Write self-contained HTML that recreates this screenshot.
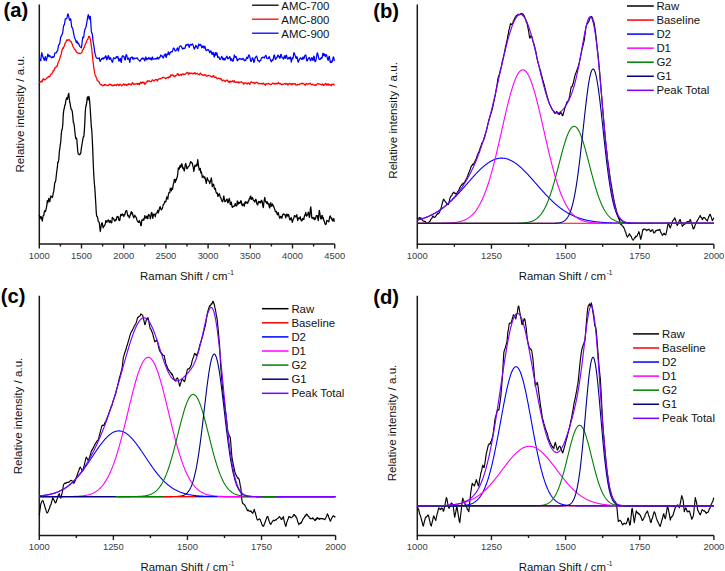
<!DOCTYPE html>
<html><head><meta charset="utf-8"><style>
html,body{margin:0;padding:0;background:#fff;}
svg{display:block;font-family:"Liberation Sans", sans-serif;}
</style></head><body>
<svg width="725" height="571" viewBox="0 0 725 571">
<rect width="725" height="571" fill="#fff"/>
<path d="M39.3 4.4V244H334.7" fill="none" stroke="#1a1a1a" stroke-width="1.5"/>
<text x="39.30" y="258.6" font-size="9.4" text-anchor="middle" fill="#3c3c3c">1000</text>
<text x="81.50" y="258.6" font-size="9.4" text-anchor="middle" fill="#3c3c3c">1500</text>
<text x="123.70" y="258.6" font-size="9.4" text-anchor="middle" fill="#3c3c3c">2000</text>
<text x="165.90" y="258.6" font-size="9.4" text-anchor="middle" fill="#3c3c3c">2500</text>
<text x="208.10" y="258.6" font-size="9.4" text-anchor="middle" fill="#3c3c3c">3000</text>
<text x="250.30" y="258.6" font-size="9.4" text-anchor="middle" fill="#3c3c3c">3500</text>
<text x="292.50" y="258.6" font-size="9.4" text-anchor="middle" fill="#3c3c3c">4000</text>
<text x="334.70" y="258.6" font-size="9.4" text-anchor="middle" fill="#3c3c3c">4500</text>
<path d="M39.30 244v4.6M60.40 244v2.6M81.50 244v4.6M102.60 244v2.6M123.70 244v4.6M144.80 244v2.6M165.90 244v4.6M187.00 244v2.6M208.10 244v4.6M229.20 244v2.6M250.30 244v4.6M271.40 244v2.6M292.50 244v4.6M313.60 244v2.6M334.70 244v4.6" stroke="#1a1a1a" stroke-width="1.4"/>
<text x="187.00" y="280" font-size="11.4" text-anchor="middle" fill="#111">Raman Shift / cm<tspan dx="0.6" dy="-5.2" font-size="6.6">-1</tspan></text>
<text transform="translate(23.5 114.2) rotate(-90)" font-size="11.6" text-anchor="middle" fill="#111">Relative intensity / a.u.</text>
<text x="3.5" y="17.2" font-size="20.2" font-weight="bold" fill="#000">(a)</text>
<path d="M39.30 214.82L39.80 218.55L40.30 218.35L40.80 216.48L41.30 217.02L41.80 219.43L42.30 221.16L42.80 217.45L43.30 215.36L43.80 215.43L44.30 211.84L44.80 210.65L45.30 211.68L45.80 210.41L46.30 208.16L46.80 205.73L47.30 200.53L47.80 202.94L48.30 200.96L48.80 198.32L49.30 200.74L49.80 201.63L50.30 198.58L50.80 195.99L51.30 196.39L51.80 196.71L52.30 197.72L52.80 195.73L53.30 192.75L53.80 191.12L54.30 186.62L54.80 182.48L55.30 182.05L55.80 180.05L56.30 175.36L56.80 171.09L57.30 167.97L57.80 162.10L58.30 162.23L58.80 159.36L59.30 152.02L59.80 148.66L60.30 144.60L60.80 141.23L61.30 133.64L61.80 129.90L62.30 129.03L62.80 124.24L63.30 114.05L63.80 110.07L64.30 108.25L64.80 105.13L65.30 104.97L65.80 100.64L66.30 99.10L66.80 97.60L67.30 99.30L67.80 97.50L68.30 94.51L68.80 93.35L69.30 99.18L69.80 102.24L70.30 104.56L70.80 107.97L71.30 109.47L71.80 109.84L72.30 111.73L72.80 116.10L73.30 122.31L73.80 122.87L74.30 126.05L74.80 130.99L75.30 135.68L75.80 138.57L76.30 137.90L76.80 139.32L77.30 145.69L77.80 151.88L78.30 154.08L78.80 154.17L79.30 154.08L79.80 154.76L80.30 153.97L80.80 152.87L81.30 148.50L81.80 145.58L82.30 142.51L82.80 139.57L83.30 136.88L83.80 136.62L84.30 131.42L84.80 122.87L85.30 111.27L85.80 106.73L86.30 104.78L86.80 102.20L87.30 96.95L87.80 99.26L88.30 99.80L88.80 96.43L89.30 97.81L89.80 102.84L90.30 110.05L90.80 118.39L91.30 126.42L91.80 130.49L92.30 139.58L92.80 151.13L93.30 164.77L93.80 175.15L94.30 183.03L94.80 187.88L95.30 195.60L95.80 203.77L96.30 213.12L96.80 216.50L97.30 216.60L97.80 218.40L98.30 221.53L98.80 221.79L99.30 222.72L99.80 227.38L100.30 231.53L100.80 228.02L101.30 224.77L101.80 222.98L102.30 222.98L102.80 226.32L103.30 227.76L103.80 226.33L104.30 225.75L104.80 225.15L105.30 223.69L105.80 220.69L106.30 221.27L106.80 222.35L107.30 221.00L107.80 220.36L108.30 219.89L108.80 220.87L109.30 222.53L109.80 220.95L110.30 220.62L110.80 222.23L111.30 222.91L111.80 222.41L112.30 217.26L112.80 218.70L113.30 218.47L113.80 218.74L114.30 220.39L114.80 221.15L115.30 220.54L115.80 219.30L116.30 220.02L116.80 217.39L117.30 216.38L117.80 217.31L118.30 216.80L118.80 220.11L119.30 220.54L119.80 220.45L120.30 216.69L120.80 214.28L121.30 215.02L121.80 215.65L122.30 213.95L122.80 214.37L123.30 215.10L123.80 216.60L124.30 214.39L124.80 214.80L125.30 212.66L125.80 210.80L126.30 210.71L126.80 210.79L127.30 213.52L127.80 215.95L128.30 215.45L128.80 216.29L129.30 217.93L129.80 216.25L130.30 214.83L130.80 213.22L131.30 211.69L131.80 213.91L132.30 212.54L132.80 215.02L133.30 216.50L133.80 217.81L134.30 216.40L134.80 215.11L135.30 216.75L135.80 216.81L136.30 217.71L136.80 219.52L137.30 220.79L137.80 221.66L138.30 221.96L138.80 222.44L139.30 220.52L139.80 222.00L140.30 222.52L140.80 225.69L141.30 225.48L141.80 219.96L142.30 220.41L142.80 220.40L143.30 218.86L143.80 220.11L144.30 218.37L144.80 215.53L145.30 216.98L145.80 218.19L146.30 217.79L146.80 216.13L147.30 218.27L147.80 218.64L148.30 215.14L148.80 214.47L149.30 215.37L149.80 215.91L150.30 218.78L150.80 216.73L151.30 212.96L151.80 212.39L152.30 214.90L152.80 218.38L153.30 215.51L153.80 214.01L154.30 214.35L154.80 214.59L155.30 216.77L155.80 213.69L156.30 213.23L156.80 212.95L157.30 212.10L157.80 210.25L158.30 212.98L158.80 211.39L159.30 209.21L159.80 207.01L160.30 206.77L160.80 208.92L161.30 209.88L161.80 209.15L162.30 208.57L162.80 206.63L163.30 204.42L163.80 204.32L164.30 203.22L164.80 201.27L165.30 201.64L165.80 201.86L166.30 199.10L166.80 196.79L167.30 198.02L167.80 199.09L168.30 195.20L168.80 192.78L169.30 192.53L169.80 192.58L170.30 188.21L170.80 189.50L171.30 190.87L171.80 188.18L172.30 189.47L172.80 187.91L173.30 184.45L173.80 182.83L174.30 179.40L174.80 179.82L175.30 182.38L175.80 179.40L176.30 180.18L176.80 178.09L177.30 176.85L177.80 173.28L178.30 167.78L178.80 168.22L179.30 169.18L179.80 166.36L180.30 165.18L180.80 167.35L181.30 166.06L181.80 163.67L182.30 165.38L182.80 168.33L183.30 167.81L183.80 169.68L184.30 171.00L184.80 167.92L185.30 164.25L185.80 163.52L186.30 166.22L186.80 168.64L187.30 168.35L187.80 167.77L188.30 166.36L188.80 166.42L189.30 165.46L189.80 164.44L190.30 162.38L190.80 161.50L191.30 162.85L191.80 162.55L192.30 163.15L192.80 165.92L193.30 167.39L193.80 171.40L194.30 169.15L194.80 165.29L195.30 166.27L195.80 165.99L196.30 164.63L196.80 166.08L197.30 162.94L197.80 159.63L198.30 164.97L198.80 167.41L199.30 170.20L199.80 168.59L200.30 168.43L200.80 172.81L201.30 171.87L201.80 173.94L202.30 177.49L202.80 176.72L203.30 176.00L203.80 177.04L204.30 178.19L204.80 176.88L205.30 178.69L205.80 181.10L206.30 183.39L206.80 179.78L207.30 177.74L207.80 180.08L208.30 180.06L208.80 180.86L209.30 182.12L209.80 183.51L210.30 181.69L210.80 180.56L211.30 177.89L211.80 181.14L212.30 186.69L212.80 185.36L213.30 184.12L213.80 184.86L214.30 188.48L214.80 189.29L215.30 188.21L215.80 191.13L216.30 192.79L216.80 193.36L217.30 192.99L217.80 196.28L218.30 195.97L218.80 194.30L219.30 193.78L219.80 195.12L220.30 197.43L220.80 197.50L221.30 199.45L221.80 200.50L222.30 201.77L222.80 201.26L223.30 198.52L223.80 195.78L224.30 199.02L224.80 201.70L225.30 201.44L225.80 201.31L226.30 199.84L226.80 199.05L227.30 199.43L227.80 202.87L228.30 202.24L228.80 199.75L229.30 198.37L229.80 200.97L230.30 204.65L230.80 203.77L231.30 202.18L231.80 205.54L232.30 207.32L232.80 206.68L233.30 206.32L233.80 206.66L234.30 205.98L234.80 205.12L235.30 203.49L235.80 205.78L236.30 205.93L236.80 205.92L237.30 200.79L237.80 202.56L238.30 204.22L238.80 202.21L239.30 202.57L239.80 203.46L240.30 202.69L240.80 200.65L241.30 201.34L241.80 204.40L242.30 205.78L242.80 204.36L243.30 204.03L243.80 205.19L244.30 206.18L244.80 203.02L245.30 201.61L245.80 203.25L246.30 202.07L246.80 202.01L247.30 203.31L247.80 203.18L248.30 200.87L248.80 201.10L249.30 198.27L249.80 198.91L250.30 196.44L250.80 196.12L251.30 199.33L251.80 198.78L252.30 197.54L252.80 198.49L253.30 200.42L253.80 200.44L254.30 200.88L254.80 202.18L255.30 200.00L255.80 199.19L256.30 200.31L256.80 203.56L257.30 204.84L257.80 204.59L258.30 202.22L258.80 201.41L259.30 202.51L259.80 201.65L260.30 202.92L260.80 202.90L261.30 200.46L261.80 200.44L262.30 201.91L262.80 205.94L263.30 207.65L263.80 203.32L264.30 200.22L264.80 197.47L265.30 200.62L265.80 202.15L266.30 201.56L266.80 203.49L267.30 201.79L267.80 203.17L268.30 204.62L268.80 203.87L269.30 207.10L269.80 207.98L270.30 203.65L270.80 202.74L271.30 206.18L271.80 206.08L272.30 203.92L272.80 204.81L273.30 205.96L273.80 206.71L274.30 208.43L274.80 209.29L275.30 211.54L275.80 211.85L276.30 211.31L276.80 212.87L277.30 214.76L277.80 214.24L278.30 212.48L278.80 215.37L279.30 216.74L279.80 218.30L280.30 216.83L280.80 216.29L281.30 216.87L281.80 218.39L282.30 216.29L282.80 214.41L283.30 214.56L283.80 213.83L284.30 214.21L284.80 214.49L285.30 215.75L285.80 217.84L286.30 215.02L286.80 214.16L287.30 214.99L287.80 216.21L288.30 214.50L288.80 215.16L289.30 217.89L289.80 219.92L290.30 219.46L290.80 218.03L291.30 217.62L291.80 220.29L292.30 222.36L292.80 220.66L293.30 219.24L293.80 218.41L294.30 215.91L294.80 215.64L295.30 216.20L295.80 216.91L296.30 215.97L296.80 214.70L297.30 218.55L297.80 220.64L298.30 218.04L298.80 217.88L299.30 218.64L299.80 218.66L300.30 216.75L300.80 219.99L301.30 219.72L301.80 220.98L302.30 219.94L302.80 218.31L303.30 218.74L303.80 219.54L304.30 216.69L304.80 215.34L305.30 214.00L305.80 212.40L306.30 215.97L306.80 216.08L307.30 214.53L307.80 214.78L308.30 212.16L308.80 213.35L309.30 217.45L309.80 216.33L310.30 209.67L310.80 206.85L311.30 212.11L311.80 217.94L312.30 217.64L312.80 217.80L313.30 218.95L313.80 217.39L314.30 218.35L314.80 219.75L315.30 219.08L315.80 217.57L316.30 215.60L316.80 215.90L317.30 215.61L317.80 218.66L318.30 220.64L318.80 214.67L319.30 210.26L319.80 212.93L320.30 216.54L320.80 218.88L321.30 218.81L321.80 215.64L322.30 215.51L322.80 218.54L323.30 217.72L323.80 220.35L324.30 221.22L324.80 223.05L325.30 224.37L325.80 224.58L326.30 223.55L326.80 220.47L327.30 220.81L327.80 220.94L328.30 221.27L328.80 221.88L329.30 219.00L329.80 216.47L330.30 215.94L330.80 217.15L331.30 218.79L331.80 218.07L332.30 220.58L332.80 220.83L333.30 219.36L333.80 218.54L334.30 221.82" fill="none" stroke="#000" stroke-width="1.25" stroke-linejoin="round" />
<path d="M39.30 82.84L39.80 82.40L40.30 82.18L40.80 81.64L41.30 81.03L41.80 81.90L42.30 81.57L42.80 79.34L43.30 78.77L43.80 79.13L44.30 79.96L44.80 79.66L45.30 79.72L45.80 79.16L46.30 78.55L46.80 78.13L47.30 77.82L47.80 77.57L48.30 76.41L48.80 76.46L49.30 76.87L49.80 76.76L50.30 74.96L50.80 74.23L51.30 74.21L51.80 74.02L52.30 72.96L52.80 72.10L53.30 70.36L53.80 70.89L54.30 69.66L54.80 67.85L55.30 67.91L55.80 67.49L56.30 66.37L56.80 66.28L57.30 65.76L57.80 63.70L58.30 62.15L58.80 61.08L59.30 60.30L59.80 58.44L60.30 56.77L60.80 55.31L61.30 53.69L61.80 51.19L62.30 49.17L62.80 48.02L63.30 48.23L63.80 46.86L64.30 45.95L64.80 44.00L65.30 42.88L65.80 42.47L66.30 41.13L66.80 39.79L67.30 39.90L67.80 40.63L68.30 39.93L68.80 39.82L69.30 39.72L69.80 40.33L70.30 41.51L70.80 41.56L71.30 42.06L71.80 43.16L72.30 44.14L72.80 45.99L73.30 47.16L73.80 47.61L74.30 49.14L74.80 49.29L75.30 50.23L75.80 50.70L76.30 51.69L76.80 52.33L77.30 52.58L77.80 52.92L78.30 53.28L78.80 53.28L79.30 53.19L79.80 53.70L80.30 53.73L80.80 53.30L81.30 52.84L81.80 52.56L82.30 50.66L82.80 49.84L83.30 49.54L83.80 47.72L84.30 47.21L84.80 45.63L85.30 44.57L85.80 42.83L86.30 42.65L86.80 40.84L87.30 39.69L87.80 39.39L88.30 37.64L88.80 36.33L89.30 36.27L89.80 37.59L90.30 39.26L90.80 42.13L91.30 45.87L91.80 49.43L92.30 54.44L92.80 59.63L93.30 63.78L93.80 67.59L94.30 71.00L94.80 73.93L95.30 75.57L95.80 76.20L96.30 77.75L96.80 78.92L97.30 80.64L97.80 80.72L98.30 81.43L98.80 81.60L99.30 82.60L99.80 83.72L100.30 84.22L100.80 84.55L101.30 84.30L101.80 85.05L102.30 85.01L102.80 85.87L103.30 85.31L103.80 85.35L104.30 84.54L104.80 85.04L105.30 84.58L105.80 84.82L106.30 85.07L106.80 85.07L107.30 85.48L107.80 85.77L108.30 85.58L108.80 84.87L109.30 84.26L109.80 84.59L110.30 84.53L110.80 84.20L111.30 85.38L111.80 85.06L112.30 85.26L112.80 85.83L113.30 85.65L113.80 85.09L114.30 84.69L114.80 85.30L115.30 85.12L115.80 84.89L116.30 85.69L116.80 84.95L117.30 84.03L117.80 84.64L118.30 84.59L118.80 85.68L119.30 85.22L119.80 84.18L120.30 84.36L120.80 84.82L121.30 85.10L121.80 85.81L122.30 85.26L122.80 84.80L123.30 84.55L123.80 83.72L124.30 84.89L124.80 85.09L125.30 84.42L125.80 84.33L126.30 85.27L126.80 85.67L127.30 84.49L127.80 84.19L128.30 84.67L128.80 83.58L129.30 84.34L129.80 84.25L130.30 84.55L130.80 84.17L131.30 84.92L131.80 84.01L132.30 82.73L132.80 82.79L133.30 84.00L133.80 84.68L134.30 84.10L134.80 83.86L135.30 83.86L135.80 84.22L136.30 84.00L136.80 83.57L137.30 83.33L137.80 84.37L138.30 83.96L138.80 83.29L139.30 84.60L139.80 83.65L140.30 82.47L140.80 82.13L141.30 83.31L141.80 83.10L142.30 82.12L142.80 81.98L143.30 82.99L143.80 82.24L144.30 82.88L144.80 84.43L145.30 83.93L145.80 82.82L146.30 82.12L146.80 81.84L147.30 80.80L147.80 81.58L148.30 81.08L148.80 80.58L149.30 80.78L149.80 81.72L150.30 81.58L150.80 81.64L151.30 81.52L151.80 80.46L152.30 79.89L152.80 79.81L153.30 80.70L153.80 81.09L154.30 80.74L154.80 80.56L155.30 79.68L155.80 79.73L156.30 79.41L156.80 79.73L157.30 81.02L157.80 80.20L158.30 79.13L158.80 79.03L159.30 78.97L159.80 78.58L160.30 78.97L160.80 78.26L161.30 78.35L161.80 78.07L162.30 77.98L162.80 77.39L163.30 77.21L163.80 77.47L164.30 77.65L164.80 77.86L165.30 78.31L165.80 78.84L166.30 78.19L166.80 77.66L167.30 77.66L167.80 77.33L168.30 78.03L168.80 77.14L169.30 76.40L169.80 77.26L170.30 76.51L170.80 74.93L171.30 75.64L171.80 75.47L172.30 74.77L172.80 75.04L173.30 75.38L173.80 76.03L174.30 76.44L174.80 76.87L175.30 75.65L175.80 75.89L176.30 75.35L176.80 74.92L177.30 73.88L177.80 73.55L178.30 74.39L178.80 75.42L179.30 75.67L179.80 75.09L180.30 74.59L180.80 74.34L181.30 75.41L181.80 74.98L182.30 73.98L182.80 73.82L183.30 73.85L183.80 74.80L184.30 74.23L184.80 73.93L185.30 74.11L185.80 73.91L186.30 73.20L186.80 72.62L187.30 72.40L187.80 72.65L188.30 74.17L188.80 74.37L189.30 72.79L189.80 73.54L190.30 73.50L190.80 73.04L191.30 73.29L191.80 73.22L192.30 73.96L192.80 73.35L193.30 73.74L193.80 73.86L194.30 73.01L194.80 72.51L195.30 73.42L195.80 74.05L196.30 73.79L196.80 73.63L197.30 73.26L197.80 74.00L198.30 74.30L198.80 74.43L199.30 74.93L199.80 73.76L200.30 73.07L200.80 73.38L201.30 74.63L201.80 74.50L202.30 74.94L202.80 75.08L203.30 75.67L203.80 75.28L204.30 74.62L204.80 75.13L205.30 75.21L205.80 74.76L206.30 76.11L206.80 76.25L207.30 75.96L207.80 75.54L208.30 75.53L208.80 75.21L209.30 75.73L209.80 75.77L210.30 76.10L210.80 76.17L211.30 76.89L211.80 77.00L212.30 76.36L212.80 76.84L213.30 75.53L213.80 75.83L214.30 77.09L214.80 77.54L215.30 77.43L215.80 76.83L216.30 77.72L216.80 78.34L217.30 78.80L217.80 78.43L218.30 78.47L218.80 78.03L219.30 78.45L219.80 78.78L220.30 79.15L220.80 78.51L221.30 78.96L221.80 80.18L222.30 80.77L222.80 80.23L223.30 80.08L223.80 80.20L224.30 80.96L224.80 81.18L225.30 81.59L225.80 80.75L226.30 80.15L226.80 80.28L227.30 80.14L227.80 80.67L228.30 82.00L228.80 81.57L229.30 81.21L229.80 82.40L230.30 81.59L230.80 81.19L231.30 81.78L231.80 81.53L232.30 80.90L232.80 80.74L233.30 81.83L233.80 81.52L234.30 80.77L234.80 82.32L235.30 82.40L235.80 82.00L236.30 82.19L236.80 81.94L237.30 81.78L237.80 82.43L238.30 82.79L238.80 81.84L239.30 82.57L239.80 82.51L240.30 82.12L240.80 82.01L241.30 81.68L241.80 82.15L242.30 82.77L242.80 82.78L243.30 83.08L243.80 84.33L244.30 82.85L244.80 82.90L245.30 82.76L245.80 83.06L246.30 83.59L246.80 83.21L247.30 84.03L247.80 83.58L248.30 82.88L248.80 83.49L249.30 83.54L249.80 84.54L250.30 82.98L250.80 82.23L251.30 81.83L251.80 82.27L252.30 82.63L252.80 82.43L253.30 82.42L253.80 82.84L254.30 83.53L254.80 83.75L255.30 82.45L255.80 82.75L256.30 82.51L256.80 82.25L257.30 82.46L257.80 83.07L258.30 83.78L258.80 83.35L259.30 83.38L259.80 83.91L260.30 83.72L260.80 83.57L261.30 83.60L261.80 83.35L262.30 84.02L262.80 83.84L263.30 83.19L263.80 83.34L264.30 84.46L264.80 84.59L265.30 85.23L265.80 83.80L266.30 84.05L266.80 83.64L267.30 84.06L267.80 84.06L268.30 83.39L268.80 83.72L269.30 83.92L269.80 84.04L270.30 84.41L270.80 84.64L271.30 84.44L271.80 83.98L272.30 83.43L272.80 83.06L273.30 83.28L273.80 83.71L274.30 84.14L274.80 83.48L275.30 83.36L275.80 83.98L276.30 83.37L276.80 83.42L277.30 83.87L277.80 83.63L278.30 82.43L278.80 83.22L279.30 83.90L279.80 83.60L280.30 83.38L280.80 83.97L281.30 84.63L281.80 84.06L282.30 84.57L282.80 84.42L283.30 83.96L283.80 84.15L284.30 83.69L284.80 83.43L285.30 83.61L285.80 84.36L286.30 83.79L286.80 83.49L287.30 83.86L287.80 85.17L288.30 84.61L288.80 83.91L289.30 83.36L289.80 83.29L290.30 84.21L290.80 83.97L291.30 83.66L291.80 84.83L292.30 84.41L292.80 83.54L293.30 83.66L293.80 83.90L294.30 84.16L294.80 83.71L295.30 83.60L295.80 84.92L296.30 84.76L296.80 85.18L297.30 84.91L297.80 84.25L298.30 84.53L298.80 84.79L299.30 84.62L299.80 84.02L300.30 83.85L300.80 83.98L301.30 83.63L301.80 83.36L302.30 83.08L302.80 83.86L303.30 83.54L303.80 83.83L304.30 84.25L304.80 84.85L305.30 85.34L305.80 84.17L306.30 83.53L306.80 84.08L307.30 84.04L307.80 84.28L308.30 83.76L308.80 83.72L309.30 83.80L309.80 83.48L310.30 83.10L310.80 83.81L311.30 84.54L311.80 84.91L312.30 84.18L312.80 84.26L313.30 84.77L313.80 85.08L314.30 85.42L314.80 84.82L315.30 84.74L315.80 85.48L316.30 85.23L316.80 84.30L317.30 84.07L317.80 83.43L318.30 83.89L318.80 83.88L319.30 84.15L319.80 84.14L320.30 84.32L320.80 84.53L321.30 84.81L321.80 84.53L322.30 83.93L322.80 84.08L323.30 85.44L323.80 85.31L324.30 84.54L324.80 84.47L325.30 83.42L325.80 83.56L326.30 84.67L326.80 85.14L327.30 83.98L327.80 84.47L328.30 85.01L328.80 83.91L329.30 84.99L329.80 84.95L330.30 84.68L330.80 85.41L331.30 85.89L331.80 84.24L332.30 84.42L332.80 84.43L333.30 84.06L333.80 84.37L334.30 85.60" fill="none" stroke="#ff0000" stroke-width="1.25" stroke-linejoin="round" />
<path d="M39.30 58.76L39.80 59.11L40.30 60.68L40.80 60.65L41.30 55.52L41.80 52.56L42.30 54.92L42.80 56.84L43.30 57.70L43.80 58.89L44.30 60.47L44.80 58.39L45.30 56.63L45.80 59.64L46.30 60.58L46.80 58.91L47.30 56.54L47.80 54.08L48.30 54.97L48.80 56.59L49.30 55.64L49.80 55.48L50.30 56.82L50.80 56.89L51.30 57.09L51.80 57.80L52.30 57.45L52.80 56.48L53.30 56.78L53.80 57.23L54.30 55.64L54.80 53.11L55.30 52.92L55.80 52.95L56.30 52.80L56.80 51.61L57.30 51.03L57.80 49.98L58.30 46.39L58.80 44.68L59.30 44.51L59.80 43.25L60.30 39.96L60.80 36.87L61.30 36.19L61.80 35.11L62.30 33.70L62.80 32.23L63.30 27.84L63.80 25.18L64.30 25.00L64.80 22.04L65.30 18.86L65.80 18.75L66.30 18.95L66.80 18.33L67.30 16.42L67.80 13.89L68.30 14.60L68.80 16.83L69.30 19.28L69.80 20.34L70.30 18.80L70.80 19.33L71.30 23.93L71.80 27.43L72.30 27.66L72.80 28.83L73.30 31.73L73.80 34.34L74.30 36.71L74.80 38.31L75.30 39.22L75.80 40.72L76.30 42.66L76.80 41.22L77.30 41.30L77.80 43.55L78.30 43.19L78.80 43.95L79.30 45.12L79.80 46.30L80.30 46.94L80.80 47.37L81.30 47.78L81.80 45.34L82.30 40.48L82.80 37.00L83.30 37.94L83.80 36.70L84.30 32.29L84.80 29.95L85.30 28.47L85.80 27.41L86.30 25.51L86.80 22.53L87.30 19.34L87.80 16.72L88.30 14.68L88.80 16.06L89.30 19.22L89.80 17.83L90.30 16.27L90.80 22.68L91.30 31.48L91.80 33.20L92.30 33.65L92.80 38.84L93.30 42.77L93.80 45.20L94.30 48.82L94.80 52.61L95.30 54.65L95.80 56.36L96.30 57.84L96.80 58.01L97.30 58.39L97.80 58.37L98.30 58.68L98.80 58.16L99.30 57.90L99.80 60.75L100.30 61.42L100.80 59.88L101.30 59.58L101.80 58.65L102.30 58.03L102.80 58.91L103.30 59.07L103.80 57.67L104.30 58.22L104.80 58.14L105.30 56.25L105.80 55.83L106.30 57.27L106.80 59.82L107.30 58.83L107.80 57.02L108.30 55.55L108.80 56.35L109.30 59.31L109.80 59.12L110.30 57.71L110.80 58.37L111.30 59.98L111.80 61.09L112.30 62.37L112.80 61.18L113.30 58.35L113.80 57.68L114.30 58.17L114.80 58.52L115.30 58.58L115.80 58.13L116.30 56.56L116.80 57.39L117.30 57.83L117.80 56.44L118.30 58.19L118.80 60.88L119.30 60.77L119.80 59.15L120.30 58.30L120.80 61.52L121.30 62.35L121.80 58.04L122.30 55.96L122.80 56.61L123.30 55.96L123.80 56.40L124.30 57.80L124.80 59.60L125.30 59.90L125.80 55.67L126.30 54.53L126.80 55.63L127.30 57.71L127.80 59.42L128.30 58.88L128.80 57.88L129.30 60.10L129.80 62.47L130.30 59.45L130.80 57.51L131.30 57.37L131.80 57.04L132.30 57.01L132.80 59.23L133.30 59.16L133.80 57.78L134.30 58.92L134.80 58.70L135.30 58.15L135.80 58.26L136.30 58.39L136.80 57.81L137.30 57.91L137.80 59.00L138.30 59.50L138.80 59.94L139.30 60.30L139.80 61.10L140.30 60.83L140.80 59.83L141.30 59.10L141.80 58.44L142.30 58.00L142.80 59.04L143.30 58.80L143.80 58.07L144.30 59.71L144.80 60.81L145.30 59.39L145.80 56.93L146.30 58.10L146.80 59.85L147.30 58.47L147.80 58.94L148.30 58.94L148.80 57.38L149.30 58.15L149.80 59.18L150.30 59.03L150.80 57.98L151.30 59.81L151.80 59.81L152.30 56.99L152.80 58.04L153.30 59.23L153.80 59.22L154.30 58.97L154.80 58.75L155.30 59.02L155.80 58.47L156.30 58.90L156.80 58.62L157.30 57.25L157.80 57.93L158.30 59.19L158.80 58.62L159.30 57.40L159.80 57.69L160.30 56.16L160.80 54.86L161.30 56.13L161.80 55.87L162.30 56.15L162.80 57.47L163.30 58.12L163.80 56.54L164.30 54.95L164.80 55.08L165.30 53.88L165.80 56.92L166.30 57.35L166.80 54.10L167.30 54.85L167.80 54.57L168.30 51.88L168.80 52.73L169.30 54.82L169.80 53.54L170.30 52.23L170.80 52.49L171.30 51.62L171.80 51.59L172.30 51.94L172.80 50.14L173.30 48.08L173.80 48.14L174.30 48.77L174.80 50.26L175.30 51.07L175.80 50.81L176.30 50.23L176.80 49.14L177.30 47.95L177.80 48.87L178.30 51.03L178.80 49.45L179.30 46.77L179.80 46.37L180.30 46.21L180.80 45.80L181.30 46.46L181.80 47.31L182.30 48.84L182.80 48.87L183.30 48.08L183.80 48.60L184.30 48.15L184.80 48.45L185.30 47.25L185.80 44.98L186.30 44.98L186.80 45.36L187.30 44.35L187.80 44.24L188.30 44.32L188.80 46.41L189.30 47.47L189.80 45.46L190.30 44.30L190.80 44.63L191.30 45.14L191.80 44.35L192.30 43.82L192.80 44.74L193.30 45.68L193.80 47.54L194.30 49.14L194.80 48.23L195.30 46.99L195.80 45.42L196.30 45.89L196.80 47.14L197.30 47.79L197.80 48.56L198.30 45.39L198.80 44.10L199.30 44.97L199.80 45.58L200.30 44.97L200.80 44.47L201.30 46.26L201.80 47.75L202.30 47.50L202.80 46.00L203.30 45.86L203.80 47.87L204.30 48.10L204.80 46.10L205.30 47.60L205.80 50.10L206.30 50.65L206.80 50.09L207.30 50.05L207.80 49.38L208.30 49.59L208.80 50.37L209.30 51.43L209.80 52.77L210.30 51.46L210.80 50.74L211.30 52.01L211.80 53.99L212.30 54.42L212.80 52.29L213.30 52.71L213.80 55.47L214.30 57.17L214.80 54.33L215.30 52.60L215.80 55.21L216.30 54.31L216.80 52.62L217.30 55.11L217.80 57.62L218.30 56.89L218.80 56.79L219.30 57.96L219.80 59.35L220.30 59.28L220.80 58.65L221.30 57.26L221.80 56.39L222.30 57.54L222.80 59.45L223.30 59.88L223.80 58.22L224.30 58.66L224.80 60.04L225.30 59.26L225.80 58.12L226.30 57.46L226.80 56.11L227.30 57.04L227.80 58.77L228.30 58.24L228.80 58.53L229.30 57.56L229.80 56.59L230.30 58.03L230.80 60.55L231.30 59.24L231.80 58.60L232.30 60.80L232.80 61.13L233.30 60.89L233.80 58.25L234.30 54.98L234.80 56.59L235.30 57.46L235.80 56.69L236.30 56.88L236.80 59.05L237.30 60.75L237.80 59.28L238.30 59.33L238.80 59.73L239.30 58.79L239.80 58.48L240.30 58.54L240.80 59.26L241.30 59.53L241.80 58.81L242.30 59.29L242.80 58.78L243.30 58.41L243.80 59.65L244.30 60.80L244.80 60.03L245.30 60.46L245.80 60.38L246.30 58.26L246.80 57.22L247.30 58.09L247.80 58.32L248.30 56.29L248.80 54.94L249.30 55.43L249.80 56.53L250.30 59.07L250.80 61.38L251.30 61.19L251.80 59.65L252.30 57.98L252.80 57.89L253.30 59.86L253.80 62.26L254.30 61.81L254.80 59.01L255.30 57.57L255.80 56.84L256.30 56.04L256.80 56.56L257.30 58.27L257.80 60.56L258.30 60.55L258.80 60.69L259.30 61.90L259.80 60.78L260.30 60.65L260.80 60.48L261.30 58.34L261.80 57.66L262.30 57.79L262.80 57.28L263.30 57.09L263.80 57.62L264.30 58.00L264.80 56.83L265.30 56.03L265.80 55.29L266.30 56.27L266.80 58.45L267.30 58.65L267.80 58.44L268.30 58.49L268.80 57.27L269.30 56.69L269.80 58.15L270.30 59.65L270.80 60.25L271.30 61.78L271.80 60.91L272.30 59.79L272.80 60.43L273.30 58.75L273.80 56.06L274.30 54.90L274.80 56.52L275.30 59.10L275.80 59.31L276.30 58.20L276.80 57.41L277.30 57.15L277.80 55.18L278.30 55.37L278.80 56.95L279.30 56.38L279.80 58.45L280.30 57.51L280.80 54.40L281.30 54.63L281.80 57.11L282.30 57.60L282.80 57.85L283.30 59.06L283.80 58.30L284.30 55.97L284.80 55.73L285.30 58.44L285.80 57.33L286.30 55.15L286.80 56.36L287.30 58.43L287.80 59.11L288.30 58.75L288.80 57.37L289.30 57.97L289.80 58.79L290.30 56.81L290.80 58.76L291.30 62.09L291.80 59.66L292.30 57.74L292.80 58.97L293.30 56.52L293.80 52.89L294.30 52.89L294.80 54.65L295.30 56.07L295.80 57.75L296.30 58.22L296.80 56.59L297.30 57.70L297.80 61.17L298.30 62.08L298.80 60.96L299.30 59.51L299.80 59.01L300.30 57.80L300.80 57.81L301.30 58.70L301.80 59.51L302.30 59.37L302.80 57.08L303.30 57.13L303.80 59.00L304.30 57.46L304.80 55.60L305.30 55.30L305.80 54.99L306.30 57.66L306.80 60.79L307.30 60.83L307.80 59.44L308.30 58.34L308.80 57.98L309.30 57.47L309.80 58.72L310.30 60.63L310.80 60.52L311.30 58.59L311.80 57.63L312.30 58.37L312.80 60.37L313.30 59.76L313.80 56.16L314.30 57.07L314.80 61.06L315.30 61.71L315.80 60.58L316.30 58.70L316.80 54.97L317.30 52.83L317.80 53.80L318.30 56.26L318.80 58.48L319.30 59.48L319.80 59.03L320.30 59.29L320.80 58.80L321.30 57.52L321.80 58.33L322.30 57.04L322.80 53.31L323.30 53.48L323.80 55.70L324.30 53.94L324.80 54.24L325.30 56.54L325.80 55.63L326.30 54.65L326.80 55.83L327.30 57.57L327.80 59.94L328.30 60.24L328.80 57.13L329.30 56.22L329.80 59.30L330.30 62.53L330.80 62.23L331.30 61.12L331.80 62.29L332.30 61.41L332.80 58.75L333.30 56.86L333.80 57.64L334.30 61.11" fill="none" stroke="#0000ff" stroke-width="1.25" stroke-linejoin="round" />
<path d="M252.1 5.20H278.6" stroke="#000" stroke-width="1.3"/>
<text x="281.3" y="9.60" font-size="11.4" fill="#111">AMC-700</text>
<path d="M252.1 19.20H278.6" stroke="#ff0000" stroke-width="1.3"/>
<text x="281.3" y="23.60" font-size="11.4" fill="#111">AMC-800</text>
<path d="M252.1 33.20H278.6" stroke="#0000ff" stroke-width="1.3"/>
<text x="281.3" y="37.60" font-size="11.4" fill="#111">AMC-900</text>
<path d="M417.3 4.5V244.2H713.9" fill="none" stroke="#1a1a1a" stroke-width="1.5"/>
<text x="417.30" y="258.8" font-size="9.4" text-anchor="middle" fill="#3c3c3c">1000</text>
<text x="491.45" y="258.8" font-size="9.4" text-anchor="middle" fill="#3c3c3c">1250</text>
<text x="565.60" y="258.8" font-size="9.4" text-anchor="middle" fill="#3c3c3c">1500</text>
<text x="639.75" y="258.8" font-size="9.4" text-anchor="middle" fill="#3c3c3c">1750</text>
<text x="713.90" y="258.8" font-size="9.4" text-anchor="middle" fill="#3c3c3c">2000</text>
<path d="M417.30 244.2v4.6M454.38 244.2v2.6M491.45 244.2v4.6M528.52 244.2v2.6M565.60 244.2v4.6M602.67 244.2v2.6M639.75 244.2v4.6M676.83 244.2v2.6M713.90 244.2v4.6" stroke="#1a1a1a" stroke-width="1.4"/>
<text x="565.60" y="280.2" font-size="11.4" text-anchor="middle" fill="#111">Raman Shift / cm<tspan dx="0.6" dy="-5.2" font-size="6.6">-1</tspan></text>
<text transform="translate(397.3 120.4) rotate(-90)" font-size="11.6" text-anchor="middle" fill="#111">Relative intensity / a.u.</text>
<text x="373.3" y="17.8" font-size="20.2" font-weight="bold" fill="#000">(b)</text>
<path d="M417.30 217.94L417.80 218.00L418.30 218.15L418.80 218.19L419.30 218.32L419.80 217.49L420.30 217.63L420.80 218.69L421.30 218.17L421.80 219.64L422.30 219.77L422.80 220.63L423.30 221.08L423.80 221.34L424.30 221.29L424.80 221.31L425.30 221.46L425.80 222.30L426.30 223.51L426.80 223.32L427.30 223.50L427.80 222.84L428.30 222.87L428.80 222.32L429.30 221.55L429.80 221.51L430.30 220.64L430.80 219.19L431.30 218.87L431.80 218.69L432.30 217.09L432.80 215.92L433.30 216.41L433.80 217.10L434.30 217.54L434.80 217.48L435.30 216.47L435.80 215.97L436.30 215.61L436.80 214.48L437.30 214.19L437.80 213.18L438.30 213.86L438.80 213.08L439.30 212.85L439.80 211.47L440.30 209.51L440.80 208.81L441.30 207.12L441.80 205.34L442.30 202.89L442.80 201.83L443.30 199.58L443.80 199.15L444.30 200.37L444.80 200.65L445.30 201.86L445.80 201.99L446.30 202.87L446.80 204.08L447.30 204.59L447.80 204.38L448.30 204.55L448.80 203.00L449.30 200.98L449.80 198.63L450.30 197.28L450.80 196.33L451.30 196.09L451.80 195.56L452.30 194.01L452.80 193.13L453.30 193.01L453.80 192.13L454.30 192.76L454.80 193.52L455.30 193.74L455.80 193.19L456.30 194.64L456.80 194.09L457.30 192.38L457.80 191.52L458.30 190.77L458.80 189.98L459.30 188.98L459.80 187.42L460.30 186.99L460.80 185.67L461.30 185.44L461.80 184.59L462.30 183.87L462.80 183.88L463.30 184.10L463.80 183.10L464.30 182.33L464.80 182.01L465.30 180.74L465.80 179.84L466.30 178.79L466.80 178.71L467.30 176.71L467.80 175.46L468.30 173.96L468.80 172.65L469.30 171.65L469.80 170.22L470.30 169.14L470.80 167.52L471.30 166.04L471.80 165.49L472.30 165.20L472.80 164.01L473.30 164.33L473.80 164.21L474.30 162.29L474.80 161.58L475.30 160.61L475.80 159.51L476.30 158.92L476.80 157.13L477.30 155.27L477.80 154.54L478.30 152.88L478.80 151.92L479.30 150.61L479.80 149.26L480.30 147.74L480.80 146.56L481.30 144.88L481.80 143.05L482.30 142.67L482.80 141.50L483.30 140.75L483.80 139.82L484.30 137.87L484.80 136.87L485.30 134.23L485.80 132.87L486.30 131.36L486.80 129.04L487.30 126.91L487.80 124.50L488.30 122.41L488.80 120.22L489.30 118.62L489.80 117.22L490.30 115.41L490.80 113.76L491.30 112.66L491.80 110.54L492.30 109.23L492.80 106.73L493.30 104.72L493.80 101.77L494.30 99.68L494.80 97.11L495.30 95.04L495.80 91.82L496.30 88.88L496.80 86.22L497.30 83.02L497.80 79.46L498.30 77.14L498.80 76.11L499.30 74.47L499.80 72.68L500.30 70.04L500.80 68.53L501.30 66.89L501.80 64.21L502.30 61.45L502.80 59.90L503.30 57.64L503.80 55.13L504.30 53.19L504.80 50.82L505.30 47.89L505.80 45.88L506.30 43.64L506.80 41.32L507.30 39.01L507.80 35.76L508.30 34.22L508.80 30.61L509.30 28.95L509.80 26.69L510.30 24.47L510.80 23.41L511.30 24.58L511.80 24.35L512.30 24.18L512.80 22.95L513.30 21.04L513.80 20.34L514.30 19.35L514.80 18.35L515.30 16.98L515.80 16.67L516.30 15.62L516.80 15.77L517.30 14.96L517.80 14.72L518.30 14.27L518.80 14.59L519.30 14.84L519.80 14.38L520.30 13.79L520.80 13.82L521.30 13.87L521.80 13.28L522.30 13.95L522.80 14.10L523.30 14.28L523.80 15.42L524.30 16.14L524.80 17.34L525.30 18.86L525.80 19.51L526.30 22.31L526.80 22.43L527.30 24.55L527.80 26.93L528.30 29.65L528.80 32.21L529.30 36.01L529.80 38.14L530.30 37.44L530.80 35.95L531.30 35.46L531.80 36.62L532.30 38.28L532.80 40.92L533.30 42.26L533.80 43.36L534.30 45.60L534.80 47.21L535.30 49.91L535.80 51.00L536.30 54.29L536.80 57.05L537.30 59.74L537.80 62.37L538.30 63.12L538.80 65.62L539.30 66.85L539.80 69.04L540.30 70.45L540.80 71.72L541.30 74.85L541.80 75.79L542.30 78.15L542.80 80.01L543.30 81.36L543.80 83.80L544.30 84.89L544.80 87.16L545.30 89.15L545.80 90.85L546.30 93.33L546.80 95.29L547.30 96.87L547.80 98.39L548.30 100.54L548.80 101.62L549.30 103.28L549.80 104.74L550.30 105.57L550.80 106.50L551.30 107.68L551.80 108.84L552.30 109.80L552.80 110.34L553.30 110.86L553.80 111.86L554.30 112.71L554.80 113.24L555.30 113.39L555.80 112.86L556.30 112.50L556.80 111.33L557.30 112.65L557.80 113.39L558.30 114.04L558.80 113.49L559.30 114.45L559.80 113.48L560.30 113.14L560.80 111.99L561.30 113.74L561.80 113.96L562.30 115.59L562.80 115.56L563.30 113.66L563.80 112.12L564.30 110.40L564.80 107.80L565.30 107.23L565.80 105.44L566.30 103.89L566.80 102.18L567.30 101.79L567.80 101.00L568.30 100.97L568.80 100.00L569.30 97.45L569.80 95.42L570.30 91.90L570.80 89.07L571.30 86.71L571.80 86.80L572.30 86.20L572.80 83.83L573.30 83.29L573.80 80.73L574.30 78.26L574.80 76.17L575.30 74.30L575.80 73.39L576.30 71.83L576.80 70.45L577.30 69.31L577.80 67.54L578.30 66.52L578.80 64.32L579.30 62.60L579.80 60.01L580.30 57.91L580.80 55.14L581.30 53.39L581.80 50.51L582.30 48.20L582.80 46.25L583.30 44.13L583.80 42.16L584.30 39.88L584.80 35.45L585.30 32.58L585.80 28.21L586.30 25.89L586.80 24.48L587.30 23.34L587.80 23.12L588.30 22.14L588.80 21.68L589.30 20.02L589.80 18.54L590.30 17.37L590.80 17.42L591.30 16.43L591.80 16.75L592.30 17.87L592.80 18.74L593.30 21.33L593.80 21.53L594.30 24.57L594.80 27.46L595.30 30.64L595.80 34.63L596.30 39.36L596.80 43.50L597.30 48.23L597.80 52.84L598.30 57.30L598.80 62.70L599.30 67.95L599.80 73.61L600.30 79.99L600.80 86.00L601.30 92.36L601.80 98.26L602.30 104.97L602.80 110.79L603.30 116.53L603.80 121.97L604.30 127.72L604.80 133.76L605.30 139.14L605.80 143.26L606.30 148.47L606.80 151.88L607.30 157.67L607.80 161.34L608.30 164.53L608.80 168.03L609.30 171.93L609.80 175.18L610.30 178.57L610.80 182.19L611.30 184.88L611.80 187.46L612.30 190.96L612.80 193.77L613.30 196.65L613.80 199.24L614.30 201.62L614.80 204.24L615.30 206.36L615.80 207.99L616.30 210.40L616.80 213.13L617.30 214.99L617.80 215.86L618.30 217.52L618.80 218.96L619.30 219.61L619.80 221.60L620.30 222.57L620.80 224.73L621.30 224.55L621.80 224.96L622.30 225.81L622.80 226.26L623.30 226.77L623.80 227.59L624.30 228.82L624.80 229.86L625.30 231.79L625.80 232.12L626.30 234.86L626.80 235.59L627.30 237.10L627.80 236.26L628.30 235.88L628.80 234.89L629.30 233.84L629.80 234.05L630.30 235.63L630.80 236.28L631.30 236.39L631.80 238.00L632.30 239.28L632.80 239.98L633.30 240.09L633.80 239.20L634.30 238.47L634.80 237.46L635.30 237.70L635.80 236.04L636.30 236.59L636.80 236.22L637.30 235.46L637.80 233.94L638.30 233.31L638.80 231.62L639.30 232.95L639.80 235.16L640.30 237.58L640.80 239.41L641.30 236.71L641.80 235.56L642.30 232.17L642.80 229.70L643.30 229.91L643.80 228.95L644.30 229.10L644.80 229.00L645.30 229.51L645.80 229.81L646.30 229.83L646.80 230.85L647.30 229.89L647.80 229.68L648.30 229.73L648.80 229.15L649.30 230.05L649.80 230.11L650.30 231.37L650.80 231.58L651.30 230.80L651.80 230.01L652.30 229.65L652.80 230.15L653.30 231.58L653.80 232.94L654.30 232.77L654.80 232.77L655.30 230.79L655.80 231.17L656.30 230.53L656.80 230.31L657.30 230.48L657.80 229.84L658.30 230.38L658.80 229.76L659.30 229.95L659.80 229.26L660.30 231.01L660.80 232.46L661.30 233.03L661.80 233.80L662.30 235.35L662.80 234.90L663.30 234.39L663.80 233.61L664.30 233.30L664.80 234.54L665.30 234.75L665.80 234.81L666.30 232.68L666.80 230.49L667.30 227.58L667.80 225.20L668.30 222.61L668.80 223.95L669.30 225.51L669.80 227.28L670.30 228.00L670.80 226.39L671.30 224.90L671.80 223.10L672.30 221.68L672.80 220.70L673.30 220.06L673.80 220.04L674.30 218.50L674.80 217.93L675.30 218.91L675.80 220.25L676.30 222.63L676.80 224.43L677.30 225.47L677.80 224.38L678.30 223.69L678.80 221.94L679.30 220.72L679.80 219.64L680.30 219.66L680.80 221.74L681.30 222.57L681.80 224.05L682.30 226.35L682.80 225.47L683.30 225.25L683.80 224.74L684.30 224.07L684.80 224.22L685.30 223.66L685.80 222.94L686.30 222.24L686.80 221.92L687.30 221.67L687.80 221.97L688.30 221.52L688.80 221.68L689.30 221.33L689.80 220.68L690.30 219.47L690.80 220.65L691.30 223.12L691.80 224.17L692.30 225.08L692.80 227.52L693.30 228.99L693.80 228.30L694.30 228.20L694.80 226.12L695.30 224.66L695.80 223.59L696.30 222.58L696.80 221.14L697.30 220.88L697.80 219.85L698.30 219.01L698.80 218.07L699.30 217.03L699.80 216.39L700.30 215.45L700.80 217.24L701.30 217.37L701.80 218.18L702.30 219.71L702.80 219.09L703.30 217.48L703.80 217.74L704.30 217.51L704.80 217.94L705.30 218.39L705.80 219.39L706.30 219.79L706.80 220.32L707.30 220.97L707.80 219.37L708.30 217.98L708.80 216.43L709.30 215.96L709.80 214.51L710.30 214.31L710.80 215.95L711.30 217.33L711.80 218.92L712.30 220.59L712.80 220.10L713.30 218.89L713.80 217.81" fill="none" stroke="#000000" stroke-width="1.15" stroke-linejoin="round" />
<path d="M417.3 223.3H713.9" fill="none" stroke="#ff0000" stroke-width="1.1" stroke-linejoin="round" />
<path d="M417.30 220.01L417.80 219.89L418.30 219.77L418.80 219.64L419.30 219.51L419.80 219.38L420.30 219.24L420.80 219.10L421.30 218.96L421.80 218.81L422.30 218.65L422.80 218.50L423.30 218.34L423.80 218.17L424.30 218.00L424.80 217.83L425.30 217.65L425.80 217.47L426.30 217.28L426.80 217.08L427.30 216.89L427.80 216.68L428.30 216.48L428.80 216.26L429.30 216.05L429.80 215.82L430.30 215.59L430.80 215.36L431.30 215.12L431.80 214.88L432.30 214.63L432.80 214.37L433.30 214.11L433.80 213.85L434.30 213.57L434.80 213.30L435.30 213.01L435.80 212.72L436.30 212.43L436.80 212.13L437.30 211.82L437.80 211.51L438.30 211.19L438.80 210.86L439.30 210.53L439.80 210.19L440.30 209.85L440.80 209.50L441.30 209.15L441.80 208.78L442.30 208.42L442.80 208.04L443.30 207.66L443.80 207.28L444.30 206.88L444.80 206.49L445.30 206.08L445.80 205.67L446.30 205.26L446.80 204.83L447.30 204.41L447.80 203.97L448.30 203.53L448.80 203.09L449.30 202.64L449.80 202.18L450.30 201.72L450.80 201.25L451.30 200.78L451.80 200.30L452.30 199.81L452.80 199.32L453.30 198.83L453.80 198.33L454.30 197.83L454.80 197.32L455.30 196.81L455.80 196.29L456.30 195.77L456.80 195.24L457.30 194.71L457.80 194.18L458.30 193.64L458.80 193.10L459.30 192.55L459.80 192.00L460.30 191.45L460.80 190.90L461.30 190.34L461.80 189.78L462.30 189.22L462.80 188.66L463.30 188.09L463.80 187.53L464.30 186.96L464.80 186.39L465.30 185.82L465.80 185.24L466.30 184.67L466.80 184.10L467.30 183.52L467.80 182.95L468.30 182.38L468.80 181.81L469.30 181.24L469.80 180.67L470.30 180.10L470.80 179.53L471.30 178.96L471.80 178.40L472.30 177.84L472.80 177.28L473.30 176.73L473.80 176.17L474.30 175.63L474.80 175.08L475.30 174.54L475.80 174.00L476.30 173.47L476.80 172.95L477.30 172.42L477.80 171.91L478.30 171.40L478.80 170.89L479.30 170.39L479.80 169.90L480.30 169.41L480.80 168.94L481.30 168.46L481.80 168.00L482.30 167.54L482.80 167.10L483.30 166.66L483.80 166.23L484.30 165.80L484.80 165.39L485.30 164.99L485.80 164.59L486.30 164.21L486.80 163.83L487.30 163.47L487.80 163.11L488.30 162.77L488.80 162.44L489.30 162.11L489.80 161.80L490.30 161.51L490.80 161.22L491.30 160.94L491.80 160.68L492.30 160.43L492.80 160.19L493.30 159.96L493.80 159.75L494.30 159.54L494.80 159.35L495.30 159.18L495.80 159.01L496.30 158.86L496.80 158.73L497.30 158.60L497.80 158.49L498.30 158.40L498.80 158.31L499.30 158.24L499.80 158.19L500.30 158.15L500.80 158.12L501.30 158.10L501.80 158.10L502.30 158.11L502.80 158.14L503.30 158.18L503.80 158.23L504.30 158.30L504.80 158.38L505.30 158.47L505.80 158.58L506.30 158.70L506.80 158.84L507.30 158.98L507.80 159.14L508.30 159.32L508.80 159.50L509.30 159.70L509.80 159.92L510.30 160.14L510.80 160.38L511.30 160.63L511.80 160.89L512.30 161.16L512.80 161.45L513.30 161.74L513.80 162.05L514.30 162.37L514.80 162.70L515.30 163.04L515.80 163.40L516.30 163.76L516.80 164.13L517.30 164.51L517.80 164.91L518.30 165.31L518.80 165.72L519.30 166.14L519.80 166.57L520.30 167.01L520.80 167.45L521.30 167.91L521.80 168.37L522.30 168.84L522.80 169.32L523.30 169.80L523.80 170.29L524.30 170.79L524.80 171.29L525.30 171.80L525.80 172.32L526.30 172.84L526.80 173.37L527.30 173.90L527.80 174.43L528.30 174.97L528.80 175.52L529.30 176.06L529.80 176.62L530.30 177.17L530.80 177.73L531.30 178.29L531.80 178.85L532.30 179.42L532.80 179.98L533.30 180.55L533.80 181.12L534.30 181.69L534.80 182.26L535.30 182.84L535.80 183.41L536.30 183.98L536.80 184.56L537.30 185.13L537.80 185.70L538.30 186.27L538.80 186.84L539.30 187.41L539.80 187.98L540.30 188.55L540.80 189.11L541.30 189.67L541.80 190.23L542.30 190.79L542.80 191.34L543.30 191.89L543.80 192.44L544.30 192.99L544.80 193.53L545.30 194.07L545.80 194.60L546.30 195.13L546.80 195.66L547.30 196.18L547.80 196.70L548.30 197.22L548.80 197.73L549.30 198.23L549.80 198.73L550.30 199.23L550.80 199.72L551.30 200.20L551.80 200.68L552.30 201.15L552.80 201.62L553.30 202.09L553.80 202.54L554.30 203.00L554.80 203.44L555.30 203.88L555.80 204.32L556.30 204.75L556.80 205.17L557.30 205.59L557.80 206.00L558.30 206.41L558.80 206.81L559.30 207.20L559.80 207.59L560.30 207.97L560.80 208.34L561.30 208.71L561.80 209.07L562.30 209.43L562.80 209.78L563.30 210.13L563.80 210.46L564.30 210.80L564.80 211.12L565.30 211.44L565.80 211.76L566.30 212.07L566.80 212.37L567.30 212.66L567.80 212.96L568.30 213.24L568.80 213.52L569.30 213.79L569.80 214.06L570.30 214.32L570.80 214.58L571.30 214.83L571.80 215.07L572.30 215.31L572.80 215.55L573.30 215.78L573.80 216.00L574.30 216.22L574.80 216.43L575.30 216.64L575.80 216.85L576.30 217.05L576.80 217.24L577.30 217.43L577.80 217.61L578.30 217.79L578.80 217.97L579.30 218.14L579.80 218.30L580.30 218.47L580.80 218.62L581.30 218.78L581.80 218.93L582.30 219.07L582.80 219.21L583.30 219.35L583.80 219.48L584.30 219.61L584.80 219.74L585.30 219.86L585.80 219.98L586.30 220.10L586.80 220.21L587.30 220.32L587.80 220.42L588.30 220.53L588.80 220.63L589.30 220.72L589.80 220.82L590.30 220.91L590.80 221.00L591.30 221.08L591.80 221.16L592.30 221.24L592.80 221.32L593.30 221.39L593.80 221.47L594.30 221.54L594.80 221.60L595.30 221.67L595.80 221.73L596.30 221.79L596.80 221.85L597.30 221.91L597.80 221.96L598.30 222.02L598.80 222.07L599.30 222.12L599.80 222.17L600.30 222.21L600.80 222.26L601.30 222.30L601.80 222.34L602.30 222.38L602.80 222.42L603.30 222.45L603.80 222.49L604.30 222.52L604.80 222.56L605.30 222.59L605.80 222.62L606.30 222.65L606.80 222.68L607.30 222.70L607.80 222.73L608.30 222.75L608.80 222.78L609.30 222.80L609.80 222.82L610.30 222.84L610.80 222.86L611.30 222.88L611.80 222.90L612.30 222.92L612.80 222.94L613.30 222.95L613.80 222.97L614.30 222.99L614.80 223.00L615.30 223.01L615.80 223.03L616.30 223.04L616.80 223.05L617.30 223.06L617.80 223.08L618.30 223.09L618.80 223.10L619.30 223.11L619.80 223.12L620.30 223.12L620.80 223.13L621.30 223.14L621.80 223.15L622.30 223.16L622.80 223.16L623.30 223.17L623.80 223.18L624.30 223.18L624.80 223.19L625.30 223.19L625.80 223.20L626.30 223.21L626.80 223.21L627.30 223.21L627.80 223.22L628.30 223.22L628.80 223.23L629.30 223.23L629.80 223.23L630.30 223.24L630.80 223.24L631.30 223.24L631.80 223.25L632.30 223.25L632.80 223.25L633.30 223.26L633.80 223.26L634.30 223.26L634.80 223.26L635.30 223.26L635.80 223.27L636.30 223.27L636.80 223.27L637.30 223.27L637.80 223.27L638.30 223.27L638.80 223.28L639.30 223.28L639.80 223.28L640.30 223.28L640.80 223.28L641.30 223.28L641.80 223.28L642.30 223.28L642.80 223.28L643.30 223.29L643.80 223.29L644.30 223.29L644.80 223.29L645.30 223.29L645.80 223.29L646.30 223.29L646.80 223.29L647.30 223.29L647.80 223.29L648.30 223.29L648.80 223.29L649.30 223.29L649.80 223.29L650.30 223.29L650.80 223.29L651.30 223.29L651.80 223.30L652.30 223.30L652.80 223.30L653.30 223.30L653.80 223.30L654.30 223.30L654.80 223.30L655.30 223.30L655.80 223.30L656.30 223.30L656.80 223.30L657.30 223.30L657.80 223.30L658.30 223.30L658.80 223.30L659.30 223.30L659.80 223.30L660.30 223.30L660.80 223.30L661.30 223.30L661.80 223.30L662.30 223.30L662.80 223.30L663.30 223.30L663.80 223.30L664.30 223.30L664.80 223.30L665.30 223.30L665.80 223.30L666.30 223.30L666.80 223.30L667.30 223.30L667.80 223.30L668.30 223.30L668.80 223.30L669.30 223.30L669.80 223.30L670.30 223.30L670.80 223.30L671.30 223.30L671.80 223.30L672.30 223.30L672.80 223.30L673.30 223.30L673.80 223.30L674.30 223.30L674.80 223.30L675.30 223.30L675.80 223.30L676.30 223.30L676.80 223.30L677.30 223.30L677.80 223.30L678.30 223.30L678.80 223.30L679.30 223.30L679.80 223.30L680.30 223.30L680.80 223.30L681.30 223.30L681.80 223.30L682.30 223.30L682.80 223.30L683.30 223.30L683.80 223.30L684.30 223.30L684.80 223.30L685.30 223.30L685.80 223.30L686.30 223.30L686.80 223.30L687.30 223.30L687.80 223.30L688.30 223.30L688.80 223.30L689.30 223.30L689.80 223.30L690.30 223.30L690.80 223.30L691.30 223.30L691.80 223.30L692.30 223.30L692.80 223.30L693.30 223.30L693.80 223.30L694.30 223.30L694.80 223.30L695.30 223.30L695.80 223.30L696.30 223.30L696.80 223.30L697.30 223.30L697.80 223.30L698.30 223.30L698.80 223.30L699.30 223.30L699.80 223.30L700.30 223.30L700.80 223.30L701.30 223.30L701.80 223.30L702.30 223.30L702.80 223.30L703.30 223.30L703.80 223.30L704.30 223.30L704.80 223.30L705.30 223.30L705.80 223.30L706.30 223.30L706.80 223.30L707.30 223.30L707.80 223.30L708.30 223.30L708.80 223.30L709.30 223.30L709.80 223.30L710.30 223.30L710.80 223.30L711.30 223.30L711.80 223.30L712.30 223.30L712.80 223.30L713.30 223.30L713.80 223.30" fill="none" stroke="#0000ff" stroke-width="1.1" stroke-linejoin="round" />
<path d="M417.30 223.30L417.80 223.30L418.30 223.30L418.80 223.30L419.30 223.30L419.80 223.30L420.30 223.30L420.80 223.30L421.30 223.30L421.80 223.30L422.30 223.30L422.80 223.30L423.30 223.30L423.80 223.30L424.30 223.30L424.80 223.30L425.30 223.30L425.80 223.30L426.30 223.30L426.80 223.30L427.30 223.30L427.80 223.29L428.30 223.29L428.80 223.29L429.30 223.29L429.80 223.29L430.30 223.29L430.80 223.29L431.30 223.29L431.80 223.29L432.30 223.29L432.80 223.28L433.30 223.28L433.80 223.28L434.30 223.28L434.80 223.28L435.30 223.27L435.80 223.27L436.30 223.27L436.80 223.26L437.30 223.26L437.80 223.26L438.30 223.25L438.80 223.25L439.30 223.24L439.80 223.24L440.30 223.23L440.80 223.22L441.30 223.22L441.80 223.21L442.30 223.20L442.80 223.19L443.30 223.18L443.80 223.17L444.30 223.16L444.80 223.14L445.30 223.13L445.80 223.12L446.30 223.10L446.80 223.08L447.30 223.06L447.80 223.04L448.30 223.02L448.80 222.99L449.30 222.96L449.80 222.94L450.30 222.90L450.80 222.87L451.30 222.83L451.80 222.79L452.30 222.75L452.80 222.71L453.30 222.66L453.80 222.61L454.30 222.55L454.80 222.49L455.30 222.42L455.80 222.35L456.30 222.28L456.80 222.20L457.30 222.12L457.80 222.02L458.30 221.93L458.80 221.82L459.30 221.71L459.80 221.59L460.30 221.47L460.80 221.34L461.30 221.19L461.80 221.04L462.30 220.88L462.80 220.71L463.30 220.53L463.80 220.33L464.30 220.13L464.80 219.91L465.30 219.68L465.80 219.44L466.30 219.19L466.80 218.92L467.30 218.63L467.80 218.33L468.30 218.01L468.80 217.67L469.30 217.32L469.80 216.95L470.30 216.56L470.80 216.14L471.30 215.71L471.80 215.26L472.30 214.78L472.80 214.28L473.30 213.76L473.80 213.21L474.30 212.64L474.80 212.04L475.30 211.41L475.80 210.76L476.30 210.07L476.80 209.36L477.30 208.62L477.80 207.85L478.30 207.04L478.80 206.21L479.30 205.34L479.80 204.43L480.30 203.50L480.80 202.53L481.30 201.52L481.80 200.48L482.30 199.40L482.80 198.28L483.30 197.13L483.80 195.94L484.30 194.71L484.80 193.44L485.30 192.13L485.80 190.79L486.30 189.41L486.80 187.98L487.30 186.52L487.80 185.02L488.30 183.49L488.80 181.91L489.30 180.30L489.80 178.64L490.30 176.95L490.80 175.23L491.30 173.47L491.80 171.67L492.30 169.84L492.80 167.97L493.30 166.07L493.80 164.14L494.30 162.18L494.80 160.19L495.30 158.18L495.80 156.13L496.30 154.07L496.80 151.97L497.30 149.86L497.80 147.73L498.30 145.58L498.80 143.41L499.30 141.23L499.80 139.04L500.30 136.84L500.80 134.63L501.30 132.41L501.80 130.20L502.30 127.98L502.80 125.77L503.30 123.56L503.80 121.36L504.30 119.17L504.80 116.99L505.30 114.83L505.80 112.69L506.30 110.57L506.80 108.47L507.30 106.40L507.80 104.36L508.30 102.36L508.80 100.39L509.30 98.46L509.80 96.57L510.30 94.72L510.80 92.92L511.30 91.17L511.80 89.48L512.30 87.84L512.80 86.25L513.30 84.73L513.80 83.27L514.30 81.87L514.80 80.54L515.30 79.28L515.80 78.10L516.30 76.98L516.80 75.94L517.30 74.98L517.80 74.09L518.30 73.28L518.80 72.56L519.30 71.92L519.80 71.36L520.30 70.88L520.80 70.49L521.30 70.19L521.80 69.97L522.30 69.84L522.80 69.80L523.30 69.84L523.80 69.97L524.30 70.19L524.80 70.49L525.30 70.88L525.80 71.36L526.30 71.92L526.80 72.56L527.30 73.28L527.80 74.09L528.30 74.98L528.80 75.94L529.30 76.98L529.80 78.10L530.30 79.28L530.80 80.54L531.30 81.87L531.80 83.27L532.30 84.73L532.80 86.25L533.30 87.84L533.80 89.48L534.30 91.17L534.80 92.92L535.30 94.72L535.80 96.57L536.30 98.46L536.80 100.39L537.30 102.36L537.80 104.36L538.30 106.40L538.80 108.47L539.30 110.57L539.80 112.69L540.30 114.83L540.80 116.99L541.30 119.17L541.80 121.36L542.30 123.56L542.80 125.77L543.30 127.98L543.80 130.20L544.30 132.41L544.80 134.63L545.30 136.84L545.80 139.04L546.30 141.23L546.80 143.41L547.30 145.58L547.80 147.73L548.30 149.86L548.80 151.97L549.30 154.07L549.80 156.13L550.30 158.18L550.80 160.19L551.30 162.18L551.80 164.14L552.30 166.07L552.80 167.97L553.30 169.84L553.80 171.67L554.30 173.47L554.80 175.23L555.30 176.95L555.80 178.64L556.30 180.30L556.80 181.91L557.30 183.49L557.80 185.02L558.30 186.52L558.80 187.98L559.30 189.41L559.80 190.79L560.30 192.13L560.80 193.44L561.30 194.71L561.80 195.94L562.30 197.13L562.80 198.28L563.30 199.40L563.80 200.48L564.30 201.52L564.80 202.53L565.30 203.50L565.80 204.43L566.30 205.34L566.80 206.21L567.30 207.04L567.80 207.85L568.30 208.62L568.80 209.36L569.30 210.07L569.80 210.76L570.30 211.41L570.80 212.04L571.30 212.64L571.80 213.21L572.30 213.76L572.80 214.28L573.30 214.78L573.80 215.26L574.30 215.71L574.80 216.14L575.30 216.56L575.80 216.95L576.30 217.32L576.80 217.67L577.30 218.01L577.80 218.33L578.30 218.63L578.80 218.92L579.30 219.19L579.80 219.44L580.30 219.68L580.80 219.91L581.30 220.13L581.80 220.33L582.30 220.53L582.80 220.71L583.30 220.88L583.80 221.04L584.30 221.19L584.80 221.34L585.30 221.47L585.80 221.59L586.30 221.71L586.80 221.82L587.30 221.93L587.80 222.02L588.30 222.12L588.80 222.20L589.30 222.28L589.80 222.35L590.30 222.42L590.80 222.49L591.30 222.55L591.80 222.61L592.30 222.66L592.80 222.71L593.30 222.75L593.80 222.79L594.30 222.83L594.80 222.87L595.30 222.90L595.80 222.94L596.30 222.96L596.80 222.99L597.30 223.02L597.80 223.04L598.30 223.06L598.80 223.08L599.30 223.10L599.80 223.12L600.30 223.13L600.80 223.14L601.30 223.16L601.80 223.17L602.30 223.18L602.80 223.19L603.30 223.20L603.80 223.21L604.30 223.22L604.80 223.22L605.30 223.23L605.80 223.24L606.30 223.24L606.80 223.25L607.30 223.25L607.80 223.26L608.30 223.26L608.80 223.26L609.30 223.27L609.80 223.27L610.30 223.27L610.80 223.28L611.30 223.28L611.80 223.28L612.30 223.28L612.80 223.28L613.30 223.29L613.80 223.29L614.30 223.29L614.80 223.29L615.30 223.29L615.80 223.29L616.30 223.29L616.80 223.29L617.30 223.29L617.80 223.29L618.30 223.30L618.80 223.30L619.30 223.30L619.80 223.30L620.30 223.30L620.80 223.30L621.30 223.30L621.80 223.30L622.30 223.30L622.80 223.30L623.30 223.30L623.80 223.30L624.30 223.30L624.80 223.30L625.30 223.30L625.80 223.30L626.30 223.30L626.80 223.30L627.30 223.30L627.80 223.30L628.30 223.30L628.80 223.30L629.30 223.30L629.80 223.30L630.30 223.30L630.80 223.30L631.30 223.30L631.80 223.30L632.30 223.30L632.80 223.30L633.30 223.30L633.80 223.30L634.30 223.30L634.80 223.30L635.30 223.30L635.80 223.30L636.30 223.30L636.80 223.30L637.30 223.30L637.80 223.30L638.30 223.30L638.80 223.30L639.30 223.30L639.80 223.30L640.30 223.30L640.80 223.30L641.30 223.30L641.80 223.30L642.30 223.30L642.80 223.30L643.30 223.30L643.80 223.30L644.30 223.30L644.80 223.30L645.30 223.30L645.80 223.30L646.30 223.30L646.80 223.30L647.30 223.30L647.80 223.30L648.30 223.30L648.80 223.30L649.30 223.30L649.80 223.30L650.30 223.30L650.80 223.30L651.30 223.30L651.80 223.30L652.30 223.30L652.80 223.30L653.30 223.30L653.80 223.30L654.30 223.30L654.80 223.30L655.30 223.30L655.80 223.30L656.30 223.30L656.80 223.30L657.30 223.30L657.80 223.30L658.30 223.30L658.80 223.30L659.30 223.30L659.80 223.30L660.30 223.30L660.80 223.30L661.30 223.30L661.80 223.30L662.30 223.30L662.80 223.30L663.30 223.30L663.80 223.30L664.30 223.30L664.80 223.30L665.30 223.30L665.80 223.30L666.30 223.30L666.80 223.30L667.30 223.30L667.80 223.30L668.30 223.30L668.80 223.30L669.30 223.30L669.80 223.30L670.30 223.30L670.80 223.30L671.30 223.30L671.80 223.30L672.30 223.30L672.80 223.30L673.30 223.30L673.80 223.30L674.30 223.30L674.80 223.30L675.30 223.30L675.80 223.30L676.30 223.30L676.80 223.30L677.30 223.30L677.80 223.30L678.30 223.30L678.80 223.30L679.30 223.30L679.80 223.30L680.30 223.30L680.80 223.30L681.30 223.30L681.80 223.30L682.30 223.30L682.80 223.30L683.30 223.30L683.80 223.30L684.30 223.30L684.80 223.30L685.30 223.30L685.80 223.30L686.30 223.30L686.80 223.30L687.30 223.30L687.80 223.30L688.30 223.30L688.80 223.30L689.30 223.30L689.80 223.30L690.30 223.30L690.80 223.30L691.30 223.30L691.80 223.30L692.30 223.30L692.80 223.30L693.30 223.30L693.80 223.30L694.30 223.30L694.80 223.30L695.30 223.30L695.80 223.30L696.30 223.30L696.80 223.30L697.30 223.30L697.80 223.30L698.30 223.30L698.80 223.30L699.30 223.30L699.80 223.30L700.30 223.30L700.80 223.30L701.30 223.30L701.80 223.30L702.30 223.30L702.80 223.30L703.30 223.30L703.80 223.30L704.30 223.30L704.80 223.30L705.30 223.30L705.80 223.30L706.30 223.30L706.80 223.30L707.30 223.30L707.80 223.30L708.30 223.30L708.80 223.30L709.30 223.30L709.80 223.30L710.30 223.30L710.80 223.30L711.30 223.30L711.80 223.30L712.30 223.30L712.80 223.30L713.30 223.30L713.80 223.30" fill="none" stroke="#ff00ff" stroke-width="1.1" stroke-linejoin="round" />
<path d="M417.30 223.30L417.80 223.30L418.30 223.30L418.80 223.30L419.30 223.30L419.80 223.30L420.30 223.30L420.80 223.30L421.30 223.30L421.80 223.30L422.30 223.30L422.80 223.30L423.30 223.30L423.80 223.30L424.30 223.30L424.80 223.30L425.30 223.30L425.80 223.30L426.30 223.30L426.80 223.30L427.30 223.30L427.80 223.30L428.30 223.30L428.80 223.30L429.30 223.30L429.80 223.30L430.30 223.30L430.80 223.30L431.30 223.30L431.80 223.30L432.30 223.30L432.80 223.30L433.30 223.30L433.80 223.30L434.30 223.30L434.80 223.30L435.30 223.30L435.80 223.30L436.30 223.30L436.80 223.30L437.30 223.30L437.80 223.30L438.30 223.30L438.80 223.30L439.30 223.30L439.80 223.30L440.30 223.30L440.80 223.30L441.30 223.30L441.80 223.30L442.30 223.30L442.80 223.30L443.30 223.30L443.80 223.30L444.30 223.30L444.80 223.30L445.30 223.30L445.80 223.30L446.30 223.30L446.80 223.30L447.30 223.30L447.80 223.30L448.30 223.30L448.80 223.30L449.30 223.30L449.80 223.30L450.30 223.30L450.80 223.30L451.30 223.30L451.80 223.30L452.30 223.30L452.80 223.30L453.30 223.30L453.80 223.30L454.30 223.30L454.80 223.30L455.30 223.30L455.80 223.30L456.30 223.30L456.80 223.30L457.30 223.30L457.80 223.30L458.30 223.30L458.80 223.30L459.30 223.30L459.80 223.30L460.30 223.30L460.80 223.30L461.30 223.30L461.80 223.30L462.30 223.30L462.80 223.30L463.30 223.30L463.80 223.30L464.30 223.30L464.80 223.30L465.30 223.30L465.80 223.30L466.30 223.30L466.80 223.30L467.30 223.30L467.80 223.30L468.30 223.30L468.80 223.30L469.30 223.30L469.80 223.30L470.30 223.30L470.80 223.30L471.30 223.30L471.80 223.30L472.30 223.30L472.80 223.30L473.30 223.30L473.80 223.30L474.30 223.30L474.80 223.30L475.30 223.30L475.80 223.30L476.30 223.30L476.80 223.30L477.30 223.30L477.80 223.30L478.30 223.30L478.80 223.30L479.30 223.30L479.80 223.30L480.30 223.30L480.80 223.30L481.30 223.30L481.80 223.30L482.30 223.30L482.80 223.30L483.30 223.30L483.80 223.30L484.30 223.30L484.80 223.30L485.30 223.30L485.80 223.30L486.30 223.30L486.80 223.30L487.30 223.30L487.80 223.30L488.30 223.30L488.80 223.30L489.30 223.30L489.80 223.30L490.30 223.30L490.80 223.30L491.30 223.30L491.80 223.30L492.30 223.30L492.80 223.30L493.30 223.30L493.80 223.30L494.30 223.30L494.80 223.30L495.30 223.30L495.80 223.30L496.30 223.30L496.80 223.30L497.30 223.30L497.80 223.30L498.30 223.30L498.80 223.30L499.30 223.30L499.80 223.30L500.30 223.30L500.80 223.30L501.30 223.30L501.80 223.30L502.30 223.30L502.80 223.30L503.30 223.30L503.80 223.30L504.30 223.30L504.80 223.30L505.30 223.30L505.80 223.30L506.30 223.30L506.80 223.29L507.30 223.29L507.80 223.29L508.30 223.29L508.80 223.29L509.30 223.29L509.80 223.29L510.30 223.29L510.80 223.28L511.30 223.28L511.80 223.28L512.30 223.28L512.80 223.27L513.30 223.27L513.80 223.26L514.30 223.26L514.80 223.25L515.30 223.25L515.80 223.24L516.30 223.23L516.80 223.22L517.30 223.21L517.80 223.20L518.30 223.19L518.80 223.17L519.30 223.15L519.80 223.14L520.30 223.12L520.80 223.09L521.30 223.07L521.80 223.04L522.30 223.01L522.80 222.97L523.30 222.94L523.80 222.89L524.30 222.85L524.80 222.80L525.30 222.74L525.80 222.68L526.30 222.61L526.80 222.53L527.30 222.45L527.80 222.36L528.30 222.26L528.80 222.16L529.30 222.04L529.80 221.91L530.30 221.77L530.80 221.62L531.30 221.46L531.80 221.28L532.30 221.09L532.80 220.88L533.30 220.66L533.80 220.41L534.30 220.15L534.80 219.87L535.30 219.57L535.80 219.24L536.30 218.90L536.80 218.52L537.30 218.12L537.80 217.70L538.30 217.24L538.80 216.76L539.30 216.24L539.80 215.70L540.30 215.11L540.80 214.50L541.30 213.85L541.80 213.16L542.30 212.43L542.80 211.66L543.30 210.85L543.80 210.00L544.30 209.11L544.80 208.17L545.30 207.19L545.80 206.16L546.30 205.09L546.80 203.97L547.30 202.80L547.80 201.59L548.30 200.33L548.80 199.02L549.30 197.67L549.80 196.27L550.30 194.83L550.80 193.34L551.30 191.81L551.80 190.23L552.30 188.62L552.80 186.96L553.30 185.27L553.80 183.54L554.30 181.78L554.80 179.98L555.30 178.16L555.80 176.31L556.30 174.44L556.80 172.55L557.30 170.64L557.80 168.72L558.30 166.79L558.80 164.85L559.30 162.92L559.80 160.99L560.30 159.06L560.80 157.15L561.30 155.26L561.80 153.38L562.30 151.54L562.80 149.72L563.30 147.94L563.80 146.20L564.30 144.50L564.80 142.86L565.30 141.27L565.80 139.74L566.30 138.27L566.80 136.87L567.30 135.54L567.80 134.28L568.30 133.11L568.80 132.02L569.30 131.02L569.80 130.10L570.30 129.28L570.80 128.56L571.30 127.93L571.80 127.40L572.30 126.98L572.80 126.65L573.30 126.43L573.80 126.32L574.30 126.31L574.80 126.40L575.30 126.60L575.80 126.90L576.30 127.31L576.80 127.82L577.30 128.43L577.80 129.13L578.30 129.93L578.80 130.83L579.30 131.81L579.80 132.89L580.30 134.04L580.80 135.28L581.30 136.59L581.80 137.98L582.30 139.44L582.80 140.96L583.30 142.54L583.80 144.17L584.30 145.86L584.80 147.59L585.30 149.36L585.80 151.17L586.30 153.01L586.80 154.88L587.30 156.77L587.80 158.68L588.30 160.60L588.80 162.53L589.30 164.47L589.80 166.40L590.30 168.33L590.80 170.25L591.30 172.16L591.80 174.06L592.30 175.94L592.80 177.79L593.30 179.62L593.80 181.42L594.30 183.19L594.80 184.93L595.30 186.63L595.80 188.29L596.30 189.91L596.80 191.50L597.30 193.04L597.80 194.54L598.30 195.99L598.80 197.40L599.30 198.76L599.80 200.07L600.30 201.34L600.80 202.56L601.30 203.74L601.80 204.87L602.30 205.95L602.80 206.98L603.30 207.97L603.80 208.92L604.30 209.82L604.80 210.68L605.30 211.50L605.80 212.28L606.30 213.01L606.80 213.71L607.30 214.37L607.80 214.99L608.30 215.58L608.80 216.14L609.30 216.66L609.80 217.15L610.30 217.61L610.80 218.04L611.30 218.45L611.80 218.82L612.30 219.18L612.80 219.51L613.30 219.81L613.80 220.10L614.30 220.36L614.80 220.61L615.30 220.84L615.80 221.05L616.30 221.24L616.80 221.42L617.30 221.59L617.80 221.74L618.30 221.89L618.80 222.02L619.30 222.13L619.80 222.24L620.30 222.34L620.80 222.43L621.30 222.52L621.80 222.59L622.30 222.66L622.80 222.73L623.30 222.79L623.80 222.84L624.30 222.88L624.80 222.93L625.30 222.97L625.80 223.00L626.30 223.03L626.80 223.06L627.30 223.09L627.80 223.11L628.30 223.13L628.80 223.15L629.30 223.17L629.80 223.18L630.30 223.20L630.80 223.21L631.30 223.22L631.80 223.23L632.30 223.24L632.80 223.24L633.30 223.25L633.80 223.26L634.30 223.26L634.80 223.27L635.30 223.27L635.80 223.27L636.30 223.28L636.80 223.28L637.30 223.28L637.80 223.29L638.30 223.29L638.80 223.29L639.30 223.29L639.80 223.29L640.30 223.29L640.80 223.29L641.30 223.29L641.80 223.30L642.30 223.30L642.80 223.30L643.30 223.30L643.80 223.30L644.30 223.30L644.80 223.30L645.30 223.30L645.80 223.30L646.30 223.30L646.80 223.30L647.30 223.30L647.80 223.30L648.30 223.30L648.80 223.30L649.30 223.30L649.80 223.30L650.30 223.30L650.80 223.30L651.30 223.30L651.80 223.30L652.30 223.30L652.80 223.30L653.30 223.30L653.80 223.30L654.30 223.30L654.80 223.30L655.30 223.30L655.80 223.30L656.30 223.30L656.80 223.30L657.30 223.30L657.80 223.30L658.30 223.30L658.80 223.30L659.30 223.30L659.80 223.30L660.30 223.30L660.80 223.30L661.30 223.30L661.80 223.30L662.30 223.30L662.80 223.30L663.30 223.30L663.80 223.30L664.30 223.30L664.80 223.30L665.30 223.30L665.80 223.30L666.30 223.30L666.80 223.30L667.30 223.30L667.80 223.30L668.30 223.30L668.80 223.30L669.30 223.30L669.80 223.30L670.30 223.30L670.80 223.30L671.30 223.30L671.80 223.30L672.30 223.30L672.80 223.30L673.30 223.30L673.80 223.30L674.30 223.30L674.80 223.30L675.30 223.30L675.80 223.30L676.30 223.30L676.80 223.30L677.30 223.30L677.80 223.30L678.30 223.30L678.80 223.30L679.30 223.30L679.80 223.30L680.30 223.30L680.80 223.30L681.30 223.30L681.80 223.30L682.30 223.30L682.80 223.30L683.30 223.30L683.80 223.30L684.30 223.30L684.80 223.30L685.30 223.30L685.80 223.30L686.30 223.30L686.80 223.30L687.30 223.30L687.80 223.30L688.30 223.30L688.80 223.30L689.30 223.30L689.80 223.30L690.30 223.30L690.80 223.30L691.30 223.30L691.80 223.30L692.30 223.30L692.80 223.30L693.30 223.30L693.80 223.30L694.30 223.30L694.80 223.30L695.30 223.30L695.80 223.30L696.30 223.30L696.80 223.30L697.30 223.30L697.80 223.30L698.30 223.30L698.80 223.30L699.30 223.30L699.80 223.30L700.30 223.30L700.80 223.30L701.30 223.30L701.80 223.30L702.30 223.30L702.80 223.30L703.30 223.30L703.80 223.30L704.30 223.30L704.80 223.30L705.30 223.30L705.80 223.30L706.30 223.30L706.80 223.30L707.30 223.30L707.80 223.30L708.30 223.30L708.80 223.30L709.30 223.30L709.80 223.30L710.30 223.30L710.80 223.30L711.30 223.30L711.80 223.30L712.30 223.30L712.80 223.30L713.30 223.30L713.80 223.30" fill="none" stroke="#008000" stroke-width="1.1" stroke-linejoin="round" />
<path d="M417.30 223.30L417.80 223.30L418.30 223.30L418.80 223.30L419.30 223.30L419.80 223.30L420.30 223.30L420.80 223.30L421.30 223.30L421.80 223.30L422.30 223.30L422.80 223.30L423.30 223.30L423.80 223.30L424.30 223.30L424.80 223.30L425.30 223.30L425.80 223.30L426.30 223.30L426.80 223.30L427.30 223.30L427.80 223.30L428.30 223.30L428.80 223.30L429.30 223.30L429.80 223.30L430.30 223.30L430.80 223.30L431.30 223.30L431.80 223.30L432.30 223.30L432.80 223.30L433.30 223.30L433.80 223.30L434.30 223.30L434.80 223.30L435.30 223.30L435.80 223.30L436.30 223.30L436.80 223.30L437.30 223.30L437.80 223.30L438.30 223.30L438.80 223.30L439.30 223.30L439.80 223.30L440.30 223.30L440.80 223.30L441.30 223.30L441.80 223.30L442.30 223.30L442.80 223.30L443.30 223.30L443.80 223.30L444.30 223.30L444.80 223.30L445.30 223.30L445.80 223.30L446.30 223.30L446.80 223.30L447.30 223.30L447.80 223.30L448.30 223.30L448.80 223.30L449.30 223.30L449.80 223.30L450.30 223.30L450.80 223.30L451.30 223.30L451.80 223.30L452.30 223.30L452.80 223.30L453.30 223.30L453.80 223.30L454.30 223.30L454.80 223.30L455.30 223.30L455.80 223.30L456.30 223.30L456.80 223.30L457.30 223.30L457.80 223.30L458.30 223.30L458.80 223.30L459.30 223.30L459.80 223.30L460.30 223.30L460.80 223.30L461.30 223.30L461.80 223.30L462.30 223.30L462.80 223.30L463.30 223.30L463.80 223.30L464.30 223.30L464.80 223.30L465.30 223.30L465.80 223.30L466.30 223.30L466.80 223.30L467.30 223.30L467.80 223.30L468.30 223.30L468.80 223.30L469.30 223.30L469.80 223.30L470.30 223.30L470.80 223.30L471.30 223.30L471.80 223.30L472.30 223.30L472.80 223.30L473.30 223.30L473.80 223.30L474.30 223.30L474.80 223.30L475.30 223.30L475.80 223.30L476.30 223.30L476.80 223.30L477.30 223.30L477.80 223.30L478.30 223.30L478.80 223.30L479.30 223.30L479.80 223.30L480.30 223.30L480.80 223.30L481.30 223.30L481.80 223.30L482.30 223.30L482.80 223.30L483.30 223.30L483.80 223.30L484.30 223.30L484.80 223.30L485.30 223.30L485.80 223.30L486.30 223.30L486.80 223.30L487.30 223.30L487.80 223.30L488.30 223.30L488.80 223.30L489.30 223.30L489.80 223.30L490.30 223.30L490.80 223.30L491.30 223.30L491.80 223.30L492.30 223.30L492.80 223.30L493.30 223.30L493.80 223.30L494.30 223.30L494.80 223.30L495.30 223.30L495.80 223.30L496.30 223.30L496.80 223.30L497.30 223.30L497.80 223.30L498.30 223.30L498.80 223.30L499.30 223.30L499.80 223.30L500.30 223.30L500.80 223.30L501.30 223.30L501.80 223.30L502.30 223.30L502.80 223.30L503.30 223.30L503.80 223.30L504.30 223.30L504.80 223.30L505.30 223.30L505.80 223.30L506.30 223.30L506.80 223.30L507.30 223.30L507.80 223.30L508.30 223.30L508.80 223.30L509.30 223.30L509.80 223.30L510.30 223.30L510.80 223.30L511.30 223.30L511.80 223.30L512.30 223.30L512.80 223.30L513.30 223.30L513.80 223.30L514.30 223.30L514.80 223.30L515.30 223.30L515.80 223.30L516.30 223.30L516.80 223.30L517.30 223.30L517.80 223.30L518.30 223.30L518.80 223.30L519.30 223.30L519.80 223.30L520.30 223.30L520.80 223.30L521.30 223.30L521.80 223.30L522.30 223.30L522.80 223.30L523.30 223.30L523.80 223.30L524.30 223.30L524.80 223.30L525.30 223.30L525.80 223.30L526.30 223.30L526.80 223.30L527.30 223.30L527.80 223.30L528.30 223.30L528.80 223.30L529.30 223.30L529.80 223.30L530.30 223.30L530.80 223.30L531.30 223.30L531.80 223.30L532.30 223.30L532.80 223.30L533.30 223.30L533.80 223.30L534.30 223.30L534.80 223.30L535.30 223.30L535.80 223.30L536.30 223.30L536.80 223.30L537.30 223.30L537.80 223.30L538.30 223.30L538.80 223.30L539.30 223.30L539.80 223.30L540.30 223.30L540.80 223.30L541.30 223.30L541.80 223.30L542.30 223.30L542.80 223.30L543.30 223.30L543.80 223.30L544.30 223.30L544.80 223.30L545.30 223.30L545.80 223.30L546.30 223.30L546.80 223.30L547.30 223.30L547.80 223.29L548.30 223.29L548.80 223.29L549.30 223.29L549.80 223.29L550.30 223.28L550.80 223.28L551.30 223.28L551.80 223.27L552.30 223.26L552.80 223.25L553.30 223.24L553.80 223.23L554.30 223.22L554.80 223.20L555.30 223.18L555.80 223.15L556.30 223.12L556.80 223.09L557.30 223.05L557.80 223.00L558.30 222.94L558.80 222.87L559.30 222.79L559.80 222.70L560.30 222.59L560.80 222.46L561.30 222.32L561.80 222.15L562.30 221.96L562.80 221.73L563.30 221.48L563.80 221.19L564.30 220.86L564.80 220.49L565.30 220.06L565.80 219.58L566.30 219.05L566.80 218.44L567.30 217.77L567.80 217.01L568.30 216.17L568.80 215.24L569.30 214.21L569.80 213.08L570.30 211.83L570.80 210.46L571.30 208.97L571.80 207.33L572.30 205.56L572.80 203.64L573.30 201.57L573.80 199.34L574.30 196.94L574.80 194.38L575.30 191.65L575.80 188.75L576.30 185.67L576.80 182.43L577.30 179.01L577.80 175.43L578.30 171.69L578.80 167.80L579.30 163.76L579.80 159.58L580.30 155.29L580.80 150.88L581.30 146.39L581.80 141.81L582.30 137.18L582.80 132.52L583.30 127.84L583.80 123.17L584.30 118.54L584.80 113.96L585.30 109.47L585.80 105.09L586.30 100.85L586.80 96.77L587.30 92.89L587.80 89.22L588.30 85.79L588.80 82.63L589.30 79.75L589.80 77.18L590.30 74.93L590.80 73.03L591.30 71.48L591.80 70.30L592.30 69.49L592.80 69.07L593.30 69.03L593.80 69.38L594.30 70.11L594.80 71.21L595.30 72.69L595.80 74.52L596.30 76.70L596.80 79.21L597.30 82.03L597.80 85.13L598.30 88.51L598.80 92.14L599.30 95.98L599.80 100.02L600.30 104.23L600.80 108.59L601.30 113.06L601.80 117.62L602.30 122.24L602.80 126.91L603.30 131.58L603.80 136.25L604.30 140.89L604.80 145.48L605.30 149.99L605.80 154.41L606.30 158.73L606.80 162.93L607.30 167.00L607.80 170.92L608.30 174.70L608.80 178.31L609.30 181.76L609.80 185.04L610.30 188.15L610.80 191.08L611.30 193.85L611.80 196.45L612.30 198.87L612.80 201.14L613.30 203.24L613.80 205.19L614.30 206.99L614.80 208.65L615.30 210.17L615.80 211.57L616.30 212.84L616.80 214.00L617.30 215.05L617.80 216.00L618.30 216.85L618.80 217.62L619.30 218.31L619.80 218.93L620.30 219.48L620.80 219.97L621.30 220.41L621.80 220.79L622.30 221.13L622.80 221.43L623.30 221.69L623.80 221.91L624.30 222.11L624.80 222.29L625.30 222.44L625.80 222.56L626.30 222.68L626.80 222.77L627.30 222.85L627.80 222.93L628.30 222.99L628.80 223.04L629.30 223.08L629.80 223.12L630.30 223.15L630.80 223.17L631.30 223.20L631.80 223.21L632.30 223.23L632.80 223.24L633.30 223.25L633.80 223.26L634.30 223.27L634.80 223.27L635.30 223.28L635.80 223.28L636.30 223.29L636.80 223.29L637.30 223.29L637.80 223.29L638.30 223.29L638.80 223.30L639.30 223.30L639.80 223.30L640.30 223.30L640.80 223.30L641.30 223.30L641.80 223.30L642.30 223.30L642.80 223.30L643.30 223.30L643.80 223.30L644.30 223.30L644.80 223.30L645.30 223.30L645.80 223.30L646.30 223.30L646.80 223.30L647.30 223.30L647.80 223.30L648.30 223.30L648.80 223.30L649.30 223.30L649.80 223.30L650.30 223.30L650.80 223.30L651.30 223.30L651.80 223.30L652.30 223.30L652.80 223.30L653.30 223.30L653.80 223.30L654.30 223.30L654.80 223.30L655.30 223.30L655.80 223.30L656.30 223.30L656.80 223.30L657.30 223.30L657.80 223.30L658.30 223.30L658.80 223.30L659.30 223.30L659.80 223.30L660.30 223.30L660.80 223.30L661.30 223.30L661.80 223.30L662.30 223.30L662.80 223.30L663.30 223.30L663.80 223.30L664.30 223.30L664.80 223.30L665.30 223.30L665.80 223.30L666.30 223.30L666.80 223.30L667.30 223.30L667.80 223.30L668.30 223.30L668.80 223.30L669.30 223.30L669.80 223.30L670.30 223.30L670.80 223.30L671.30 223.30L671.80 223.30L672.30 223.30L672.80 223.30L673.30 223.30L673.80 223.30L674.30 223.30L674.80 223.30L675.30 223.30L675.80 223.30L676.30 223.30L676.80 223.30L677.30 223.30L677.80 223.30L678.30 223.30L678.80 223.30L679.30 223.30L679.80 223.30L680.30 223.30L680.80 223.30L681.30 223.30L681.80 223.30L682.30 223.30L682.80 223.30L683.30 223.30L683.80 223.30L684.30 223.30L684.80 223.30L685.30 223.30L685.80 223.30L686.30 223.30L686.80 223.30L687.30 223.30L687.80 223.30L688.30 223.30L688.80 223.30L689.30 223.30L689.80 223.30L690.30 223.30L690.80 223.30L691.30 223.30L691.80 223.30L692.30 223.30L692.80 223.30L693.30 223.30L693.80 223.30L694.30 223.30L694.80 223.30L695.30 223.30L695.80 223.30L696.30 223.30L696.80 223.30L697.30 223.30L697.80 223.30L698.30 223.30L698.80 223.30L699.30 223.30L699.80 223.30L700.30 223.30L700.80 223.30L701.30 223.30L701.80 223.30L702.30 223.30L702.80 223.30L703.30 223.30L703.80 223.30L704.30 223.30L704.80 223.30L705.30 223.30L705.80 223.30L706.30 223.30L706.80 223.30L707.30 223.30L707.80 223.30L708.30 223.30L708.80 223.30L709.30 223.30L709.80 223.30L710.30 223.30L710.80 223.30L711.30 223.30L711.80 223.30L712.30 223.30L712.80 223.30L713.30 223.30L713.80 223.30" fill="none" stroke="#000080" stroke-width="1.1" stroke-linejoin="round" />
<path d="M417.30 220.01L417.80 219.89L418.30 219.76L418.80 219.64L419.30 219.51L419.80 219.38L420.30 219.24L420.80 219.10L421.30 218.95L421.80 218.81L422.30 218.65L422.80 218.50L423.30 218.34L423.80 218.17L424.30 218.00L424.80 217.82L425.30 217.65L425.80 217.46L426.30 217.27L426.80 217.08L427.30 216.88L427.80 216.68L428.30 216.47L428.80 216.26L429.30 216.04L429.80 215.81L430.30 215.59L430.80 215.35L431.30 215.11L431.80 214.87L432.30 214.61L432.80 214.36L433.30 214.10L433.80 213.83L434.30 213.55L434.80 213.27L435.30 212.99L435.80 212.69L436.30 212.40L436.80 212.09L437.30 211.78L437.80 211.46L438.30 211.14L438.80 210.81L439.30 210.47L439.80 210.13L440.30 209.78L440.80 209.43L441.30 209.06L441.80 208.69L442.30 208.32L442.80 207.93L443.30 207.54L443.80 207.15L444.30 206.74L444.80 206.33L445.30 205.91L445.80 205.49L446.30 205.05L446.80 204.61L447.30 204.17L447.80 203.71L448.30 203.25L448.80 202.78L449.30 202.30L449.80 201.81L450.30 201.32L450.80 200.82L451.30 200.31L451.80 199.79L452.30 199.26L452.80 198.73L453.30 198.19L453.80 197.64L454.30 197.08L454.80 196.51L455.30 195.93L455.80 195.34L456.30 194.75L456.80 194.14L457.30 193.53L457.80 192.90L458.30 192.27L458.80 191.62L459.30 190.97L459.80 190.30L460.30 189.62L460.80 188.93L461.30 188.24L461.80 187.52L462.30 186.80L462.80 186.07L463.30 185.32L463.80 184.56L464.30 183.79L464.80 183.00L465.30 182.20L465.80 181.39L466.30 180.56L466.80 179.71L467.30 178.85L467.80 177.98L468.30 177.09L468.80 176.18L469.30 175.26L469.80 174.31L470.30 173.35L470.80 172.37L471.30 171.38L471.80 170.36L472.30 169.32L472.80 168.26L473.30 167.19L473.80 166.09L474.30 164.96L474.80 163.82L475.30 162.65L475.80 161.46L476.30 160.25L476.80 159.01L477.30 157.74L477.80 156.45L478.30 155.14L478.80 153.80L479.30 152.43L479.80 151.03L480.30 149.61L480.80 148.16L481.30 146.68L481.80 145.18L482.30 143.64L482.80 142.08L483.30 140.48L483.80 138.86L484.30 137.21L484.80 135.53L485.30 133.82L485.80 132.08L486.30 130.31L486.80 128.52L487.30 126.69L487.80 124.84L488.30 122.96L488.80 121.05L489.30 119.11L489.80 117.15L490.30 115.16L490.80 113.15L491.30 111.11L491.80 109.05L492.30 106.96L492.80 104.86L493.30 102.73L493.80 100.59L494.30 98.43L494.80 96.25L495.30 94.06L495.80 91.85L496.30 89.63L496.80 87.40L497.30 85.17L497.80 82.92L498.30 80.67L498.80 78.42L499.30 76.17L499.80 73.93L500.30 71.68L500.80 69.44L501.30 67.22L501.80 65.00L502.30 62.79L502.80 60.61L503.30 58.44L503.80 56.29L504.30 54.16L504.80 52.07L505.30 50.00L505.80 47.96L506.30 45.96L506.80 44.00L507.30 42.08L507.80 40.20L508.30 38.37L508.80 36.58L509.30 34.85L509.80 33.17L510.30 31.55L510.80 29.98L511.30 28.48L511.80 27.04L512.30 25.67L512.80 24.37L513.30 23.14L513.80 21.98L514.30 20.90L514.80 19.90L515.30 18.97L515.80 18.13L516.30 17.37L516.80 16.69L517.30 16.10L517.80 15.59L518.30 15.18L518.80 14.85L519.30 14.61L519.80 14.46L520.30 14.41L520.80 14.44L521.30 14.57L521.80 14.78L522.30 15.09L522.80 15.49L523.30 15.98L523.80 16.56L524.30 17.23L524.80 17.98L525.30 18.83L525.80 19.76L526.30 20.77L526.80 21.86L527.30 23.03L527.80 24.29L528.30 25.61L528.80 27.01L529.30 28.48L529.80 30.02L530.30 31.63L530.80 33.29L531.30 35.02L531.80 36.80L532.30 38.64L532.80 40.52L533.30 42.44L533.80 44.41L534.30 46.42L534.80 48.46L535.30 50.53L535.80 52.62L536.30 54.74L536.80 56.87L537.30 59.01L537.80 61.16L538.30 63.32L538.80 65.47L539.30 67.62L539.80 69.76L540.30 71.89L540.80 74.00L541.30 76.08L541.80 78.14L542.30 80.17L542.80 82.17L543.30 84.12L543.80 86.04L544.30 87.91L544.80 89.72L545.30 91.49L545.80 93.20L546.30 94.85L546.80 96.44L547.30 97.96L547.80 99.41L548.30 100.80L548.80 102.12L549.30 103.36L549.80 104.52L550.30 105.62L550.80 106.63L551.30 107.57L551.80 108.43L552.30 109.21L552.80 109.91L553.30 110.54L553.80 111.08L554.30 111.56L554.80 111.95L555.30 112.27L555.80 112.52L556.30 112.70L556.80 112.81L557.30 112.86L557.80 112.84L558.30 112.76L558.80 112.61L559.30 112.41L559.80 112.16L560.30 111.85L560.80 111.50L561.30 111.09L561.80 110.64L562.30 110.15L562.80 109.62L563.30 109.04L563.80 108.43L564.30 107.78L564.80 107.09L565.30 106.37L565.80 105.61L566.30 104.82L566.80 103.98L567.30 103.11L567.80 102.20L568.30 101.25L568.80 100.25L569.30 99.20L569.80 98.10L570.30 96.95L570.80 95.74L571.30 94.46L571.80 93.12L572.30 91.71L572.80 90.23L573.30 88.66L573.80 87.02L574.30 85.28L574.80 83.46L575.30 81.55L575.80 79.55L576.30 77.45L576.80 75.26L577.30 72.98L577.80 70.60L578.30 68.15L578.80 65.61L579.30 62.99L579.80 60.32L580.30 57.58L580.80 54.80L581.30 51.99L581.80 49.15L582.30 46.32L582.80 43.50L583.30 40.71L583.80 37.97L584.30 35.30L584.80 32.73L585.30 30.26L585.80 27.94L586.30 25.77L586.80 23.79L587.30 22.01L587.80 20.45L588.30 19.13L588.80 18.08L589.30 17.32L589.80 16.85L590.30 16.69L590.80 16.87L591.30 17.37L591.80 18.23L592.30 19.43L592.80 20.99L593.30 22.90L593.80 25.16L594.30 27.77L594.80 30.71L595.30 33.99L595.80 37.58L596.30 41.47L596.80 45.65L597.30 50.09L597.80 54.77L598.30 59.68L598.80 64.78L599.30 70.05L599.80 75.47L600.30 81.01L600.80 86.65L601.30 92.35L601.80 98.09L602.30 103.85L602.80 109.60L603.30 115.31L603.80 120.97L604.30 126.56L604.80 132.04L605.30 137.41L605.80 142.65L606.30 147.74L606.80 152.67L607.30 157.43L607.80 162.00L608.30 166.39L608.80 170.59L609.30 174.59L609.80 178.38L610.30 181.98L610.80 185.37L611.30 188.56L611.80 191.55L612.30 194.35L612.80 196.96L613.30 199.39L613.80 201.65L614.30 203.73L614.80 205.65L615.30 207.42L615.80 209.03L616.30 210.52L616.80 211.87L617.30 213.10L617.80 214.21L618.30 215.22L618.80 216.13L619.30 216.95L619.80 217.69L620.30 218.35L620.80 218.94L621.30 219.46L621.80 219.93L622.30 220.35L622.80 220.71L623.30 221.04L623.80 221.33L624.30 221.58L624.80 221.80L625.30 222.00L625.80 222.17L626.30 222.31L626.80 222.44L627.30 222.56L627.80 222.65L628.30 222.74L628.80 222.81L629.30 222.88L629.80 222.93L630.30 222.98L630.80 223.02L631.30 223.06L631.80 223.09L632.30 223.12L632.80 223.14L633.30 223.16L633.80 223.18L634.30 223.19L634.80 223.20L635.30 223.21L635.80 223.22L636.30 223.23L636.80 223.24L637.30 223.25L637.80 223.25L638.30 223.26L638.80 223.26L639.30 223.26L639.80 223.27L640.30 223.27L640.80 223.27L641.30 223.28L641.80 223.28L642.30 223.28L642.80 223.28L643.30 223.28L643.80 223.28L644.30 223.28L644.80 223.29L645.30 223.29L645.80 223.29L646.30 223.29L646.80 223.29L647.30 223.29L647.80 223.29L648.30 223.29L648.80 223.29L649.30 223.29L649.80 223.29L650.30 223.29L650.80 223.29L651.30 223.29L651.80 223.29L652.30 223.30L652.80 223.30L653.30 223.30L653.80 223.30L654.30 223.30L654.80 223.30L655.30 223.30L655.80 223.30L656.30 223.30L656.80 223.30L657.30 223.30L657.80 223.30L658.30 223.30L658.80 223.30L659.30 223.30L659.80 223.30L660.30 223.30L660.80 223.30L661.30 223.30L661.80 223.30L662.30 223.30L662.80 223.30L663.30 223.30L663.80 223.30L664.30 223.30L664.80 223.30L665.30 223.30L665.80 223.30L666.30 223.30L666.80 223.30L667.30 223.30L667.80 223.30L668.30 223.30L668.80 223.30L669.30 223.30L669.80 223.30L670.30 223.30L670.80 223.30L671.30 223.30L671.80 223.30L672.30 223.30L672.80 223.30L673.30 223.30L673.80 223.30L674.30 223.30L674.80 223.30L675.30 223.30L675.80 223.30L676.30 223.30L676.80 223.30L677.30 223.30L677.80 223.30L678.30 223.30L678.80 223.30L679.30 223.30L679.80 223.30L680.30 223.30L680.80 223.30L681.30 223.30L681.80 223.30L682.30 223.30L682.80 223.30L683.30 223.30L683.80 223.30L684.30 223.30L684.80 223.30L685.30 223.30L685.80 223.30L686.30 223.30L686.80 223.30L687.30 223.30L687.80 223.30L688.30 223.30L688.80 223.30L689.30 223.30L689.80 223.30L690.30 223.30L690.80 223.30L691.30 223.30L691.80 223.30L692.30 223.30L692.80 223.30L693.30 223.30L693.80 223.30L694.30 223.30L694.80 223.30L695.30 223.30L695.80 223.30L696.30 223.30L696.80 223.30L697.30 223.30L697.80 223.30L698.30 223.30L698.80 223.30L699.30 223.30L699.80 223.30L700.30 223.30L700.80 223.30L701.30 223.30L701.80 223.30L702.30 223.30L702.80 223.30L703.30 223.30L703.80 223.30L704.30 223.30L704.80 223.30L705.30 223.30L705.80 223.30L706.30 223.30L706.80 223.30L707.30 223.30L707.80 223.30L708.30 223.30L708.80 223.30L709.30 223.30L709.80 223.30L710.30 223.30L710.80 223.30L711.30 223.30L711.80 223.30L712.30 223.30L712.80 223.30L713.30 223.30L713.80 223.30" fill="none" stroke="#8000ff" stroke-width="1.15" stroke-linejoin="round" />
<path d="M627 6.00H653.8" stroke="#000000" stroke-width="1.5"/>
<text x="656.4" y="9.90" font-size="11.4" fill="#111">Raw</text>
<path d="M627 20.05H653.8" stroke="#ff0000" stroke-width="1.5"/>
<text x="656.4" y="23.95" font-size="11.4" fill="#111">Baseline</text>
<path d="M627 34.10H653.8" stroke="#0000ff" stroke-width="1.5"/>
<text x="656.4" y="38.00" font-size="11.4" fill="#111">D2</text>
<path d="M627 48.15H653.8" stroke="#ff00ff" stroke-width="1.5"/>
<text x="656.4" y="52.05" font-size="11.4" fill="#111">D1</text>
<path d="M627 62.20H653.8" stroke="#008000" stroke-width="1.5"/>
<text x="656.4" y="66.10" font-size="11.4" fill="#111">G2</text>
<path d="M627 76.25H653.8" stroke="#000080" stroke-width="1.5"/>
<text x="656.4" y="80.15" font-size="11.4" fill="#111">G1</text>
<path d="M627 90.30H653.8" stroke="#8000ff" stroke-width="1.5"/>
<text x="656.4" y="94.20" font-size="11.4" fill="#111">Peak Total</text>
<path d="M39.3 295.7V535.4H335.6" fill="none" stroke="#1a1a1a" stroke-width="1.5"/>
<text x="39.30" y="549.8" font-size="9.4" text-anchor="middle" fill="#3c3c3c">1000</text>
<text x="113.38" y="549.8" font-size="9.4" text-anchor="middle" fill="#3c3c3c">1250</text>
<text x="187.45" y="549.8" font-size="9.4" text-anchor="middle" fill="#3c3c3c">1500</text>
<text x="261.52" y="549.8" font-size="9.4" text-anchor="middle" fill="#3c3c3c">1750</text>
<text x="335.60" y="549.8" font-size="9.4" text-anchor="middle" fill="#3c3c3c">2000</text>
<path d="M39.30 535.4v4.6M76.34 535.4v2.6M113.38 535.4v4.6M150.41 535.4v2.6M187.45 535.4v4.6M224.49 535.4v2.6M261.52 535.4v4.6M298.56 535.4v2.6M335.60 535.4v4.6" stroke="#1a1a1a" stroke-width="1.4"/>
<text x="187.45" y="570.7" font-size="11.4" text-anchor="middle" fill="#111">Raman Shift / cm<tspan dx="0.6" dy="-5.2" font-size="6.6">-1</tspan></text>
<text transform="translate(22.1 416) rotate(-90)" font-size="11.6" text-anchor="middle" fill="#111">Relative intensity / a.u.</text>
<text x="0.8" y="303" font-size="20.2" font-weight="bold" fill="#000">(c)</text>
<path d="M39.30 515.13L39.80 511.00L40.30 507.63L40.80 503.90L41.30 502.84L41.80 501.51L42.30 500.78L42.80 500.67L43.30 501.46L43.80 503.20L44.30 504.51L44.80 506.40L45.30 508.26L45.80 509.54L46.30 511.41L46.80 512.69L47.30 512.84L47.80 512.16L48.30 511.35L48.80 509.50L49.30 508.92L49.80 507.54L50.30 505.14L50.80 505.16L51.30 503.20L51.80 501.25L52.30 499.54L52.80 497.46L53.30 499.08L53.80 500.03L54.30 500.42L54.80 501.83L55.30 502.90L55.80 502.76L56.30 501.47L56.80 499.83L57.30 498.75L57.80 496.68L58.30 495.37L58.80 494.41L59.30 493.72L59.80 495.33L60.30 497.58L60.80 498.17L61.30 496.50L61.80 494.17L62.30 492.20L62.80 489.59L63.30 485.48L63.80 484.15L64.30 483.66L64.80 483.01L65.30 483.05L65.80 483.55L66.30 482.84L66.80 482.62L67.30 482.27L67.80 482.43L68.30 482.23L68.80 482.44L69.30 481.72L69.80 481.55L70.30 480.79L70.80 480.41L71.30 480.42L71.80 480.64L72.30 481.10L72.80 481.60L73.30 483.19L73.80 482.85L74.30 482.90L74.80 481.60L75.30 480.59L75.80 478.90L76.30 477.04L76.80 476.32L77.30 474.75L77.80 473.36L78.30 471.78L78.80 470.76L79.30 469.02L79.80 467.86L80.30 467.15L80.80 468.05L81.30 468.80L81.80 470.14L82.30 470.64L82.80 470.77L83.30 468.59L83.80 466.76L84.30 465.19L84.80 462.83L85.30 460.83L85.80 458.59L86.30 457.06L86.80 457.81L87.30 458.78L87.80 459.68L88.30 460.69L88.80 459.56L89.30 457.78L89.80 456.49L90.30 454.76L90.80 453.50L91.30 451.12L91.80 450.11L92.30 449.95L92.80 448.66L93.30 447.93L93.80 446.56L94.30 445.68L94.80 444.55L95.30 443.88L95.80 442.85L96.30 442.32L96.80 441.74L97.30 440.55L97.80 440.49L98.30 439.50L98.80 437.87L99.30 435.79L99.80 433.91L100.30 431.99L100.80 429.82L101.30 428.16L101.80 426.12L102.30 425.17L102.80 425.46L103.30 425.54L103.80 424.85L104.30 424.80L104.80 422.70L105.30 422.33L105.80 421.44L106.30 419.80L106.80 419.48L107.30 417.22L107.80 416.08L108.30 415.17L108.80 413.25L109.30 412.13L109.80 410.58L110.30 409.11L110.80 407.92L111.30 406.10L111.80 405.76L112.30 404.34L112.80 402.05L113.30 400.80L113.80 399.20L114.30 397.59L114.80 396.61L115.30 394.54L115.80 393.36L116.30 390.44L116.80 388.78L117.30 386.89L117.80 384.76L118.30 382.79L118.80 380.74L119.30 378.23L119.80 376.50L120.30 375.08L120.80 373.10L121.30 371.15L121.80 369.21L122.30 366.78L122.80 362.05L123.30 357.49L123.80 356.16L124.30 354.23L124.80 352.78L125.30 351.31L125.80 350.04L126.30 348.26L126.80 345.99L127.30 345.12L127.80 343.21L128.30 341.37L128.80 339.65L129.30 337.97L129.80 335.88L130.30 334.51L130.80 332.94L131.30 332.06L131.80 330.72L132.30 330.59L132.80 329.30L133.30 328.33L133.80 327.26L134.30 326.02L134.80 325.22L135.30 324.58L135.80 323.67L136.30 322.34L136.80 320.67L137.30 318.55L137.80 317.42L138.30 317.37L138.80 316.63L139.30 316.22L139.80 316.02L140.30 315.52L140.80 313.92L141.30 314.50L141.80 314.45L142.30 315.15L142.80 315.59L143.30 318.15L143.80 319.95L144.30 322.26L144.80 324.72L145.30 324.21L145.80 322.21L146.30 319.76L146.80 318.90L147.30 319.03L147.80 317.57L148.30 318.70L148.80 321.19L149.30 324.22L149.80 326.62L150.30 328.86L150.80 328.94L151.30 330.23L151.80 331.74L152.30 332.28L152.80 334.08L153.30 336.31L153.80 338.36L154.30 339.94L154.80 341.83L155.30 340.83L155.80 341.21L156.30 341.09L156.80 340.09L157.30 341.42L157.80 342.77L158.30 345.64L158.80 347.87L159.30 349.77L159.80 351.02L160.30 351.97L160.80 352.17L161.30 353.67L161.80 353.34L162.30 354.28L162.80 355.38L163.30 355.23L163.80 355.65L164.30 355.69L164.80 359.26L165.30 360.71L165.80 363.70L166.30 364.69L166.80 366.11L167.30 367.11L167.80 368.93L168.30 369.10L168.80 370.48L169.30 370.78L169.80 370.77L170.30 372.85L170.80 372.70L171.30 373.38L171.80 374.67L172.30 374.23L172.80 375.70L173.30 377.07L173.80 378.17L174.30 379.48L174.80 380.29L175.30 381.05L175.80 379.97L176.30 379.00L176.80 378.37L177.30 377.88L177.80 378.66L178.30 380.24L178.80 382.32L179.30 384.82L179.80 386.25L180.30 384.25L180.80 382.95L181.30 381.13L181.80 379.56L182.30 378.61L182.80 379.94L183.30 380.05L183.80 381.10L184.30 381.56L184.80 381.05L185.30 378.73L185.80 376.73L186.30 373.83L186.80 372.50L187.30 369.67L187.80 369.12L188.30 368.87L188.80 368.89L189.30 368.79L189.80 367.59L190.30 367.06L190.80 365.71L191.30 365.17L191.80 362.38L192.30 360.42L192.80 358.60L193.30 357.70L193.80 356.37L194.30 354.08L194.80 353.32L195.30 353.92L195.80 354.78L196.30 355.45L196.80 354.09L197.30 353.70L197.80 353.10L198.30 350.85L198.80 349.57L199.30 347.77L199.80 344.88L200.30 343.59L200.80 342.25L201.30 340.48L201.80 338.59L202.30 337.35L202.80 335.27L203.30 333.45L203.80 331.26L204.30 329.15L204.80 327.61L205.30 325.58L205.80 323.10L206.30 319.30L206.80 316.35L207.30 313.40L207.80 311.78L208.30 309.63L208.80 308.07L209.30 306.70L209.80 305.57L210.30 305.95L210.80 304.72L211.30 303.68L211.80 304.07L212.30 303.07L212.80 301.42L213.30 301.42L213.80 303.32L214.30 304.57L214.80 307.13L215.30 309.21L215.80 311.76L216.30 315.05L216.80 316.94L217.30 320.81L217.80 325.87L218.30 330.86L218.80 336.51L219.30 341.98L219.80 348.53L220.30 359.19L220.80 368.02L221.30 373.79L221.80 379.46L222.30 384.97L222.80 389.67L223.30 395.29L223.80 399.13L224.30 402.46L224.80 406.59L225.30 410.31L225.80 413.91L226.30 417.38L226.80 422.61L227.30 427.57L227.80 431.62L228.30 432.95L228.80 434.15L229.30 435.72L229.80 436.61L230.30 437.57L230.80 443.04L231.30 449.64L231.80 455.99L232.30 459.31L232.80 461.85L233.30 464.85L233.80 466.95L234.30 469.15L234.80 471.72L235.30 473.34L235.80 474.35L236.30 475.39L236.80 476.17L237.30 477.43L237.80 478.30L238.30 477.83L238.80 478.70L239.30 479.93L239.80 482.94L240.30 485.67L240.80 487.54L241.30 493.70L241.80 499.34L242.30 502.32L242.80 503.60L243.30 503.70L243.80 504.18L244.30 504.83L244.80 504.87L245.30 506.19L245.80 506.98L246.30 508.09L246.80 508.82L247.30 510.59L247.80 510.45L248.30 509.96L248.80 510.97L249.30 511.05L249.80 511.38L250.30 511.46L250.80 510.70L251.30 511.73L251.80 512.26L252.30 512.83L252.80 513.39L253.30 511.98L253.80 510.65L254.30 509.23L254.80 511.67L255.30 512.47L255.80 515.00L256.30 516.42L256.80 518.73L257.30 519.84L257.80 520.10L258.30 519.59L258.80 519.15L259.30 518.91L259.80 519.06L260.30 519.83L260.80 521.51L261.30 522.25L261.80 524.46L262.30 525.08L262.80 525.94L263.30 526.38L263.80 525.87L264.30 524.07L264.80 522.99L265.30 521.80L265.80 520.03L266.30 519.03L266.80 517.31L267.30 516.66L267.80 516.47L268.30 518.32L268.80 520.04L269.30 521.48L269.80 522.68L270.30 523.91L270.80 524.44L271.30 523.24L271.80 522.54L272.30 521.52L272.80 520.81L273.30 520.76L273.80 520.04L274.30 520.80L274.80 520.60L275.30 520.13L275.80 519.54L276.30 519.87L276.80 519.21L277.30 518.50L277.80 518.25L278.30 518.05L278.80 517.52L279.30 516.54L279.80 516.88L280.30 517.78L280.80 518.56L281.30 519.44L281.80 519.49L282.30 517.73L282.80 517.95L283.30 516.61L283.80 519.03L284.30 521.33L284.80 523.30L285.30 525.05L285.80 526.41L286.30 524.82L286.80 521.79L287.30 521.31L287.80 519.44L288.30 518.62L288.80 516.56L289.30 517.16L289.80 516.64L290.30 517.20L290.80 517.74L291.30 517.74L291.80 517.46L292.30 516.77L292.80 516.53L293.30 515.24L293.80 514.65L294.30 514.58L294.80 515.85L295.30 515.64L295.80 516.05L296.30 517.99L296.80 517.95L297.30 520.04L297.80 521.75L298.30 523.07L298.80 524.68L299.30 523.74L299.80 523.71L300.30 522.84L300.80 523.30L301.30 522.97L301.80 521.22L302.30 520.97L302.80 519.09L303.30 518.86L303.80 517.68L304.30 517.45L304.80 516.59L305.30 515.31L305.80 515.95L306.30 514.04L306.80 514.35L307.30 514.69L307.80 515.43L308.30 516.49L308.80 516.23L309.30 517.79L309.80 518.51L310.30 518.76L310.80 518.20L311.30 518.70L311.80 518.48L312.30 518.61L312.80 517.72L313.30 518.71L313.80 519.35L314.30 519.66L314.80 520.39L315.30 520.55L315.80 518.91L316.30 519.60L316.80 518.14L317.30 517.52L317.80 518.66L318.30 518.39L318.80 518.19L319.30 519.43L319.80 518.67L320.30 518.85L320.80 518.25L321.30 518.73L321.80 518.55L322.30 518.82L322.80 518.63L323.30 518.87L323.80 519.28L324.30 519.17L324.80 519.74L325.30 518.83L325.80 517.87L326.30 516.81L326.80 515.93L327.30 513.79L327.80 515.00L328.30 515.31L328.80 517.69L329.30 518.43L329.80 519.79L330.30 521.21L330.80 520.41L331.30 519.11L331.80 517.92L332.30 517.38L332.80 516.08L333.30 516.09L333.80 515.84L334.30 516.78L334.80 516.60L335.30 517.30" fill="none" stroke="#000000" stroke-width="1.15" stroke-linejoin="round" />
<path d="M39.3 496.6H335.6" fill="none" stroke="#ff0000" stroke-width="1.1" stroke-linejoin="round" />
<path d="M39.30 495.87L39.80 495.83L40.30 495.78L40.80 495.74L41.30 495.69L41.80 495.64L42.30 495.58L42.80 495.52L43.30 495.47L43.80 495.40L44.30 495.34L44.80 495.27L45.30 495.20L45.80 495.12L46.30 495.04L46.80 494.96L47.30 494.88L47.80 494.79L48.30 494.69L48.80 494.59L49.30 494.49L49.80 494.38L50.30 494.27L50.80 494.16L51.30 494.04L51.80 493.91L52.30 493.78L52.80 493.64L53.30 493.50L53.80 493.36L54.30 493.20L54.80 493.04L55.30 492.88L55.80 492.71L56.30 492.53L56.80 492.34L57.30 492.15L57.80 491.96L58.30 491.75L58.80 491.54L59.30 491.32L59.80 491.09L60.30 490.85L60.80 490.61L61.30 490.36L61.80 490.10L62.30 489.83L62.80 489.56L63.30 489.27L63.80 488.98L64.30 488.67L64.80 488.36L65.30 488.04L65.80 487.71L66.30 487.37L66.80 487.02L67.30 486.66L67.80 486.29L68.30 485.91L68.80 485.52L69.30 485.12L69.80 484.71L70.30 484.29L70.80 483.86L71.30 483.42L71.80 482.97L72.30 482.51L72.80 482.04L73.30 481.55L73.80 481.06L74.30 480.56L74.80 480.05L75.30 479.52L75.80 478.99L76.30 478.44L76.80 477.89L77.30 477.32L77.80 476.75L78.30 476.17L78.80 475.57L79.30 474.97L79.80 474.35L80.30 473.73L80.80 473.10L81.30 472.46L81.80 471.81L82.30 471.15L82.80 470.49L83.30 469.82L83.80 469.14L84.30 468.45L84.80 467.75L85.30 467.05L85.80 466.34L86.30 465.63L86.80 464.91L87.30 464.19L87.80 463.46L88.30 462.72L88.80 461.98L89.30 461.24L89.80 460.50L90.30 459.75L90.80 459.00L91.30 458.25L91.80 457.50L92.30 456.75L92.80 456.00L93.30 455.25L93.80 454.50L94.30 453.75L94.80 453.00L95.30 452.26L95.80 451.52L96.30 450.78L96.80 450.05L97.30 449.33L97.80 448.60L98.30 447.89L98.80 447.18L99.30 446.48L99.80 445.79L100.30 445.11L100.80 444.43L101.30 443.77L101.80 443.12L102.30 442.48L102.80 441.85L103.30 441.23L103.80 440.63L104.30 440.03L104.80 439.46L105.30 438.90L105.80 438.35L106.30 437.82L106.80 437.30L107.30 436.80L107.80 436.32L108.30 435.86L108.80 435.42L109.30 434.99L109.80 434.58L110.30 434.19L110.80 433.83L111.30 433.48L111.80 433.15L112.30 432.85L112.80 432.56L113.30 432.30L113.80 432.06L114.30 431.84L114.80 431.64L115.30 431.47L115.80 431.32L116.30 431.19L116.80 431.09L117.30 431.01L117.80 430.95L118.30 430.91L118.80 430.90L119.30 430.91L119.80 430.95L120.30 431.01L120.80 431.09L121.30 431.19L121.80 431.32L122.30 431.47L122.80 431.64L123.30 431.84L123.80 432.06L124.30 432.30L124.80 432.56L125.30 432.85L125.80 433.15L126.30 433.48L126.80 433.83L127.30 434.19L127.80 434.58L128.30 434.99L128.80 435.42L129.30 435.86L129.80 436.32L130.30 436.80L130.80 437.30L131.30 437.82L131.80 438.35L132.30 438.90L132.80 439.46L133.30 440.03L133.80 440.63L134.30 441.23L134.80 441.85L135.30 442.48L135.80 443.12L136.30 443.77L136.80 444.43L137.30 445.11L137.80 445.79L138.30 446.48L138.80 447.18L139.30 447.89L139.80 448.60L140.30 449.33L140.80 450.05L141.30 450.78L141.80 451.52L142.30 452.26L142.80 453.00L143.30 453.75L143.80 454.50L144.30 455.25L144.80 456.00L145.30 456.75L145.80 457.50L146.30 458.25L146.80 459.00L147.30 459.75L147.80 460.50L148.30 461.24L148.80 461.98L149.30 462.72L149.80 463.46L150.30 464.19L150.80 464.91L151.30 465.63L151.80 466.34L152.30 467.05L152.80 467.75L153.30 468.45L153.80 469.14L154.30 469.82L154.80 470.49L155.30 471.15L155.80 471.81L156.30 472.46L156.80 473.10L157.30 473.73L157.80 474.35L158.30 474.97L158.80 475.57L159.30 476.17L159.80 476.75L160.30 477.32L160.80 477.89L161.30 478.44L161.80 478.99L162.30 479.52L162.80 480.05L163.30 480.56L163.80 481.06L164.30 481.55L164.80 482.04L165.30 482.51L165.80 482.97L166.30 483.42L166.80 483.86L167.30 484.29L167.80 484.71L168.30 485.12L168.80 485.52L169.30 485.91L169.80 486.29L170.30 486.66L170.80 487.02L171.30 487.37L171.80 487.71L172.30 488.04L172.80 488.36L173.30 488.67L173.80 488.98L174.30 489.27L174.80 489.56L175.30 489.83L175.80 490.10L176.30 490.36L176.80 490.61L177.30 490.85L177.80 491.09L178.30 491.32L178.80 491.54L179.30 491.75L179.80 491.96L180.30 492.15L180.80 492.34L181.30 492.53L181.80 492.71L182.30 492.88L182.80 493.04L183.30 493.20L183.80 493.36L184.30 493.50L184.80 493.64L185.30 493.78L185.80 493.91L186.30 494.04L186.80 494.16L187.30 494.27L187.80 494.38L188.30 494.49L188.80 494.59L189.30 494.69L189.80 494.79L190.30 494.88L190.80 494.96L191.30 495.04L191.80 495.12L192.30 495.20L192.80 495.27L193.30 495.34L193.80 495.40L194.30 495.47L194.80 495.52L195.30 495.58L195.80 495.64L196.30 495.69L196.80 495.74L197.30 495.78L197.80 495.83L198.30 495.87L198.80 495.91L199.30 495.95L199.80 495.99L200.30 496.02L200.80 496.05L201.30 496.08L201.80 496.11L202.30 496.14L202.80 496.17L203.30 496.19L203.80 496.22L204.30 496.24L204.80 496.26L205.30 496.28L205.80 496.30L206.30 496.32L206.80 496.34L207.30 496.35L207.80 496.37L208.30 496.38L208.80 496.39L209.30 496.41L209.80 496.42L210.30 496.43L210.80 496.44L211.30 496.45L211.80 496.46L212.30 496.47L212.80 496.48L213.30 496.49L213.80 496.49L214.30 496.50L214.80 496.51L215.30 496.51L215.80 496.52L216.30 496.52L216.80 496.53L217.30 496.53L217.80 496.54L218.30 496.54L218.80 496.55L219.30 496.55L219.80 496.55L220.30 496.56L220.80 496.56L221.30 496.56L221.80 496.57L222.30 496.57L222.80 496.57L223.30 496.57L223.80 496.57L224.30 496.58L224.80 496.58L225.30 496.58L225.80 496.58L226.30 496.58L226.80 496.58L227.30 496.58L227.80 496.59L228.30 496.59L228.80 496.59L229.30 496.59L229.80 496.59L230.30 496.59L230.80 496.59L231.30 496.59L231.80 496.59L232.30 496.59L232.80 496.59L233.30 496.59L233.80 496.59L234.30 496.60L234.80 496.60L235.30 496.60L235.80 496.60L236.30 496.60L236.80 496.60L237.30 496.60L237.80 496.60L238.30 496.60L238.80 496.60L239.30 496.60L239.80 496.60L240.30 496.60L240.80 496.60L241.30 496.60L241.80 496.60L242.30 496.60L242.80 496.60L243.30 496.60L243.80 496.60L244.30 496.60L244.80 496.60L245.30 496.60L245.80 496.60L246.30 496.60L246.80 496.60L247.30 496.60L247.80 496.60L248.30 496.60L248.80 496.60L249.30 496.60L249.80 496.60L250.30 496.60L250.80 496.60L251.30 496.60L251.80 496.60L252.30 496.60L252.80 496.60L253.30 496.60L253.80 496.60L254.30 496.60L254.80 496.60L255.30 496.60L255.80 496.60L256.30 496.60L256.80 496.60L257.30 496.60L257.80 496.60L258.30 496.60L258.80 496.60L259.30 496.60L259.80 496.60L260.30 496.60L260.80 496.60L261.30 496.60L261.80 496.60L262.30 496.60L262.80 496.60L263.30 496.60L263.80 496.60L264.30 496.60L264.80 496.60L265.30 496.60L265.80 496.60L266.30 496.60L266.80 496.60L267.30 496.60L267.80 496.60L268.30 496.60L268.80 496.60L269.30 496.60L269.80 496.60L270.30 496.60L270.80 496.60L271.30 496.60L271.80 496.60L272.30 496.60L272.80 496.60L273.30 496.60L273.80 496.60L274.30 496.60L274.80 496.60L275.30 496.60L275.80 496.60L276.30 496.60L276.80 496.60L277.30 496.60L277.80 496.60L278.30 496.60L278.80 496.60L279.30 496.60L279.80 496.60L280.30 496.60L280.80 496.60L281.30 496.60L281.80 496.60L282.30 496.60L282.80 496.60L283.30 496.60L283.80 496.60L284.30 496.60L284.80 496.60L285.30 496.60L285.80 496.60L286.30 496.60L286.80 496.60L287.30 496.60L287.80 496.60L288.30 496.60L288.80 496.60L289.30 496.60L289.80 496.60L290.30 496.60L290.80 496.60L291.30 496.60L291.80 496.60L292.30 496.60L292.80 496.60L293.30 496.60L293.80 496.60L294.30 496.60L294.80 496.60L295.30 496.60L295.80 496.60L296.30 496.60L296.80 496.60L297.30 496.60L297.80 496.60L298.30 496.60L298.80 496.60L299.30 496.60L299.80 496.60L300.30 496.60L300.80 496.60L301.30 496.60L301.80 496.60L302.30 496.60L302.80 496.60L303.30 496.60L303.80 496.60L304.30 496.60L304.80 496.60L305.30 496.60L305.80 496.60L306.30 496.60L306.80 496.60L307.30 496.60L307.80 496.60L308.30 496.60L308.80 496.60L309.30 496.60L309.80 496.60L310.30 496.60L310.80 496.60L311.30 496.60L311.80 496.60L312.30 496.60L312.80 496.60L313.30 496.60L313.80 496.60L314.30 496.60L314.80 496.60L315.30 496.60L315.80 496.60L316.30 496.60L316.80 496.60L317.30 496.60L317.80 496.60L318.30 496.60L318.80 496.60L319.30 496.60L319.80 496.60L320.30 496.60L320.80 496.60L321.30 496.60L321.80 496.60L322.30 496.60L322.80 496.60L323.30 496.60L323.80 496.60L324.30 496.60L324.80 496.60L325.30 496.60L325.80 496.60L326.30 496.60L326.80 496.60L327.30 496.60L327.80 496.60L328.30 496.60L328.80 496.60L329.30 496.60L329.80 496.60L330.30 496.60L330.80 496.60L331.30 496.60L331.80 496.60L332.30 496.60L332.80 496.60L333.30 496.60L333.80 496.60L334.30 496.60L334.80 496.60L335.30 496.60" fill="none" stroke="#0000ff" stroke-width="1.1" stroke-linejoin="round" />
<path d="M39.30 496.60L39.80 496.60L40.30 496.60L40.80 496.60L41.30 496.60L41.80 496.60L42.30 496.60L42.80 496.60L43.30 496.60L43.80 496.60L44.30 496.60L44.80 496.60L45.30 496.60L45.80 496.60L46.30 496.60L46.80 496.60L47.30 496.60L47.80 496.60L48.30 496.60L48.80 496.60L49.30 496.60L49.80 496.60L50.30 496.60L50.80 496.60L51.30 496.60L51.80 496.60L52.30 496.60L52.80 496.60L53.30 496.60L53.80 496.60L54.30 496.60L54.80 496.60L55.30 496.60L55.80 496.60L56.30 496.60L56.80 496.59L57.30 496.59L57.80 496.59L58.30 496.59L58.80 496.59L59.30 496.59L59.80 496.59L60.30 496.59L60.80 496.59L61.30 496.59L61.80 496.58L62.30 496.58L62.80 496.58L63.30 496.58L63.80 496.58L64.30 496.57L64.80 496.57L65.30 496.57L65.80 496.56L66.30 496.56L66.80 496.56L67.30 496.55L67.80 496.55L68.30 496.54L68.80 496.53L69.30 496.53L69.80 496.52L70.30 496.51L70.80 496.50L71.30 496.49L71.80 496.48L72.30 496.47L72.80 496.46L73.30 496.45L73.80 496.43L74.30 496.42L74.80 496.40L75.30 496.38L75.80 496.36L76.30 496.34L76.80 496.31L77.30 496.29L77.80 496.26L78.30 496.23L78.80 496.20L79.30 496.16L79.80 496.12L80.30 496.08L80.80 496.04L81.30 495.99L81.80 495.94L82.30 495.88L82.80 495.82L83.30 495.76L83.80 495.69L84.30 495.62L84.80 495.54L85.30 495.45L85.80 495.36L86.30 495.27L86.80 495.16L87.30 495.05L87.80 494.93L88.30 494.81L88.80 494.67L89.30 494.53L89.80 494.38L90.30 494.22L90.80 494.04L91.30 493.86L91.80 493.66L92.30 493.46L92.80 493.24L93.30 493.00L93.80 492.76L94.30 492.50L94.80 492.22L95.30 491.93L95.80 491.62L96.30 491.30L96.80 490.95L97.30 490.59L97.80 490.21L98.30 489.81L98.80 489.39L99.30 488.95L99.80 488.48L100.30 487.99L100.80 487.48L101.30 486.94L101.80 486.38L102.30 485.79L102.80 485.18L103.30 484.53L103.80 483.86L104.30 483.16L104.80 482.43L105.30 481.67L105.80 480.87L106.30 480.05L106.80 479.19L107.30 478.30L107.80 477.37L108.30 476.41L108.80 475.42L109.30 474.39L109.80 473.32L110.30 472.22L110.80 471.08L111.30 469.90L111.80 468.69L112.30 467.44L112.80 466.15L113.30 464.82L113.80 463.46L114.30 462.06L114.80 460.62L115.30 459.14L115.80 457.62L116.30 456.07L116.80 454.49L117.30 452.87L117.80 451.21L118.30 449.52L118.80 447.79L119.30 446.04L119.80 444.25L120.30 442.43L120.80 440.58L121.30 438.70L121.80 436.80L122.30 434.87L122.80 432.92L123.30 430.95L123.80 428.96L124.30 426.94L124.80 424.92L125.30 422.87L125.80 420.82L126.30 418.76L126.80 416.68L127.30 414.61L127.80 412.53L128.30 410.45L128.80 408.37L129.30 406.29L129.80 404.23L130.30 402.17L130.80 400.13L131.30 398.10L131.80 396.09L132.30 394.10L132.80 392.13L133.30 390.19L133.80 388.29L134.30 386.41L134.80 384.57L135.30 382.77L135.80 381.01L136.30 379.29L136.80 377.62L137.30 376.00L137.80 374.43L138.30 372.92L138.80 371.46L139.30 370.06L139.80 368.73L140.30 367.46L140.80 366.25L141.30 365.12L141.80 364.05L142.30 363.06L142.80 362.14L143.30 361.30L143.80 360.53L144.30 359.85L144.80 359.24L145.30 358.71L145.80 358.27L146.30 357.91L146.80 357.63L147.30 357.44L147.80 357.33L148.30 357.30L148.80 357.36L149.30 357.50L149.80 357.73L150.30 358.04L150.80 358.44L151.30 358.91L151.80 359.47L152.30 360.11L152.80 360.83L153.30 361.63L153.80 362.50L154.30 363.45L154.80 364.47L155.30 365.56L155.80 366.73L156.30 367.96L156.80 369.26L157.30 370.62L157.80 372.04L158.30 373.52L158.80 375.05L159.30 376.64L159.80 378.28L160.30 379.97L160.80 381.71L161.30 383.48L161.80 385.30L162.30 387.16L162.80 389.05L163.30 390.97L163.80 392.92L164.30 394.89L164.80 396.89L165.30 398.91L165.80 400.94L166.30 402.99L166.80 405.05L167.30 407.12L167.80 409.20L168.30 411.28L168.80 413.36L169.30 415.44L169.80 417.51L170.30 419.58L170.80 421.64L171.30 423.69L171.80 425.73L172.30 427.75L172.80 429.76L173.30 431.74L173.80 433.71L174.30 435.65L174.80 437.57L175.30 439.46L175.80 441.32L176.30 443.16L176.80 444.97L177.30 446.74L177.80 448.49L178.30 450.20L178.80 451.88L179.30 453.52L179.80 455.13L180.30 456.70L180.80 458.23L181.30 459.73L181.80 461.20L182.30 462.62L182.80 464.01L183.30 465.36L183.80 466.67L184.30 467.94L184.80 469.18L185.30 470.38L185.80 471.54L186.30 472.66L186.80 473.75L187.30 474.80L187.80 475.82L188.30 476.80L188.80 477.75L189.30 478.66L189.80 479.54L190.30 480.38L190.80 481.19L191.30 481.97L191.80 482.72L192.30 483.44L192.80 484.13L193.30 484.79L193.80 485.42L194.30 486.03L194.80 486.61L195.30 487.16L195.80 487.69L196.30 488.19L196.80 488.67L197.30 489.13L197.80 489.56L198.30 489.97L198.80 490.37L199.30 490.74L199.80 491.09L200.30 491.43L200.80 491.75L201.30 492.05L201.80 492.33L202.30 492.60L202.80 492.86L203.30 493.10L203.80 493.33L204.30 493.54L204.80 493.74L205.30 493.93L205.80 494.11L206.30 494.28L206.80 494.44L207.30 494.59L207.80 494.73L208.30 494.86L208.80 494.98L209.30 495.10L209.80 495.21L210.30 495.31L210.80 495.40L211.30 495.49L211.80 495.57L212.30 495.65L212.80 495.72L213.30 495.79L213.80 495.85L214.30 495.91L214.80 495.96L215.30 496.01L215.80 496.06L216.30 496.10L216.80 496.14L217.30 496.18L217.80 496.21L218.30 496.24L218.80 496.27L219.30 496.30L219.80 496.32L220.30 496.35L220.80 496.37L221.30 496.39L221.80 496.41L222.30 496.42L222.80 496.44L223.30 496.45L223.80 496.46L224.30 496.48L224.80 496.49L225.30 496.50L225.80 496.51L226.30 496.51L226.80 496.52L227.30 496.53L227.80 496.54L228.30 496.54L228.80 496.55L229.30 496.55L229.80 496.56L230.30 496.56L230.80 496.56L231.30 496.57L231.80 496.57L232.30 496.57L232.80 496.58L233.30 496.58L233.80 496.58L234.30 496.58L234.80 496.58L235.30 496.59L235.80 496.59L236.30 496.59L236.80 496.59L237.30 496.59L237.80 496.59L238.30 496.59L238.80 496.59L239.30 496.59L239.80 496.59L240.30 496.60L240.80 496.60L241.30 496.60L241.80 496.60L242.30 496.60L242.80 496.60L243.30 496.60L243.80 496.60L244.30 496.60L244.80 496.60L245.30 496.60L245.80 496.60L246.30 496.60L246.80 496.60L247.30 496.60L247.80 496.60L248.30 496.60L248.80 496.60L249.30 496.60L249.80 496.60L250.30 496.60L250.80 496.60L251.30 496.60L251.80 496.60L252.30 496.60L252.80 496.60L253.30 496.60L253.80 496.60L254.30 496.60L254.80 496.60L255.30 496.60L255.80 496.60L256.30 496.60L256.80 496.60L257.30 496.60L257.80 496.60L258.30 496.60L258.80 496.60L259.30 496.60L259.80 496.60L260.30 496.60L260.80 496.60L261.30 496.60L261.80 496.60L262.30 496.60L262.80 496.60L263.30 496.60L263.80 496.60L264.30 496.60L264.80 496.60L265.30 496.60L265.80 496.60L266.30 496.60L266.80 496.60L267.30 496.60L267.80 496.60L268.30 496.60L268.80 496.60L269.30 496.60L269.80 496.60L270.30 496.60L270.80 496.60L271.30 496.60L271.80 496.60L272.30 496.60L272.80 496.60L273.30 496.60L273.80 496.60L274.30 496.60L274.80 496.60L275.30 496.60L275.80 496.60L276.30 496.60L276.80 496.60L277.30 496.60L277.80 496.60L278.30 496.60L278.80 496.60L279.30 496.60L279.80 496.60L280.30 496.60L280.80 496.60L281.30 496.60L281.80 496.60L282.30 496.60L282.80 496.60L283.30 496.60L283.80 496.60L284.30 496.60L284.80 496.60L285.30 496.60L285.80 496.60L286.30 496.60L286.80 496.60L287.30 496.60L287.80 496.60L288.30 496.60L288.80 496.60L289.30 496.60L289.80 496.60L290.30 496.60L290.80 496.60L291.30 496.60L291.80 496.60L292.30 496.60L292.80 496.60L293.30 496.60L293.80 496.60L294.30 496.60L294.80 496.60L295.30 496.60L295.80 496.60L296.30 496.60L296.80 496.60L297.30 496.60L297.80 496.60L298.30 496.60L298.80 496.60L299.30 496.60L299.80 496.60L300.30 496.60L300.80 496.60L301.30 496.60L301.80 496.60L302.30 496.60L302.80 496.60L303.30 496.60L303.80 496.60L304.30 496.60L304.80 496.60L305.30 496.60L305.80 496.60L306.30 496.60L306.80 496.60L307.30 496.60L307.80 496.60L308.30 496.60L308.80 496.60L309.30 496.60L309.80 496.60L310.30 496.60L310.80 496.60L311.30 496.60L311.80 496.60L312.30 496.60L312.80 496.60L313.30 496.60L313.80 496.60L314.30 496.60L314.80 496.60L315.30 496.60L315.80 496.60L316.30 496.60L316.80 496.60L317.30 496.60L317.80 496.60L318.30 496.60L318.80 496.60L319.30 496.60L319.80 496.60L320.30 496.60L320.80 496.60L321.30 496.60L321.80 496.60L322.30 496.60L322.80 496.60L323.30 496.60L323.80 496.60L324.30 496.60L324.80 496.60L325.30 496.60L325.80 496.60L326.30 496.60L326.80 496.60L327.30 496.60L327.80 496.60L328.30 496.60L328.80 496.60L329.30 496.60L329.80 496.60L330.30 496.60L330.80 496.60L331.30 496.60L331.80 496.60L332.30 496.60L332.80 496.60L333.30 496.60L333.80 496.60L334.30 496.60L334.80 496.60L335.30 496.60" fill="none" stroke="#ff00ff" stroke-width="1.1" stroke-linejoin="round" />
<path d="M39.30 496.60L39.80 496.60L40.30 496.60L40.80 496.60L41.30 496.60L41.80 496.60L42.30 496.60L42.80 496.60L43.30 496.60L43.80 496.60L44.30 496.60L44.80 496.60L45.30 496.60L45.80 496.60L46.30 496.60L46.80 496.60L47.30 496.60L47.80 496.60L48.30 496.60L48.80 496.60L49.30 496.60L49.80 496.60L50.30 496.60L50.80 496.60L51.30 496.60L51.80 496.60L52.30 496.60L52.80 496.60L53.30 496.60L53.80 496.60L54.30 496.60L54.80 496.60L55.30 496.60L55.80 496.60L56.30 496.60L56.80 496.60L57.30 496.60L57.80 496.60L58.30 496.60L58.80 496.60L59.30 496.60L59.80 496.60L60.30 496.60L60.80 496.60L61.30 496.60L61.80 496.60L62.30 496.60L62.80 496.60L63.30 496.60L63.80 496.60L64.30 496.60L64.80 496.60L65.30 496.60L65.80 496.60L66.30 496.60L66.80 496.60L67.30 496.60L67.80 496.60L68.30 496.60L68.80 496.60L69.30 496.60L69.80 496.60L70.30 496.60L70.80 496.60L71.30 496.60L71.80 496.60L72.30 496.60L72.80 496.60L73.30 496.60L73.80 496.60L74.30 496.60L74.80 496.60L75.30 496.60L75.80 496.60L76.30 496.60L76.80 496.60L77.30 496.60L77.80 496.60L78.30 496.60L78.80 496.60L79.30 496.60L79.80 496.60L80.30 496.60L80.80 496.60L81.30 496.60L81.80 496.60L82.30 496.60L82.80 496.60L83.30 496.60L83.80 496.60L84.30 496.60L84.80 496.60L85.30 496.60L85.80 496.60L86.30 496.60L86.80 496.60L87.30 496.60L87.80 496.60L88.30 496.60L88.80 496.60L89.30 496.60L89.80 496.60L90.30 496.60L90.80 496.60L91.30 496.60L91.80 496.60L92.30 496.60L92.80 496.60L93.30 496.60L93.80 496.60L94.30 496.60L94.80 496.60L95.30 496.60L95.80 496.60L96.30 496.60L96.80 496.60L97.30 496.60L97.80 496.60L98.30 496.60L98.80 496.60L99.30 496.60L99.80 496.60L100.30 496.60L100.80 496.60L101.30 496.60L101.80 496.60L102.30 496.60L102.80 496.60L103.30 496.60L103.80 496.60L104.30 496.60L104.80 496.60L105.30 496.60L105.80 496.60L106.30 496.60L106.80 496.60L107.30 496.60L107.80 496.60L108.30 496.60L108.80 496.60L109.30 496.60L109.80 496.60L110.30 496.60L110.80 496.60L111.30 496.60L111.80 496.60L112.30 496.60L112.80 496.60L113.30 496.60L113.80 496.60L114.30 496.60L114.80 496.60L115.30 496.60L115.80 496.60L116.30 496.60L116.80 496.60L117.30 496.60L117.80 496.60L118.30 496.60L118.80 496.60L119.30 496.60L119.80 496.60L120.30 496.60L120.80 496.60L121.30 496.60L121.80 496.60L122.30 496.60L122.80 496.60L123.30 496.60L123.80 496.60L124.30 496.60L124.80 496.59L125.30 496.59L125.80 496.59L126.30 496.59L126.80 496.59L127.30 496.59L127.80 496.59L128.30 496.59L128.80 496.58L129.30 496.58L129.80 496.58L130.30 496.58L130.80 496.57L131.30 496.57L131.80 496.56L132.30 496.56L132.80 496.55L133.30 496.55L133.80 496.54L134.30 496.53L134.80 496.52L135.30 496.51L135.80 496.50L136.30 496.49L136.80 496.47L137.30 496.46L137.80 496.44L138.30 496.42L138.80 496.40L139.30 496.38L139.80 496.35L140.30 496.32L140.80 496.29L141.30 496.25L141.80 496.21L142.30 496.17L142.80 496.12L143.30 496.06L143.80 496.00L144.30 495.94L144.80 495.87L145.30 495.79L145.80 495.70L146.30 495.61L146.80 495.51L147.30 495.40L147.80 495.27L148.30 495.14L148.80 495.00L149.30 494.84L149.80 494.67L150.30 494.49L150.80 494.29L151.30 494.08L151.80 493.84L152.30 493.60L152.80 493.33L153.30 493.04L153.80 492.73L154.30 492.39L154.80 492.04L155.30 491.65L155.80 491.25L156.30 490.81L156.80 490.34L157.30 489.85L157.80 489.32L158.30 488.76L158.80 488.17L159.30 487.54L159.80 486.87L160.30 486.17L160.80 485.42L161.30 484.64L161.80 483.82L162.30 482.95L162.80 482.04L163.30 481.08L163.80 480.08L164.30 479.03L164.80 477.94L165.30 476.80L165.80 475.61L166.30 474.37L166.80 473.09L167.30 471.75L167.80 470.37L168.30 468.95L168.80 467.47L169.30 465.95L169.80 464.38L170.30 462.77L170.80 461.12L171.30 459.42L171.80 457.68L172.30 455.91L172.80 454.10L173.30 452.25L173.80 450.38L174.30 448.47L174.80 446.54L175.30 444.59L175.80 442.62L176.30 440.63L176.80 438.63L177.30 436.62L177.80 434.61L178.30 432.60L178.80 430.59L179.30 428.59L179.80 426.61L180.30 424.64L180.80 422.70L181.30 420.78L181.80 418.89L182.30 417.05L182.80 415.24L183.30 413.48L183.80 411.77L184.30 410.12L184.80 408.53L185.30 407.00L185.80 405.54L186.30 404.16L186.80 402.86L187.30 401.63L187.80 400.49L188.30 399.44L188.80 398.49L189.30 397.63L189.80 396.86L190.30 396.20L190.80 395.63L191.30 395.17L191.80 394.82L192.30 394.57L192.80 394.43L193.30 394.40L193.80 394.48L194.30 394.66L194.80 394.95L195.30 395.35L195.80 395.85L196.30 396.45L196.80 397.15L197.30 397.96L197.80 398.86L198.30 399.85L198.80 400.94L199.30 402.11L199.80 403.37L200.30 404.70L200.80 406.12L201.30 407.60L201.80 409.16L202.30 410.77L202.80 412.45L203.30 414.18L203.80 415.96L204.30 417.78L204.80 419.64L205.30 421.54L205.80 423.47L206.30 425.43L206.80 427.40L207.30 429.39L207.80 431.40L208.30 433.41L208.80 435.42L209.30 437.43L209.80 439.43L210.30 441.43L210.80 443.41L211.30 445.37L211.80 447.32L212.30 449.24L212.80 451.13L213.30 453.00L213.80 454.83L214.30 456.62L214.80 458.38L215.30 460.10L215.80 461.78L216.30 463.42L216.80 465.01L217.30 466.56L217.80 468.07L218.30 469.52L218.80 470.93L219.30 472.29L219.80 473.61L220.30 474.87L220.80 476.09L221.30 477.26L221.80 478.38L222.30 479.46L222.80 480.49L223.30 481.47L223.80 482.41L224.30 483.30L224.80 484.15L225.30 484.96L225.80 485.73L226.30 486.45L226.80 487.14L227.30 487.79L227.80 488.41L228.30 488.99L228.80 489.54L229.30 490.05L229.80 490.53L230.30 490.99L230.80 491.41L231.30 491.81L231.80 492.18L232.30 492.53L232.80 492.85L233.30 493.16L233.80 493.44L234.30 493.70L234.80 493.94L235.30 494.16L235.80 494.37L236.30 494.56L236.80 494.74L237.30 494.91L237.80 495.06L238.30 495.20L238.80 495.32L239.30 495.44L239.80 495.55L240.30 495.65L240.80 495.74L241.30 495.82L241.80 495.90L242.30 495.97L242.80 496.03L243.30 496.09L243.80 496.14L244.30 496.18L244.80 496.23L245.30 496.27L245.80 496.30L246.30 496.33L246.80 496.36L247.30 496.39L247.80 496.41L248.30 496.43L248.80 496.45L249.30 496.47L249.80 496.48L250.30 496.49L250.80 496.51L251.30 496.52L251.80 496.53L252.30 496.54L252.80 496.54L253.30 496.55L253.80 496.56L254.30 496.56L254.80 496.57L255.30 496.57L255.80 496.57L256.30 496.58L256.80 496.58L257.30 496.58L257.80 496.58L258.30 496.59L258.80 496.59L259.30 496.59L259.80 496.59L260.30 496.59L260.80 496.59L261.30 496.59L261.80 496.59L262.30 496.60L262.80 496.60L263.30 496.60L263.80 496.60L264.30 496.60L264.80 496.60L265.30 496.60L265.80 496.60L266.30 496.60L266.80 496.60L267.30 496.60L267.80 496.60L268.30 496.60L268.80 496.60L269.30 496.60L269.80 496.60L270.30 496.60L270.80 496.60L271.30 496.60L271.80 496.60L272.30 496.60L272.80 496.60L273.30 496.60L273.80 496.60L274.30 496.60L274.80 496.60L275.30 496.60L275.80 496.60L276.30 496.60L276.80 496.60L277.30 496.60L277.80 496.60L278.30 496.60L278.80 496.60L279.30 496.60L279.80 496.60L280.30 496.60L280.80 496.60L281.30 496.60L281.80 496.60L282.30 496.60L282.80 496.60L283.30 496.60L283.80 496.60L284.30 496.60L284.80 496.60L285.30 496.60L285.80 496.60L286.30 496.60L286.80 496.60L287.30 496.60L287.80 496.60L288.30 496.60L288.80 496.60L289.30 496.60L289.80 496.60L290.30 496.60L290.80 496.60L291.30 496.60L291.80 496.60L292.30 496.60L292.80 496.60L293.30 496.60L293.80 496.60L294.30 496.60L294.80 496.60L295.30 496.60L295.80 496.60L296.30 496.60L296.80 496.60L297.30 496.60L297.80 496.60L298.30 496.60L298.80 496.60L299.30 496.60L299.80 496.60L300.30 496.60L300.80 496.60L301.30 496.60L301.80 496.60L302.30 496.60L302.80 496.60L303.30 496.60L303.80 496.60L304.30 496.60L304.80 496.60L305.30 496.60L305.80 496.60L306.30 496.60L306.80 496.60L307.30 496.60L307.80 496.60L308.30 496.60L308.80 496.60L309.30 496.60L309.80 496.60L310.30 496.60L310.80 496.60L311.30 496.60L311.80 496.60L312.30 496.60L312.80 496.60L313.30 496.60L313.80 496.60L314.30 496.60L314.80 496.60L315.30 496.60L315.80 496.60L316.30 496.60L316.80 496.60L317.30 496.60L317.80 496.60L318.30 496.60L318.80 496.60L319.30 496.60L319.80 496.60L320.30 496.60L320.80 496.60L321.30 496.60L321.80 496.60L322.30 496.60L322.80 496.60L323.30 496.60L323.80 496.60L324.30 496.60L324.80 496.60L325.30 496.60L325.80 496.60L326.30 496.60L326.80 496.60L327.30 496.60L327.80 496.60L328.30 496.60L328.80 496.60L329.30 496.60L329.80 496.60L330.30 496.60L330.80 496.60L331.30 496.60L331.80 496.60L332.30 496.60L332.80 496.60L333.30 496.60L333.80 496.60L334.30 496.60L334.80 496.60L335.30 496.60" fill="none" stroke="#008000" stroke-width="1.1" stroke-linejoin="round" />
<path d="M39.30 496.60L39.80 496.60L40.30 496.60L40.80 496.60L41.30 496.60L41.80 496.60L42.30 496.60L42.80 496.60L43.30 496.60L43.80 496.60L44.30 496.60L44.80 496.60L45.30 496.60L45.80 496.60L46.30 496.60L46.80 496.60L47.30 496.60L47.80 496.60L48.30 496.60L48.80 496.60L49.30 496.60L49.80 496.60L50.30 496.60L50.80 496.60L51.30 496.60L51.80 496.60L52.30 496.60L52.80 496.60L53.30 496.60L53.80 496.60L54.30 496.60L54.80 496.60L55.30 496.60L55.80 496.60L56.30 496.60L56.80 496.60L57.30 496.60L57.80 496.60L58.30 496.60L58.80 496.60L59.30 496.60L59.80 496.60L60.30 496.60L60.80 496.60L61.30 496.60L61.80 496.60L62.30 496.60L62.80 496.60L63.30 496.60L63.80 496.60L64.30 496.60L64.80 496.60L65.30 496.60L65.80 496.60L66.30 496.60L66.80 496.60L67.30 496.60L67.80 496.60L68.30 496.60L68.80 496.60L69.30 496.60L69.80 496.60L70.30 496.60L70.80 496.60L71.30 496.60L71.80 496.60L72.30 496.60L72.80 496.60L73.30 496.60L73.80 496.60L74.30 496.60L74.80 496.60L75.30 496.60L75.80 496.60L76.30 496.60L76.80 496.60L77.30 496.60L77.80 496.60L78.30 496.60L78.80 496.60L79.30 496.60L79.80 496.60L80.30 496.60L80.80 496.60L81.30 496.60L81.80 496.60L82.30 496.60L82.80 496.60L83.30 496.60L83.80 496.60L84.30 496.60L84.80 496.60L85.30 496.60L85.80 496.60L86.30 496.60L86.80 496.60L87.30 496.60L87.80 496.60L88.30 496.60L88.80 496.60L89.30 496.60L89.80 496.60L90.30 496.60L90.80 496.60L91.30 496.60L91.80 496.60L92.30 496.60L92.80 496.60L93.30 496.60L93.80 496.60L94.30 496.60L94.80 496.60L95.30 496.60L95.80 496.60L96.30 496.60L96.80 496.60L97.30 496.60L97.80 496.60L98.30 496.60L98.80 496.60L99.30 496.60L99.80 496.60L100.30 496.60L100.80 496.60L101.30 496.60L101.80 496.60L102.30 496.60L102.80 496.60L103.30 496.60L103.80 496.60L104.30 496.60L104.80 496.60L105.30 496.60L105.80 496.60L106.30 496.60L106.80 496.60L107.30 496.60L107.80 496.60L108.30 496.60L108.80 496.60L109.30 496.60L109.80 496.60L110.30 496.60L110.80 496.60L111.30 496.60L111.80 496.60L112.30 496.60L112.80 496.60L113.30 496.60L113.80 496.60L114.30 496.60L114.80 496.60L115.30 496.60L115.80 496.60L116.30 496.60L116.80 496.60L117.30 496.60L117.80 496.60L118.30 496.60L118.80 496.60L119.30 496.60L119.80 496.60L120.30 496.60L120.80 496.60L121.30 496.60L121.80 496.60L122.30 496.60L122.80 496.60L123.30 496.60L123.80 496.60L124.30 496.60L124.80 496.60L125.30 496.60L125.80 496.60L126.30 496.60L126.80 496.60L127.30 496.60L127.80 496.60L128.30 496.60L128.80 496.60L129.30 496.60L129.80 496.60L130.30 496.60L130.80 496.60L131.30 496.60L131.80 496.60L132.30 496.60L132.80 496.60L133.30 496.60L133.80 496.60L134.30 496.60L134.80 496.60L135.30 496.60L135.80 496.60L136.30 496.60L136.80 496.60L137.30 496.60L137.80 496.60L138.30 496.60L138.80 496.60L139.30 496.60L139.80 496.60L140.30 496.60L140.80 496.60L141.30 496.60L141.80 496.60L142.30 496.60L142.80 496.60L143.30 496.60L143.80 496.60L144.30 496.60L144.80 496.60L145.30 496.60L145.80 496.60L146.30 496.60L146.80 496.60L147.30 496.60L147.80 496.60L148.30 496.60L148.80 496.60L149.30 496.60L149.80 496.60L150.30 496.60L150.80 496.60L151.30 496.60L151.80 496.60L152.30 496.60L152.80 496.60L153.30 496.60L153.80 496.60L154.30 496.60L154.80 496.60L155.30 496.60L155.80 496.60L156.30 496.60L156.80 496.60L157.30 496.60L157.80 496.60L158.30 496.60L158.80 496.60L159.30 496.60L159.80 496.60L160.30 496.60L160.80 496.60L161.30 496.60L161.80 496.60L162.30 496.60L162.80 496.60L163.30 496.60L163.80 496.60L164.30 496.60L164.80 496.60L165.30 496.60L165.80 496.60L166.30 496.60L166.80 496.60L167.30 496.60L167.80 496.60L168.30 496.60L168.80 496.60L169.30 496.59L169.80 496.59L170.30 496.59L170.80 496.59L171.30 496.59L171.80 496.58L172.30 496.58L172.80 496.57L173.30 496.57L173.80 496.56L174.30 496.55L174.80 496.54L175.30 496.53L175.80 496.51L176.30 496.49L176.80 496.47L177.30 496.44L177.80 496.41L178.30 496.37L178.80 496.33L179.30 496.28L179.80 496.22L180.30 496.14L180.80 496.06L181.30 495.96L181.80 495.85L182.30 495.72L182.80 495.57L183.30 495.40L183.80 495.20L184.30 494.97L184.80 494.71L185.30 494.41L185.80 494.07L186.30 493.69L186.80 493.26L187.30 492.78L187.80 492.23L188.30 491.62L188.80 490.94L189.30 490.18L189.80 489.34L190.30 488.41L190.80 487.38L191.30 486.25L191.80 485.01L192.30 483.65L192.80 482.17L193.30 480.56L193.80 478.81L194.30 476.93L194.80 474.90L195.30 472.71L195.80 470.38L196.30 467.89L196.80 465.24L197.30 462.43L197.80 459.47L198.30 456.34L198.80 453.07L199.30 449.64L199.80 446.07L200.30 442.37L200.80 438.54L201.30 434.59L201.80 430.54L202.30 426.40L202.80 422.19L203.30 417.93L203.80 413.62L204.30 409.31L204.80 404.99L205.30 400.70L205.80 396.46L206.30 392.30L206.80 388.23L207.30 384.29L207.80 380.49L208.30 376.86L208.80 373.43L209.30 370.22L209.80 367.25L210.30 364.54L210.80 362.10L211.30 359.97L211.80 358.15L212.30 356.65L212.80 355.49L213.30 354.68L213.80 354.21L214.30 354.11L214.80 354.36L215.30 354.96L215.80 355.91L216.30 357.21L216.80 358.84L217.30 360.79L217.80 363.04L218.30 365.59L218.80 368.41L219.30 371.48L219.80 374.78L220.30 378.29L220.80 381.99L221.30 385.85L221.80 389.84L222.30 393.95L222.80 398.15L223.30 402.41L223.80 406.71L224.30 411.03L224.80 415.35L225.30 419.64L225.80 423.89L226.30 428.07L226.80 432.17L227.30 436.18L227.80 440.08L228.30 443.86L228.80 447.52L229.30 451.03L229.80 454.39L230.30 457.61L230.80 460.67L231.30 463.57L231.80 466.32L232.30 468.90L232.80 471.33L233.30 473.60L233.80 475.73L234.30 477.70L234.80 479.53L235.30 481.22L235.80 482.77L236.30 484.21L236.80 485.52L237.30 486.71L237.80 487.80L238.30 488.79L238.80 489.69L239.30 490.49L239.80 491.22L240.30 491.87L240.80 492.46L241.30 492.98L241.80 493.44L242.30 493.85L242.80 494.21L243.30 494.53L243.80 494.82L244.30 495.06L244.80 495.28L245.30 495.47L245.80 495.63L246.30 495.78L246.80 495.90L247.30 496.00L247.80 496.10L248.30 496.17L248.80 496.24L249.30 496.30L249.80 496.35L250.30 496.39L250.80 496.42L251.30 496.45L251.80 496.48L252.30 496.50L252.80 496.52L253.30 496.53L253.80 496.54L254.30 496.55L254.80 496.56L255.30 496.57L255.80 496.58L256.30 496.58L256.80 496.58L257.30 496.59L257.80 496.59L258.30 496.59L258.80 496.59L259.30 496.59L259.80 496.60L260.30 496.60L260.80 496.60L261.30 496.60L261.80 496.60L262.30 496.60L262.80 496.60L263.30 496.60L263.80 496.60L264.30 496.60L264.80 496.60L265.30 496.60L265.80 496.60L266.30 496.60L266.80 496.60L267.30 496.60L267.80 496.60L268.30 496.60L268.80 496.60L269.30 496.60L269.80 496.60L270.30 496.60L270.80 496.60L271.30 496.60L271.80 496.60L272.30 496.60L272.80 496.60L273.30 496.60L273.80 496.60L274.30 496.60L274.80 496.60L275.30 496.60L275.80 496.60L276.30 496.60L276.80 496.60L277.30 496.60L277.80 496.60L278.30 496.60L278.80 496.60L279.30 496.60L279.80 496.60L280.30 496.60L280.80 496.60L281.30 496.60L281.80 496.60L282.30 496.60L282.80 496.60L283.30 496.60L283.80 496.60L284.30 496.60L284.80 496.60L285.30 496.60L285.80 496.60L286.30 496.60L286.80 496.60L287.30 496.60L287.80 496.60L288.30 496.60L288.80 496.60L289.30 496.60L289.80 496.60L290.30 496.60L290.80 496.60L291.30 496.60L291.80 496.60L292.30 496.60L292.80 496.60L293.30 496.60L293.80 496.60L294.30 496.60L294.80 496.60L295.30 496.60L295.80 496.60L296.30 496.60L296.80 496.60L297.30 496.60L297.80 496.60L298.30 496.60L298.80 496.60L299.30 496.60L299.80 496.60L300.30 496.60L300.80 496.60L301.30 496.60L301.80 496.60L302.30 496.60L302.80 496.60L303.30 496.60L303.80 496.60L304.30 496.60L304.80 496.60L305.30 496.60L305.80 496.60L306.30 496.60L306.80 496.60L307.30 496.60L307.80 496.60L308.30 496.60L308.80 496.60L309.30 496.60L309.80 496.60L310.30 496.60L310.80 496.60L311.30 496.60L311.80 496.60L312.30 496.60L312.80 496.60L313.30 496.60L313.80 496.60L314.30 496.60L314.80 496.60L315.30 496.60L315.80 496.60L316.30 496.60L316.80 496.60L317.30 496.60L317.80 496.60L318.30 496.60L318.80 496.60L319.30 496.60L319.80 496.60L320.30 496.60L320.80 496.60L321.30 496.60L321.80 496.60L322.30 496.60L322.80 496.60L323.30 496.60L323.80 496.60L324.30 496.60L324.80 496.60L325.30 496.60L325.80 496.60L326.30 496.60L326.80 496.60L327.30 496.60L327.80 496.60L328.30 496.60L328.80 496.60L329.30 496.60L329.80 496.60L330.30 496.60L330.80 496.60L331.30 496.60L331.80 496.60L332.30 496.60L332.80 496.60L333.30 496.60L333.80 496.60L334.30 496.60L334.80 496.60L335.30 496.60" fill="none" stroke="#000080" stroke-width="1.1" stroke-linejoin="round" />
<path d="M39.30 495.87L39.80 495.83L40.30 495.78L40.80 495.74L41.30 495.69L41.80 495.64L42.30 495.58L42.80 495.52L43.30 495.46L43.80 495.40L44.30 495.34L44.80 495.27L45.30 495.20L45.80 495.12L46.30 495.04L46.80 494.96L47.30 494.87L47.80 494.78L48.30 494.69L48.80 494.59L49.30 494.49L49.80 494.38L50.30 494.27L50.80 494.16L51.30 494.04L51.80 493.91L52.30 493.78L52.80 493.64L53.30 493.50L53.80 493.35L54.30 493.20L54.80 493.04L55.30 492.87L55.80 492.70L56.30 492.52L56.80 492.34L57.30 492.15L57.80 491.95L58.30 491.74L58.80 491.53L59.30 491.31L59.80 491.08L60.30 490.84L60.80 490.60L61.30 490.34L61.80 490.08L62.30 489.81L62.80 489.54L63.30 489.25L63.80 488.95L64.30 488.65L64.80 488.33L65.30 488.01L65.80 487.67L66.30 487.33L66.80 486.97L67.30 486.61L67.80 486.23L68.30 485.85L68.80 485.45L69.30 485.05L69.80 484.63L70.30 484.20L70.80 483.76L71.30 483.31L71.80 482.85L72.30 482.38L72.80 481.90L73.30 481.40L73.80 480.89L74.30 480.37L74.80 479.84L75.30 479.30L75.80 478.75L76.30 478.18L76.80 477.60L77.30 477.01L77.80 476.41L78.30 475.79L78.80 475.17L79.30 474.53L79.80 473.88L80.30 473.21L80.80 472.54L81.30 471.85L81.80 471.15L82.30 470.44L82.80 469.71L83.30 468.98L83.80 468.23L84.30 467.46L84.80 466.69L85.30 465.90L85.80 465.11L86.30 464.30L86.80 463.47L87.30 462.64L87.80 461.79L88.30 460.93L88.80 460.06L89.30 459.17L89.80 458.28L90.30 457.37L90.80 456.45L91.30 455.51L91.80 454.57L92.30 453.61L92.80 452.64L93.30 451.65L93.80 450.66L94.30 449.65L94.80 448.62L95.30 447.59L95.80 446.54L96.30 445.48L96.80 444.40L97.30 443.32L97.80 442.22L98.30 441.10L98.80 439.97L99.30 438.83L99.80 437.67L100.30 436.50L100.80 435.31L101.30 434.11L101.80 432.90L102.30 431.67L102.80 430.42L103.30 429.16L103.80 427.89L104.30 426.59L104.80 425.29L105.30 423.96L105.80 422.62L106.30 421.27L106.80 419.89L107.30 418.50L107.80 417.10L108.30 415.67L108.80 414.23L109.30 412.78L109.80 411.30L110.30 409.81L110.80 408.31L111.30 406.78L111.80 405.24L112.30 403.68L112.80 402.11L113.30 400.52L113.80 398.92L114.30 397.30L114.80 395.66L115.30 394.01L115.80 392.34L116.30 390.67L116.80 388.97L117.30 387.27L117.80 385.55L118.30 383.83L118.80 382.09L119.30 380.35L119.80 378.59L120.30 376.83L120.80 375.07L121.30 373.29L121.80 371.52L122.30 369.74L122.80 367.96L123.30 366.19L123.80 364.41L124.30 362.64L124.80 360.87L125.30 359.12L125.80 357.37L126.30 355.63L126.80 353.90L127.30 352.19L127.80 350.50L128.30 348.82L128.80 347.17L129.30 345.53L129.80 343.93L130.30 342.35L130.80 340.80L131.30 339.28L131.80 337.80L132.30 336.35L132.80 334.94L133.30 333.58L133.80 332.25L134.30 330.97L134.80 329.74L135.30 328.56L135.80 327.43L136.30 326.35L136.80 325.33L137.30 324.37L137.80 323.47L138.30 322.62L138.80 321.84L139.30 321.13L139.80 320.48L140.30 319.90L140.80 319.39L141.30 318.95L141.80 318.58L142.30 318.29L142.80 318.06L143.30 317.91L143.80 317.84L144.30 317.83L144.80 317.91L145.30 318.05L145.80 318.28L146.30 318.57L146.80 318.94L147.30 319.39L147.80 319.90L148.30 320.49L148.80 321.14L149.30 321.87L149.80 322.66L150.30 323.52L150.80 324.44L151.30 325.42L151.80 326.46L152.30 327.56L152.80 328.71L153.30 329.91L153.80 331.16L154.30 332.46L154.80 333.80L155.30 335.17L155.80 336.59L156.30 338.03L156.80 339.50L157.30 341.00L157.80 342.51L158.30 344.05L158.80 345.59L159.30 347.15L159.80 348.70L160.30 350.26L160.80 351.82L161.30 353.37L161.80 354.90L162.30 356.43L162.80 357.93L163.30 359.40L163.80 360.86L164.30 362.28L164.80 363.66L165.30 365.01L165.80 366.32L166.30 367.58L166.80 368.80L167.30 369.97L167.80 371.08L168.30 372.14L168.80 373.15L169.30 374.09L169.80 374.98L170.30 375.80L170.80 376.57L171.30 377.27L171.80 377.90L172.30 378.48L172.80 378.99L173.30 379.43L173.80 379.82L174.30 380.14L174.80 380.40L175.30 380.61L175.80 380.75L176.30 380.84L176.80 380.88L177.30 380.86L177.80 380.80L178.30 380.69L178.80 380.54L179.30 380.34L179.80 380.11L180.30 379.84L180.80 379.54L181.30 379.21L181.80 378.85L182.30 378.46L182.80 378.06L183.30 377.63L183.80 377.19L184.30 376.73L184.80 376.26L185.30 375.77L185.80 375.27L186.30 374.75L186.80 374.23L187.30 373.69L187.80 373.13L188.30 372.56L188.80 371.97L189.30 371.36L189.80 370.72L190.30 370.06L190.80 369.37L191.30 368.64L191.80 367.87L192.30 367.06L192.80 366.20L193.30 365.29L193.80 364.32L194.30 363.28L194.80 362.18L195.30 361.00L195.80 359.75L196.30 358.42L196.80 357.00L197.30 355.50L197.80 353.91L198.30 352.24L198.80 350.48L199.30 348.64L199.80 346.72L200.30 344.72L200.80 342.65L201.30 340.52L201.80 338.34L202.30 336.12L202.80 333.87L203.30 331.60L203.80 329.32L204.30 327.07L204.80 324.84L205.30 322.66L205.80 320.55L206.30 318.52L206.80 316.61L207.30 314.82L207.80 313.18L208.30 311.71L208.80 310.43L209.30 309.35L209.80 308.51L210.30 307.90L210.80 307.55L211.30 307.48L211.80 307.70L212.30 308.20L212.80 309.02L213.30 310.14L213.80 311.58L214.30 313.34L214.80 315.41L215.30 317.79L215.80 320.47L216.30 323.45L216.80 326.72L217.30 330.26L217.80 334.06L218.30 338.09L218.80 342.36L219.30 346.82L219.80 351.46L220.30 356.27L220.80 361.21L221.30 366.26L221.80 371.40L222.30 376.60L222.80 381.84L223.30 387.10L223.80 392.36L224.30 397.59L224.80 402.76L225.30 407.88L225.80 412.90L226.30 417.82L226.80 422.62L227.30 427.29L227.80 431.81L228.30 436.18L228.80 440.39L229.30 444.42L229.80 448.28L230.30 451.95L230.80 455.44L231.30 458.74L231.80 461.86L232.30 464.80L232.80 467.56L233.30 470.13L233.80 472.54L234.30 474.77L234.80 476.85L235.30 478.76L235.80 480.53L236.30 482.16L236.80 483.64L237.30 485.01L237.80 486.25L238.30 487.38L238.80 488.40L239.30 489.33L239.80 490.16L240.30 490.92L240.80 491.59L241.30 492.19L241.80 492.73L242.30 493.21L242.80 493.64L243.30 494.02L243.80 494.35L244.30 494.65L244.80 494.90L245.30 495.13L245.80 495.33L246.30 495.51L246.80 495.66L247.30 495.79L247.80 495.90L248.30 496.00L248.80 496.09L249.30 496.16L249.80 496.23L250.30 496.28L250.80 496.33L251.30 496.37L251.80 496.40L252.30 496.43L252.80 496.46L253.30 496.48L253.80 496.50L254.30 496.51L254.80 496.53L255.30 496.54L255.80 496.55L256.30 496.56L256.80 496.56L257.30 496.57L257.80 496.57L258.30 496.58L258.80 496.58L259.30 496.58L259.80 496.59L260.30 496.59L260.80 496.59L261.30 496.59L261.80 496.59L262.30 496.59L262.80 496.60L263.30 496.60L263.80 496.60L264.30 496.60L264.80 496.60L265.30 496.60L265.80 496.60L266.30 496.60L266.80 496.60L267.30 496.60L267.80 496.60L268.30 496.60L268.80 496.60L269.30 496.60L269.80 496.60L270.30 496.60L270.80 496.60L271.30 496.60L271.80 496.60L272.30 496.60L272.80 496.60L273.30 496.60L273.80 496.60L274.30 496.60L274.80 496.60L275.30 496.60L275.80 496.60L276.30 496.60L276.80 496.60L277.30 496.60L277.80 496.60L278.30 496.60L278.80 496.60L279.30 496.60L279.80 496.60L280.30 496.60L280.80 496.60L281.30 496.60L281.80 496.60L282.30 496.60L282.80 496.60L283.30 496.60L283.80 496.60L284.30 496.60L284.80 496.60L285.30 496.60L285.80 496.60L286.30 496.60L286.80 496.60L287.30 496.60L287.80 496.60L288.30 496.60L288.80 496.60L289.30 496.60L289.80 496.60L290.30 496.60L290.80 496.60L291.30 496.60L291.80 496.60L292.30 496.60L292.80 496.60L293.30 496.60L293.80 496.60L294.30 496.60L294.80 496.60L295.30 496.60L295.80 496.60L296.30 496.60L296.80 496.60L297.30 496.60L297.80 496.60L298.30 496.60L298.80 496.60L299.30 496.60L299.80 496.60L300.30 496.60L300.80 496.60L301.30 496.60L301.80 496.60L302.30 496.60L302.80 496.60L303.30 496.60L303.80 496.60L304.30 496.60L304.80 496.60L305.30 496.60L305.80 496.60L306.30 496.60L306.80 496.60L307.30 496.60L307.80 496.60L308.30 496.60L308.80 496.60L309.30 496.60L309.80 496.60L310.30 496.60L310.80 496.60L311.30 496.60L311.80 496.60L312.30 496.60L312.80 496.60L313.30 496.60L313.80 496.60L314.30 496.60L314.80 496.60L315.30 496.60L315.80 496.60L316.30 496.60L316.80 496.60L317.30 496.60L317.80 496.60L318.30 496.60L318.80 496.60L319.30 496.60L319.80 496.60L320.30 496.60L320.80 496.60L321.30 496.60L321.80 496.60L322.30 496.60L322.80 496.60L323.30 496.60L323.80 496.60L324.30 496.60L324.80 496.60L325.30 496.60L325.80 496.60L326.30 496.60L326.80 496.60L327.30 496.60L327.80 496.60L328.30 496.60L328.80 496.60L329.30 496.60L329.80 496.60L330.30 496.60L330.80 496.60L331.30 496.60L331.80 496.60L332.30 496.60L332.80 496.60L333.30 496.60L333.80 496.60L334.30 496.60L334.80 496.60L335.30 496.60" fill="none" stroke="#8000ff" stroke-width="1.15" stroke-linejoin="round" />
<path d="M262 308.70H288.5" stroke="#000000" stroke-width="1.5"/>
<text x="291.4" y="312.60" font-size="11.4" fill="#111">Raw</text>
<path d="M262 322.80H288.5" stroke="#ff0000" stroke-width="1.5"/>
<text x="291.4" y="326.70" font-size="11.4" fill="#111">Baseline</text>
<path d="M262 336.90H288.5" stroke="#0000ff" stroke-width="1.5"/>
<text x="291.4" y="340.80" font-size="11.4" fill="#111">D2</text>
<path d="M262 351.00H288.5" stroke="#ff00ff" stroke-width="1.5"/>
<text x="291.4" y="354.90" font-size="11.4" fill="#111">D1</text>
<path d="M262 365.10H288.5" stroke="#008000" stroke-width="1.5"/>
<text x="291.4" y="369.00" font-size="11.4" fill="#111">G2</text>
<path d="M262 379.20H288.5" stroke="#000080" stroke-width="1.5"/>
<text x="291.4" y="383.10" font-size="11.4" fill="#111">G1</text>
<path d="M262 393.30H288.5" stroke="#8000ff" stroke-width="1.5"/>
<text x="291.4" y="397.20" font-size="11.4" fill="#111">Peak Total</text>
<path d="M115.5 496.6H164" stroke="#008000" stroke-width="1.1"/>
<path d="M164 496.6H195" stroke="#ff0000" stroke-width="1.1"/>
<path d="M195 496.6H217.4" stroke="#0000ff" stroke-width="1.1"/>
<path d="M217.4 496.6H240.5" stroke="#ff00ff" stroke-width="1.1"/>
<path d="M261.8 496.6H276.3" stroke="#008000" stroke-width="1.1"/>
<path d="M417.3 295.7V535.4H713.9" fill="none" stroke="#1a1a1a" stroke-width="1.5"/>
<text x="417.30" y="550.2" font-size="9.4" text-anchor="middle" fill="#3c3c3c">1000</text>
<text x="491.45" y="550.2" font-size="9.4" text-anchor="middle" fill="#3c3c3c">1250</text>
<text x="565.60" y="550.2" font-size="9.4" text-anchor="middle" fill="#3c3c3c">1500</text>
<text x="639.75" y="550.2" font-size="9.4" text-anchor="middle" fill="#3c3c3c">1750</text>
<text x="713.90" y="550.2" font-size="9.4" text-anchor="middle" fill="#3c3c3c">2000</text>
<path d="M417.30 535.4v4.6M454.38 535.4v2.6M491.45 535.4v4.6M528.52 535.4v2.6M565.60 535.4v4.6M602.67 535.4v2.6M639.75 535.4v4.6M676.83 535.4v2.6M713.90 535.4v4.6" stroke="#1a1a1a" stroke-width="1.4"/>
<text x="565.60" y="570.7" font-size="11.4" text-anchor="middle" fill="#111">Raman Shift / cm<tspan dx="0.6" dy="-5.2" font-size="6.6">-1</tspan></text>
<text transform="translate(396.3 423) rotate(-90)" font-size="11.6" text-anchor="middle" fill="#111">Relative intensity / a.u.</text>
<text x="373.3" y="303.5" font-size="20.2" font-weight="bold" fill="#000">(d)</text>
<path d="M417.30 505.96L417.80 508.02L418.30 509.19L418.80 509.81L419.30 512.34L419.80 514.54L420.30 515.24L420.80 517.11L421.30 519.02L421.80 520.74L422.30 522.81L422.80 524.75L423.30 526.16L423.80 523.88L424.30 522.01L424.80 520.06L425.30 518.27L425.80 517.09L426.30 517.15L426.80 516.21L427.30 516.22L427.80 515.00L428.30 515.04L428.80 516.57L429.30 519.30L429.80 521.01L430.30 523.91L430.80 525.14L431.30 526.05L431.80 523.49L432.30 521.80L432.80 519.59L433.30 517.14L433.80 515.80L434.30 517.29L434.80 518.43L435.30 519.58L435.80 520.42L436.30 517.75L436.80 515.29L437.30 513.34L437.80 511.81L438.30 509.33L438.80 507.86L439.30 508.96L439.80 508.76L440.30 508.73L440.80 509.61L441.30 508.07L441.80 508.34L442.30 508.30L442.80 509.09L443.30 511.28L443.80 510.64L444.30 508.23L444.80 505.77L445.30 503.08L445.80 500.56L446.30 497.69L446.80 498.37L447.30 501.00L447.80 503.68L448.30 505.91L448.80 508.18L449.30 507.94L449.80 506.65L450.30 505.26L450.80 503.92L451.30 502.92L451.80 503.45L452.30 503.87L452.80 504.57L453.30 506.57L453.80 510.66L454.30 514.95L454.80 517.28L455.30 514.22L455.80 511.96L456.30 508.96L456.80 505.99L457.30 508.95L457.80 512.03L458.30 515.27L458.80 518.08L459.30 521.38L459.80 522.60L460.30 517.94L460.80 513.98L461.30 509.44L461.80 505.15L462.30 500.61L462.80 498.08L463.30 499.93L463.80 500.78L464.30 502.45L464.80 503.01L465.30 504.66L465.80 505.48L466.30 506.74L466.80 507.32L467.30 509.41L467.80 509.73L468.30 510.68L468.80 511.70L469.30 507.17L469.80 501.50L470.30 497.15L470.80 492.18L471.30 489.47L471.80 485.37L472.30 483.26L472.80 484.65L473.30 484.64L473.80 485.16L474.30 486.04L474.80 484.79L475.30 482.80L475.80 481.85L476.30 479.59L476.80 481.02L477.30 482.73L477.80 483.97L478.30 485.95L478.80 485.71L479.30 481.80L479.80 478.51L480.30 476.57L480.80 473.05L481.30 472.01L481.80 469.88L482.30 466.89L482.80 465.07L483.30 465.92L483.80 467.56L484.30 467.46L484.80 464.03L485.30 460.43L485.80 456.80L486.30 453.54L486.80 451.73L487.30 449.42L487.80 447.31L488.30 445.04L488.80 444.67L489.30 443.59L489.80 443.95L490.30 443.56L490.80 441.47L491.30 441.17L491.80 439.53L492.30 437.68L492.80 436.01L493.30 432.70L493.80 428.51L494.30 424.98L494.80 420.25L495.30 417.69L495.80 416.14L496.30 414.12L496.80 412.73L497.30 410.02L497.80 410.02L498.30 409.80L498.80 410.26L499.30 407.37L499.80 403.88L500.30 400.53L500.80 396.55L501.30 390.55L501.80 384.19L502.30 378.03L502.80 370.01L503.30 361.03L503.80 352.87L504.30 350.57L504.80 349.06L505.30 347.92L505.80 346.03L506.30 344.10L506.80 342.20L507.30 338.48L507.80 332.35L508.30 330.05L508.80 326.78L509.30 323.26L509.80 323.14L510.30 323.20L510.80 323.25L511.30 322.35L511.80 320.76L512.30 318.51L512.80 316.97L513.30 314.86L513.80 315.12L514.30 315.43L514.80 316.83L515.30 318.06L515.80 318.92L516.30 316.05L516.80 314.21L517.30 312.87L517.80 308.90L518.30 305.98L518.80 306.19L519.30 309.26L519.80 312.26L520.30 314.83L520.80 317.81L521.30 320.05L521.80 323.84L522.30 324.61L522.80 323.19L523.30 320.95L523.80 320.09L524.30 318.52L524.80 319.09L525.30 321.85L525.80 325.21L526.30 328.74L526.80 334.58L527.30 338.77L527.80 342.02L528.30 343.76L528.80 346.19L529.30 347.74L529.80 348.15L530.30 349.25L530.80 349.08L531.30 350.16L531.80 350.97L532.30 354.50L532.80 358.10L533.30 363.31L533.80 368.78L534.30 374.67L534.80 380.53L535.30 386.11L535.80 385.00L536.30 384.09L536.80 383.73L537.30 382.26L537.80 384.97L538.30 388.23L538.80 392.72L539.30 396.27L539.80 399.98L540.30 404.35L540.80 407.28L541.30 410.36L541.80 414.07L542.30 417.44L542.80 419.75L543.30 420.85L543.80 423.44L544.30 424.73L544.80 426.36L545.30 428.55L545.80 430.11L546.30 430.53L546.80 432.58L547.30 433.65L547.80 435.70L548.30 438.19L548.80 439.47L549.30 440.02L549.80 441.84L550.30 442.99L550.80 443.87L551.30 444.96L551.80 446.09L552.30 446.28L552.80 447.51L553.30 447.27L553.80 448.58L554.30 445.90L554.80 443.85L555.30 442.45L555.80 444.27L556.30 446.20L556.80 448.01L557.30 450.14L557.80 449.28L558.30 448.46L558.80 446.90L559.30 446.54L559.80 446.09L560.30 447.03L560.80 448.68L561.30 449.26L561.80 450.83L562.30 452.23L562.80 452.86L563.30 450.86L563.80 449.30L564.30 447.29L564.80 445.83L565.30 443.56L565.80 441.91L566.30 439.68L566.80 438.08L567.30 436.65L567.80 433.97L568.30 432.04L568.80 429.95L569.30 428.82L569.80 426.00L570.30 423.95L570.80 420.87L571.30 419.09L571.80 416.24L572.30 413.51L572.80 410.84L573.30 408.28L573.80 404.78L574.30 401.98L574.80 400.24L575.30 397.84L575.80 395.01L576.30 392.31L576.80 390.01L577.30 386.33L577.80 384.42L578.30 380.07L578.80 375.60L579.30 370.04L579.80 364.88L580.30 360.29L580.80 356.63L581.30 352.60L581.80 349.72L582.30 347.81L582.80 346.18L583.30 344.67L583.80 343.39L584.30 341.91L584.80 341.19L585.30 336.11L585.80 330.11L586.30 323.23L586.80 317.68L587.30 311.77L587.80 308.02L588.30 305.71L588.80 305.55L589.30 303.79L589.80 304.56L590.30 306.30L590.80 304.55L591.30 302.82L591.80 304.80L592.30 307.92L592.80 311.39L593.30 314.68L593.80 317.49L594.30 321.97L594.80 325.99L595.30 326.27L595.80 327.41L596.30 331.67L596.80 337.15L597.30 343.97L597.80 350.18L598.30 357.15L598.80 363.80L599.30 369.02L599.80 374.12L600.30 378.28L600.80 386.49L601.30 395.78L601.80 406.08L602.30 415.20L602.80 423.96L603.30 431.09L603.80 436.66L604.30 441.82L604.80 447.82L605.30 453.53L605.80 459.15L606.30 464.14L606.80 469.33L607.30 473.20L607.80 476.63L608.30 480.62L608.80 482.85L609.30 486.20L609.80 488.91L610.30 490.19L610.80 492.82L611.30 493.99L611.80 495.88L612.30 496.94L612.80 498.30L613.30 499.04L613.80 499.95L614.30 501.23L614.80 501.72L615.30 501.82L615.80 502.93L616.30 504.90L616.80 506.37L617.30 511.68L617.80 517.08L618.30 521.48L618.80 520.70L619.30 520.63L619.80 520.38L620.30 520.42L620.80 521.34L621.30 521.54L621.80 523.31L622.30 524.15L622.80 524.79L623.30 524.14L623.80 523.51L624.30 523.20L624.80 523.54L625.30 523.97L625.80 523.94L626.30 523.61L626.80 521.99L627.30 520.88L627.80 518.46L628.30 518.00L628.80 520.47L629.30 522.80L629.80 525.11L630.30 524.44L630.80 519.42L631.30 514.84L631.80 509.04L632.30 508.44L632.80 512.29L633.30 515.59L633.80 519.47L634.30 522.58L634.80 519.50L635.30 516.19L635.80 513.54L636.30 510.89L636.80 511.81L637.30 512.86L637.80 512.65L638.30 513.95L638.80 513.42L639.30 514.03L639.80 514.92L640.30 515.11L640.80 516.84L641.30 517.77L641.80 519.05L642.30 520.50L642.80 520.30L643.30 519.17L643.80 518.20L644.30 517.11L644.80 516.56L645.30 514.09L645.80 513.66L646.30 512.55L646.80 512.04L647.30 510.92L647.80 511.94L648.30 514.38L648.80 515.75L649.30 517.10L649.80 518.37L650.30 521.41L650.80 522.53L651.30 521.89L651.80 518.99L652.30 518.65L652.80 516.86L653.30 514.65L653.80 512.84L654.30 511.84L654.80 512.63L655.30 514.01L655.80 515.94L656.30 517.88L656.80 519.10L657.30 520.88L657.80 521.46L658.30 522.68L658.80 523.81L659.30 524.78L659.80 526.07L660.30 526.35L660.80 524.07L661.30 522.35L661.80 520.28L662.30 519.08L662.80 517.10L663.30 514.68L663.80 513.72L664.30 516.08L664.80 517.66L665.30 518.72L665.80 516.61L666.30 513.22L666.80 510.54L667.30 506.62L667.80 507.18L668.30 508.78L668.80 511.66L669.30 513.84L669.80 516.91L670.30 520.12L670.80 518.37L671.30 516.94L671.80 516.99L672.30 516.07L672.80 515.85L673.30 514.00L673.80 512.31L674.30 510.96L674.80 509.28L675.30 507.32L675.80 506.77L676.30 506.42L676.80 505.33L677.30 505.95L677.80 504.85L678.30 506.50L678.80 506.47L679.30 507.90L679.80 505.96L680.30 503.05L680.80 500.83L681.30 497.66L681.80 495.66L682.30 497.41L682.80 498.75L683.30 501.12L683.80 507.05L684.30 511.76L684.80 509.94L685.30 509.11L685.80 507.81L686.30 508.92L686.80 510.44L687.30 511.90L687.80 511.31L688.30 511.75L688.80 511.41L689.30 510.88L689.80 511.92L690.30 514.33L690.80 515.62L691.30 517.36L691.80 519.26L692.30 518.18L692.80 517.12L693.30 515.88L693.80 512.55L694.30 506.98L694.80 502.57L695.30 497.47L695.80 499.70L696.30 501.56L696.80 503.94L697.30 507.56L697.80 510.37L698.30 511.09L698.80 512.31L699.30 513.23L699.80 514.31L700.30 514.82L700.80 513.23L701.30 512.19L701.80 510.38L702.30 509.48L702.80 510.12L703.30 510.67L703.80 511.10L704.30 510.69L704.80 511.31L705.30 511.73L705.80 512.78L706.30 513.39L706.80 512.50L707.30 512.32L707.80 512.41L708.30 511.82L708.80 510.45L709.30 508.85L709.80 508.61L710.30 507.22L710.80 505.32L711.30 504.12L711.80 503.28L712.30 502.11L712.80 501.32L713.30 499.36L713.80 497.77" fill="none" stroke="#000000" stroke-width="1.15" stroke-linejoin="round" />
<path d="M417.3 505.9H713.9" fill="none" stroke="#ff0000" stroke-width="1.1" stroke-linejoin="round" />
<path d="M417.30 505.90L417.80 505.90L418.30 505.90L418.80 505.90L419.30 505.90L419.80 505.90L420.30 505.90L420.80 505.90L421.30 505.90L421.80 505.90L422.30 505.90L422.80 505.90L423.30 505.90L423.80 505.90L424.30 505.90L424.80 505.90L425.30 505.90L425.80 505.90L426.30 505.90L426.80 505.90L427.30 505.90L427.80 505.90L428.30 505.90L428.80 505.90L429.30 505.90L429.80 505.90L430.30 505.90L430.80 505.90L431.30 505.90L431.80 505.90L432.30 505.90L432.80 505.90L433.30 505.90L433.80 505.90L434.30 505.90L434.80 505.90L435.30 505.90L435.80 505.90L436.30 505.90L436.80 505.90L437.30 505.90L437.80 505.90L438.30 505.90L438.80 505.90L439.30 505.90L439.80 505.90L440.30 505.90L440.80 505.90L441.30 505.90L441.80 505.90L442.30 505.90L442.80 505.90L443.30 505.90L443.80 505.90L444.30 505.90L444.80 505.90L445.30 505.90L445.80 505.90L446.30 505.90L446.80 505.89L447.30 505.89L447.80 505.89L448.30 505.89L448.80 505.89L449.30 505.89L449.80 505.89L450.30 505.88L450.80 505.88L451.30 505.88L451.80 505.88L452.30 505.87L452.80 505.87L453.30 505.86L453.80 505.86L454.30 505.85L454.80 505.85L455.30 505.84L455.80 505.83L456.30 505.82L456.80 505.81L457.30 505.80L457.80 505.79L458.30 505.78L458.80 505.76L459.30 505.74L459.80 505.72L460.30 505.70L460.80 505.67L461.30 505.65L461.80 505.62L462.30 505.58L462.80 505.54L463.30 505.50L463.80 505.45L464.30 505.40L464.80 505.35L465.30 505.28L465.80 505.21L466.30 505.14L466.80 505.05L467.30 504.96L467.80 504.86L468.30 504.75L468.80 504.63L469.30 504.50L469.80 504.35L470.30 504.20L470.80 504.02L471.30 503.84L471.80 503.64L472.30 503.42L472.80 503.18L473.30 502.92L473.80 502.64L474.30 502.34L474.80 502.01L475.30 501.66L475.80 501.29L476.30 500.88L476.80 500.45L477.30 499.98L477.80 499.48L478.30 498.95L478.80 498.37L479.30 497.76L479.80 497.11L480.30 496.42L480.80 495.69L481.30 494.91L481.80 494.08L482.30 493.20L482.80 492.27L483.30 491.29L483.80 490.26L484.30 489.17L484.80 488.02L485.30 486.82L485.80 485.55L486.30 484.22L486.80 482.84L487.30 481.38L487.80 479.87L488.30 478.29L488.80 476.64L489.30 474.93L489.80 473.16L490.30 471.32L490.80 469.41L491.30 467.44L491.80 465.40L492.30 463.31L492.80 461.15L493.30 458.93L493.80 456.65L494.30 454.32L494.80 451.93L495.30 449.50L495.80 447.01L496.30 444.48L496.80 441.91L497.30 439.30L497.80 436.66L498.30 433.99L498.80 431.30L499.30 428.58L499.80 425.85L500.30 423.12L500.80 420.37L501.30 417.64L501.80 414.91L502.30 412.19L502.80 409.49L503.30 406.83L503.80 404.19L504.30 401.60L504.80 399.05L505.30 396.55L505.80 394.12L506.30 391.75L506.80 389.45L507.30 387.23L507.80 385.10L508.30 383.06L508.80 381.11L509.30 379.27L509.80 377.54L510.30 375.92L510.80 374.41L511.30 373.03L511.80 371.78L512.30 370.66L512.80 369.67L513.30 368.82L513.80 368.11L514.30 367.55L514.80 367.12L515.30 366.84L515.80 366.71L516.30 366.73L516.80 366.89L517.30 367.20L517.80 367.65L518.30 368.24L518.80 368.98L519.30 369.86L519.80 370.87L520.30 372.02L520.80 373.30L521.30 374.70L521.80 376.23L522.30 377.87L522.80 379.63L523.30 381.49L523.80 383.46L524.30 385.52L524.80 387.67L525.30 389.90L525.80 392.21L526.30 394.60L526.80 397.05L527.30 399.55L527.80 402.11L528.30 404.72L528.80 407.36L529.30 410.03L529.80 412.73L530.30 415.45L530.80 418.18L531.30 420.92L531.80 423.66L532.30 426.40L532.80 429.13L533.30 431.84L533.80 434.53L534.30 437.19L534.80 439.83L535.30 442.43L535.80 444.99L536.30 447.51L536.80 449.99L537.30 452.41L537.80 454.79L538.30 457.11L538.80 459.38L539.30 461.58L539.80 463.73L540.30 465.82L540.80 467.84L541.30 469.80L541.80 471.69L542.30 473.52L542.80 475.28L543.30 476.98L543.80 478.61L544.30 480.18L544.80 481.68L545.30 483.12L545.80 484.49L546.30 485.81L546.80 487.06L547.30 488.26L547.80 489.39L548.30 490.47L548.80 491.49L549.30 492.46L549.80 493.38L550.30 494.25L550.80 495.07L551.30 495.84L551.80 496.56L552.30 497.25L552.80 497.89L553.30 498.49L553.80 499.06L554.30 499.58L554.80 500.08L555.30 500.54L555.80 500.97L556.30 501.36L556.80 501.74L557.30 502.08L557.80 502.40L558.30 502.70L558.80 502.97L559.30 503.23L559.80 503.46L560.30 503.68L560.80 503.88L561.30 504.06L561.80 504.23L562.30 504.38L562.80 504.53L563.30 504.66L563.80 504.77L564.30 504.88L564.80 504.98L565.30 505.07L565.80 505.15L566.30 505.23L566.80 505.30L567.30 505.36L567.80 505.41L568.30 505.46L568.80 505.51L569.30 505.55L569.80 505.59L570.30 505.62L570.80 505.65L571.30 505.68L571.80 505.70L572.30 505.73L572.80 505.75L573.30 505.76L573.80 505.78L574.30 505.79L574.80 505.80L575.30 505.82L575.80 505.83L576.30 505.83L576.80 505.84L577.30 505.85L577.80 505.86L578.30 505.86L578.80 505.87L579.30 505.87L579.80 505.87L580.30 505.88L580.80 505.88L581.30 505.88L581.80 505.88L582.30 505.89L582.80 505.89L583.30 505.89L583.80 505.89L584.30 505.89L584.80 505.89L585.30 505.89L585.80 505.90L586.30 505.90L586.80 505.90L587.30 505.90L587.80 505.90L588.30 505.90L588.80 505.90L589.30 505.90L589.80 505.90L590.30 505.90L590.80 505.90L591.30 505.90L591.80 505.90L592.30 505.90L592.80 505.90L593.30 505.90L593.80 505.90L594.30 505.90L594.80 505.90L595.30 505.90L595.80 505.90L596.30 505.90L596.80 505.90L597.30 505.90L597.80 505.90L598.30 505.90L598.80 505.90L599.30 505.90L599.80 505.90L600.30 505.90L600.80 505.90L601.30 505.90L601.80 505.90L602.30 505.90L602.80 505.90L603.30 505.90L603.80 505.90L604.30 505.90L604.80 505.90L605.30 505.90L605.80 505.90L606.30 505.90L606.80 505.90L607.30 505.90L607.80 505.90L608.30 505.90L608.80 505.90L609.30 505.90L609.80 505.90L610.30 505.90L610.80 505.90L611.30 505.90L611.80 505.90L612.30 505.90L612.80 505.90L613.30 505.90L613.80 505.90L614.30 505.90L614.80 505.90L615.30 505.90L615.80 505.90L616.30 505.90L616.80 505.90L617.30 505.90L617.80 505.90L618.30 505.90L618.80 505.90L619.30 505.90L619.80 505.90L620.30 505.90L620.80 505.90L621.30 505.90L621.80 505.90L622.30 505.90L622.80 505.90L623.30 505.90L623.80 505.90L624.30 505.90L624.80 505.90L625.30 505.90L625.80 505.90L626.30 505.90L626.80 505.90L627.30 505.90L627.80 505.90L628.30 505.90L628.80 505.90L629.30 505.90L629.80 505.90L630.30 505.90L630.80 505.90L631.30 505.90L631.80 505.90L632.30 505.90L632.80 505.90L633.30 505.90L633.80 505.90L634.30 505.90L634.80 505.90L635.30 505.90L635.80 505.90L636.30 505.90L636.80 505.90L637.30 505.90L637.80 505.90L638.30 505.90L638.80 505.90L639.30 505.90L639.80 505.90L640.30 505.90L640.80 505.90L641.30 505.90L641.80 505.90L642.30 505.90L642.80 505.90L643.30 505.90L643.80 505.90L644.30 505.90L644.80 505.90L645.30 505.90L645.80 505.90L646.30 505.90L646.80 505.90L647.30 505.90L647.80 505.90L648.30 505.90L648.80 505.90L649.30 505.90L649.80 505.90L650.30 505.90L650.80 505.90L651.30 505.90L651.80 505.90L652.30 505.90L652.80 505.90L653.30 505.90L653.80 505.90L654.30 505.90L654.80 505.90L655.30 505.90L655.80 505.90L656.30 505.90L656.80 505.90L657.30 505.90L657.80 505.90L658.30 505.90L658.80 505.90L659.30 505.90L659.80 505.90L660.30 505.90L660.80 505.90L661.30 505.90L661.80 505.90L662.30 505.90L662.80 505.90L663.30 505.90L663.80 505.90L664.30 505.90L664.80 505.90L665.30 505.90L665.80 505.90L666.30 505.90L666.80 505.90L667.30 505.90L667.80 505.90L668.30 505.90L668.80 505.90L669.30 505.90L669.80 505.90L670.30 505.90L670.80 505.90L671.30 505.90L671.80 505.90L672.30 505.90L672.80 505.90L673.30 505.90L673.80 505.90L674.30 505.90L674.80 505.90L675.30 505.90L675.80 505.90L676.30 505.90L676.80 505.90L677.30 505.90L677.80 505.90L678.30 505.90L678.80 505.90L679.30 505.90L679.80 505.90L680.30 505.90L680.80 505.90L681.30 505.90L681.80 505.90L682.30 505.90L682.80 505.90L683.30 505.90L683.80 505.90L684.30 505.90L684.80 505.90L685.30 505.90L685.80 505.90L686.30 505.90L686.80 505.90L687.30 505.90L687.80 505.90L688.30 505.90L688.80 505.90L689.30 505.90L689.80 505.90L690.30 505.90L690.80 505.90L691.30 505.90L691.80 505.90L692.30 505.90L692.80 505.90L693.30 505.90L693.80 505.90L694.30 505.90L694.80 505.90L695.30 505.90L695.80 505.90L696.30 505.90L696.80 505.90L697.30 505.90L697.80 505.90L698.30 505.90L698.80 505.90L699.30 505.90L699.80 505.90L700.30 505.90L700.80 505.90L701.30 505.90L701.80 505.90L702.30 505.90L702.80 505.90L703.30 505.90L703.80 505.90L704.30 505.90L704.80 505.90L705.30 505.90L705.80 505.90L706.30 505.90L706.80 505.90L707.30 505.90L707.80 505.90L708.30 505.90L708.80 505.90L709.30 505.90L709.80 505.90L710.30 505.90L710.80 505.90L711.30 505.90L711.80 505.90L712.30 505.90L712.80 505.90L713.30 505.90L713.80 505.90" fill="none" stroke="#0000ff" stroke-width="1.1" stroke-linejoin="round" />
<path d="M417.30 505.89L417.80 505.89L418.30 505.89L418.80 505.88L419.30 505.88L419.80 505.88L420.30 505.88L420.80 505.88L421.30 505.88L421.80 505.88L422.30 505.87L422.80 505.87L423.30 505.87L423.80 505.87L424.30 505.87L424.80 505.86L425.30 505.86L425.80 505.86L426.30 505.86L426.80 505.85L427.30 505.85L427.80 505.85L428.30 505.84L428.80 505.84L429.30 505.83L429.80 505.83L430.30 505.82L430.80 505.82L431.30 505.81L431.80 505.81L432.30 505.80L432.80 505.79L433.30 505.79L433.80 505.78L434.30 505.77L434.80 505.76L435.30 505.75L435.80 505.74L436.30 505.73L436.80 505.72L437.30 505.71L437.80 505.70L438.30 505.68L438.80 505.67L439.30 505.66L439.80 505.64L440.30 505.62L440.80 505.61L441.30 505.59L441.80 505.57L442.30 505.55L442.80 505.53L443.30 505.51L443.80 505.48L444.30 505.46L444.80 505.43L445.30 505.41L445.80 505.38L446.30 505.35L446.80 505.31L447.30 505.28L447.80 505.25L448.30 505.21L448.80 505.17L449.30 505.13L449.80 505.09L450.30 505.04L450.80 504.99L451.30 504.94L451.80 504.89L452.30 504.84L452.80 504.78L453.30 504.72L453.80 504.66L454.30 504.60L454.80 504.53L455.30 504.46L455.80 504.38L456.30 504.31L456.80 504.23L457.30 504.14L457.80 504.05L458.30 503.96L458.80 503.87L459.30 503.77L459.80 503.66L460.30 503.56L460.80 503.45L461.30 503.33L461.80 503.21L462.30 503.08L462.80 502.95L463.30 502.82L463.80 502.68L464.30 502.53L464.80 502.38L465.30 502.22L465.80 502.06L466.30 501.89L466.80 501.72L467.30 501.54L467.80 501.35L468.30 501.16L468.80 500.96L469.30 500.75L469.80 500.54L470.30 500.32L470.80 500.09L471.30 499.86L471.80 499.62L472.30 499.37L472.80 499.11L473.30 498.85L473.80 498.58L474.30 498.30L474.80 498.01L475.30 497.71L475.80 497.41L476.30 497.10L476.80 496.78L477.30 496.45L477.80 496.11L478.30 495.76L478.80 495.41L479.30 495.05L479.80 494.67L480.30 494.29L480.80 493.90L481.30 493.50L481.80 493.09L482.30 492.68L482.80 492.25L483.30 491.81L483.80 491.37L484.30 490.92L484.80 490.45L485.30 489.98L485.80 489.50L486.30 489.02L486.80 488.52L487.30 488.01L487.80 487.50L488.30 486.97L488.80 486.44L489.30 485.90L489.80 485.36L490.30 484.80L490.80 484.24L491.30 483.67L491.80 483.09L492.30 482.51L492.80 481.92L493.30 481.32L493.80 480.71L494.30 480.10L494.80 479.49L495.30 478.86L495.80 478.24L496.30 477.60L496.80 476.97L497.30 476.32L497.80 475.68L498.30 475.03L498.80 474.38L499.30 473.72L499.80 473.06L500.30 472.40L500.80 471.74L501.30 471.08L501.80 470.42L502.30 469.75L502.80 469.09L503.30 468.42L503.80 467.76L504.30 467.10L504.80 466.44L505.30 465.78L505.80 465.13L506.30 464.47L506.80 463.83L507.30 463.18L507.80 462.55L508.30 461.91L508.80 461.28L509.30 460.66L509.80 460.05L510.30 459.44L510.80 458.84L511.30 458.25L511.80 457.67L512.30 457.10L512.80 456.54L513.30 455.99L513.80 455.45L514.30 454.92L514.80 454.40L515.30 453.89L515.80 453.40L516.30 452.92L516.80 452.46L517.30 452.00L517.80 451.57L518.30 451.14L518.80 450.74L519.30 450.35L519.80 449.97L520.30 449.61L520.80 449.27L521.30 448.95L521.80 448.64L522.30 448.35L522.80 448.08L523.30 447.83L523.80 447.59L524.30 447.38L524.80 447.18L525.30 447.01L525.80 446.85L526.30 446.71L526.80 446.59L527.30 446.49L527.80 446.42L528.30 446.36L528.80 446.32L529.30 446.30L529.80 446.30L530.30 446.33L530.80 446.37L531.30 446.43L531.80 446.51L532.30 446.61L532.80 446.74L533.30 446.88L533.80 447.04L534.30 447.22L534.80 447.42L535.30 447.64L535.80 447.88L536.30 448.13L536.80 448.41L537.30 448.70L537.80 449.01L538.30 449.34L538.80 449.68L539.30 450.05L539.80 450.42L540.30 450.82L540.80 451.23L541.30 451.65L541.80 452.09L542.30 452.55L542.80 453.02L543.30 453.50L543.80 453.99L544.30 454.50L544.80 455.02L545.30 455.55L545.80 456.10L546.30 456.65L546.80 457.21L547.30 457.79L547.80 458.37L548.30 458.96L548.80 459.56L549.30 460.17L549.80 460.79L550.30 461.41L550.80 462.04L551.30 462.67L551.80 463.31L552.30 463.96L552.80 464.60L553.30 465.26L553.80 465.91L554.30 466.57L554.80 467.23L555.30 467.89L555.80 468.56L556.30 469.22L556.80 469.88L557.30 470.55L557.80 471.21L558.30 471.87L558.80 472.54L559.30 473.20L559.80 473.85L560.30 474.51L560.80 475.16L561.30 475.81L561.80 476.45L562.30 477.09L562.80 477.73L563.30 478.36L563.80 478.99L564.30 479.61L564.80 480.22L565.30 480.83L565.80 481.44L566.30 482.03L566.80 482.62L567.30 483.21L567.80 483.78L568.30 484.35L568.80 484.91L569.30 485.47L569.80 486.01L570.30 486.55L570.80 487.08L571.30 487.60L571.80 488.11L572.30 488.62L572.80 489.11L573.30 489.60L573.80 490.08L574.30 490.55L574.80 491.01L575.30 491.46L575.80 491.90L576.30 492.34L576.80 492.76L577.30 493.18L577.80 493.58L578.30 493.98L578.80 494.37L579.30 494.75L579.80 495.12L580.30 495.48L580.80 495.83L581.30 496.18L581.80 496.52L582.30 496.84L582.80 497.16L583.30 497.47L583.80 497.77L584.30 498.07L584.80 498.35L585.30 498.63L585.80 498.90L586.30 499.17L586.80 499.42L587.30 499.67L587.80 499.91L588.30 500.14L588.80 500.36L589.30 500.58L589.80 500.79L590.30 501.00L590.80 501.20L591.30 501.39L591.80 501.57L592.30 501.75L592.80 501.93L593.30 502.09L593.80 502.25L594.30 502.41L594.80 502.56L595.30 502.70L595.80 502.84L596.30 502.98L596.80 503.11L597.30 503.23L597.80 503.35L598.30 503.47L598.80 503.58L599.30 503.69L599.80 503.79L600.30 503.89L600.80 503.98L601.30 504.07L601.80 504.16L602.30 504.24L602.80 504.32L603.30 504.40L603.80 504.47L604.30 504.54L604.80 504.61L605.30 504.67L605.80 504.73L606.30 504.79L606.80 504.85L607.30 504.90L607.80 504.95L608.30 505.00L608.80 505.05L609.30 505.09L609.80 505.14L610.30 505.18L610.80 505.22L611.30 505.25L611.80 505.29L612.30 505.32L612.80 505.35L613.30 505.38L613.80 505.41L614.30 505.44L614.80 505.46L615.30 505.49L615.80 505.51L616.30 505.53L616.80 505.55L617.30 505.57L617.80 505.59L618.30 505.61L618.80 505.63L619.30 505.64L619.80 505.66L620.30 505.67L620.80 505.69L621.30 505.70L621.80 505.71L622.30 505.72L622.80 505.73L623.30 505.74L623.80 505.75L624.30 505.76L624.80 505.77L625.30 505.78L625.80 505.79L626.30 505.79L626.80 505.80L627.30 505.81L627.80 505.81L628.30 505.82L628.80 505.82L629.30 505.83L629.80 505.83L630.30 505.84L630.80 505.84L631.30 505.85L631.80 505.85L632.30 505.85L632.80 505.86L633.30 505.86L633.80 505.86L634.30 505.86L634.80 505.87L635.30 505.87L635.80 505.87L636.30 505.87L636.80 505.88L637.30 505.88L637.80 505.88L638.30 505.88L638.80 505.88L639.30 505.88L639.80 505.88L640.30 505.89L640.80 505.89L641.30 505.89L641.80 505.89L642.30 505.89L642.80 505.89L643.30 505.89L643.80 505.89L644.30 505.89L644.80 505.89L645.30 505.89L645.80 505.89L646.30 505.89L646.80 505.89L647.30 505.89L647.80 505.90L648.30 505.90L648.80 505.90L649.30 505.90L649.80 505.90L650.30 505.90L650.80 505.90L651.30 505.90L651.80 505.90L652.30 505.90L652.80 505.90L653.30 505.90L653.80 505.90L654.30 505.90L654.80 505.90L655.30 505.90L655.80 505.90L656.30 505.90L656.80 505.90L657.30 505.90L657.80 505.90L658.30 505.90L658.80 505.90L659.30 505.90L659.80 505.90L660.30 505.90L660.80 505.90L661.30 505.90L661.80 505.90L662.30 505.90L662.80 505.90L663.30 505.90L663.80 505.90L664.30 505.90L664.80 505.90L665.30 505.90L665.80 505.90L666.30 505.90L666.80 505.90L667.30 505.90L667.80 505.90L668.30 505.90L668.80 505.90L669.30 505.90L669.80 505.90L670.30 505.90L670.80 505.90L671.30 505.90L671.80 505.90L672.30 505.90L672.80 505.90L673.30 505.90L673.80 505.90L674.30 505.90L674.80 505.90L675.30 505.90L675.80 505.90L676.30 505.90L676.80 505.90L677.30 505.90L677.80 505.90L678.30 505.90L678.80 505.90L679.30 505.90L679.80 505.90L680.30 505.90L680.80 505.90L681.30 505.90L681.80 505.90L682.30 505.90L682.80 505.90L683.30 505.90L683.80 505.90L684.30 505.90L684.80 505.90L685.30 505.90L685.80 505.90L686.30 505.90L686.80 505.90L687.30 505.90L687.80 505.90L688.30 505.90L688.80 505.90L689.30 505.90L689.80 505.90L690.30 505.90L690.80 505.90L691.30 505.90L691.80 505.90L692.30 505.90L692.80 505.90L693.30 505.90L693.80 505.90L694.30 505.90L694.80 505.90L695.30 505.90L695.80 505.90L696.30 505.90L696.80 505.90L697.30 505.90L697.80 505.90L698.30 505.90L698.80 505.90L699.30 505.90L699.80 505.90L700.30 505.90L700.80 505.90L701.30 505.90L701.80 505.90L702.30 505.90L702.80 505.90L703.30 505.90L703.80 505.90L704.30 505.90L704.80 505.90L705.30 505.90L705.80 505.90L706.30 505.90L706.80 505.90L707.30 505.90L707.80 505.90L708.30 505.90L708.80 505.90L709.30 505.90L709.80 505.90L710.30 505.90L710.80 505.90L711.30 505.90L711.80 505.90L712.30 505.90L712.80 505.90L713.30 505.90L713.80 505.90" fill="none" stroke="#ff00ff" stroke-width="1.1" stroke-linejoin="round" />
<path d="M417.30 505.90L417.80 505.90L418.30 505.90L418.80 505.90L419.30 505.90L419.80 505.90L420.30 505.90L420.80 505.90L421.30 505.90L421.80 505.90L422.30 505.90L422.80 505.90L423.30 505.90L423.80 505.90L424.30 505.90L424.80 505.90L425.30 505.90L425.80 505.90L426.30 505.90L426.80 505.90L427.30 505.90L427.80 505.90L428.30 505.90L428.80 505.90L429.30 505.90L429.80 505.90L430.30 505.90L430.80 505.90L431.30 505.90L431.80 505.90L432.30 505.90L432.80 505.90L433.30 505.90L433.80 505.90L434.30 505.90L434.80 505.90L435.30 505.90L435.80 505.90L436.30 505.90L436.80 505.90L437.30 505.90L437.80 505.90L438.30 505.90L438.80 505.90L439.30 505.90L439.80 505.90L440.30 505.90L440.80 505.90L441.30 505.90L441.80 505.90L442.30 505.90L442.80 505.90L443.30 505.90L443.80 505.90L444.30 505.90L444.80 505.90L445.30 505.90L445.80 505.90L446.30 505.90L446.80 505.90L447.30 505.90L447.80 505.90L448.30 505.90L448.80 505.90L449.30 505.90L449.80 505.90L450.30 505.90L450.80 505.90L451.30 505.90L451.80 505.90L452.30 505.90L452.80 505.90L453.30 505.90L453.80 505.90L454.30 505.90L454.80 505.90L455.30 505.90L455.80 505.90L456.30 505.90L456.80 505.90L457.30 505.90L457.80 505.90L458.30 505.90L458.80 505.90L459.30 505.90L459.80 505.90L460.30 505.90L460.80 505.90L461.30 505.90L461.80 505.90L462.30 505.90L462.80 505.90L463.30 505.90L463.80 505.90L464.30 505.90L464.80 505.90L465.30 505.90L465.80 505.90L466.30 505.90L466.80 505.90L467.30 505.90L467.80 505.90L468.30 505.90L468.80 505.90L469.30 505.90L469.80 505.90L470.30 505.90L470.80 505.90L471.30 505.90L471.80 505.90L472.30 505.90L472.80 505.90L473.30 505.90L473.80 505.90L474.30 505.90L474.80 505.90L475.30 505.90L475.80 505.90L476.30 505.90L476.80 505.90L477.30 505.90L477.80 505.90L478.30 505.90L478.80 505.90L479.30 505.90L479.80 505.90L480.30 505.90L480.80 505.90L481.30 505.90L481.80 505.90L482.30 505.90L482.80 505.90L483.30 505.90L483.80 505.90L484.30 505.90L484.80 505.90L485.30 505.90L485.80 505.90L486.30 505.90L486.80 505.90L487.30 505.90L487.80 505.90L488.30 505.90L488.80 505.90L489.30 505.90L489.80 505.90L490.30 505.90L490.80 505.90L491.30 505.90L491.80 505.90L492.30 505.90L492.80 505.90L493.30 505.90L493.80 505.90L494.30 505.90L494.80 505.90L495.30 505.90L495.80 505.90L496.30 505.90L496.80 505.90L497.30 505.90L497.80 505.90L498.30 505.90L498.80 505.90L499.30 505.90L499.80 505.90L500.30 505.90L500.80 505.90L501.30 505.90L501.80 505.90L502.30 505.90L502.80 505.90L503.30 505.90L503.80 505.90L504.30 505.90L504.80 505.90L505.30 505.90L505.80 505.90L506.30 505.90L506.80 505.90L507.30 505.90L507.80 505.90L508.30 505.90L508.80 505.90L509.30 505.90L509.80 505.90L510.30 505.90L510.80 505.90L511.30 505.90L511.80 505.90L512.30 505.90L512.80 505.90L513.30 505.90L513.80 505.90L514.30 505.90L514.80 505.90L515.30 505.90L515.80 505.90L516.30 505.90L516.80 505.90L517.30 505.90L517.80 505.90L518.30 505.90L518.80 505.90L519.30 505.90L519.80 505.90L520.30 505.90L520.80 505.90L521.30 505.90L521.80 505.90L522.30 505.90L522.80 505.90L523.30 505.90L523.80 505.90L524.30 505.90L524.80 505.90L525.30 505.90L525.80 505.90L526.30 505.90L526.80 505.89L527.30 505.89L527.80 505.89L528.30 505.89L528.80 505.89L529.30 505.89L529.80 505.89L530.30 505.88L530.80 505.88L531.30 505.88L531.80 505.87L532.30 505.87L532.80 505.86L533.30 505.85L533.80 505.84L534.30 505.84L534.80 505.82L535.30 505.81L535.80 505.80L536.30 505.78L536.80 505.76L537.30 505.74L537.80 505.71L538.30 505.68L538.80 505.65L539.30 505.61L539.80 505.57L540.30 505.52L540.80 505.47L541.30 505.41L541.80 505.34L542.30 505.26L542.80 505.17L543.30 505.07L543.80 504.96L544.30 504.84L544.80 504.70L545.30 504.54L545.80 504.37L546.30 504.19L546.80 503.98L547.30 503.75L547.80 503.49L548.30 503.21L548.80 502.91L549.30 502.57L549.80 502.21L550.30 501.81L550.80 501.38L551.30 500.90L551.80 500.39L552.30 499.84L552.80 499.24L553.30 498.60L553.80 497.91L554.30 497.17L554.80 496.37L555.30 495.53L555.80 494.62L556.30 493.66L556.80 492.64L557.30 491.56L557.80 490.42L558.30 489.22L558.80 487.96L559.30 486.63L559.80 485.24L560.30 483.79L560.80 482.28L561.30 480.70L561.80 479.07L562.30 477.39L562.80 475.65L563.30 473.86L563.80 472.02L564.30 470.15L564.80 468.23L565.30 466.27L565.80 464.29L566.30 462.29L566.80 460.27L567.30 458.24L567.80 456.20L568.30 454.17L568.80 452.14L569.30 450.14L569.80 448.16L570.30 446.21L570.80 444.30L571.30 442.45L571.80 440.65L572.30 438.92L572.80 437.26L573.30 435.68L573.80 434.19L574.30 432.79L574.80 431.50L575.30 430.31L575.80 429.24L576.30 428.29L576.80 427.46L577.30 426.77L577.80 426.20L578.30 425.77L578.80 425.48L579.30 425.33L579.80 425.31L580.30 425.44L580.80 425.70L581.30 426.10L581.80 426.64L582.30 427.31L582.80 428.12L583.30 429.04L583.80 430.09L584.30 431.25L584.80 432.52L585.30 433.90L585.80 435.37L586.30 436.93L586.80 438.58L587.30 440.30L587.80 442.08L588.30 443.93L588.80 445.82L589.30 447.76L589.80 449.74L590.30 451.74L590.80 453.76L591.30 455.79L591.80 457.83L592.30 459.86L592.80 461.89L593.30 463.89L593.80 465.88L594.30 467.84L594.80 469.76L595.30 471.65L595.80 473.50L596.30 475.30L596.80 477.05L597.30 478.74L597.80 480.38L598.30 481.97L598.80 483.49L599.30 484.95L599.80 486.36L600.30 487.70L600.80 488.97L601.30 490.19L601.80 491.34L602.30 492.43L602.80 493.46L603.30 494.44L603.80 495.35L604.30 496.21L604.80 497.01L605.30 497.77L605.80 498.47L606.30 499.12L606.80 499.72L607.30 500.29L607.80 500.81L608.30 501.28L608.80 501.73L609.30 502.13L609.80 502.50L610.30 502.84L610.80 503.16L611.30 503.44L611.80 503.70L612.30 503.93L612.80 504.15L613.30 504.34L613.80 504.51L614.30 504.67L614.80 504.81L615.30 504.94L615.80 505.05L616.30 505.15L616.80 505.24L617.30 505.32L617.80 505.39L618.30 505.46L618.80 505.51L619.30 505.56L619.80 505.61L620.30 505.64L620.80 505.68L621.30 505.71L621.80 505.73L622.30 505.76L622.80 505.78L623.30 505.79L623.80 505.81L624.30 505.82L624.80 505.83L625.30 505.84L625.80 505.85L626.30 505.86L626.80 505.86L627.30 505.87L627.80 505.87L628.30 505.88L628.80 505.88L629.30 505.88L629.80 505.89L630.30 505.89L630.80 505.89L631.30 505.89L631.80 505.89L632.30 505.89L632.80 505.90L633.30 505.90L633.80 505.90L634.30 505.90L634.80 505.90L635.30 505.90L635.80 505.90L636.30 505.90L636.80 505.90L637.30 505.90L637.80 505.90L638.30 505.90L638.80 505.90L639.30 505.90L639.80 505.90L640.30 505.90L640.80 505.90L641.30 505.90L641.80 505.90L642.30 505.90L642.80 505.90L643.30 505.90L643.80 505.90L644.30 505.90L644.80 505.90L645.30 505.90L645.80 505.90L646.30 505.90L646.80 505.90L647.30 505.90L647.80 505.90L648.30 505.90L648.80 505.90L649.30 505.90L649.80 505.90L650.30 505.90L650.80 505.90L651.30 505.90L651.80 505.90L652.30 505.90L652.80 505.90L653.30 505.90L653.80 505.90L654.30 505.90L654.80 505.90L655.30 505.90L655.80 505.90L656.30 505.90L656.80 505.90L657.30 505.90L657.80 505.90L658.30 505.90L658.80 505.90L659.30 505.90L659.80 505.90L660.30 505.90L660.80 505.90L661.30 505.90L661.80 505.90L662.30 505.90L662.80 505.90L663.30 505.90L663.80 505.90L664.30 505.90L664.80 505.90L665.30 505.90L665.80 505.90L666.30 505.90L666.80 505.90L667.30 505.90L667.80 505.90L668.30 505.90L668.80 505.90L669.30 505.90L669.80 505.90L670.30 505.90L670.80 505.90L671.30 505.90L671.80 505.90L672.30 505.90L672.80 505.90L673.30 505.90L673.80 505.90L674.30 505.90L674.80 505.90L675.30 505.90L675.80 505.90L676.30 505.90L676.80 505.90L677.30 505.90L677.80 505.90L678.30 505.90L678.80 505.90L679.30 505.90L679.80 505.90L680.30 505.90L680.80 505.90L681.30 505.90L681.80 505.90L682.30 505.90L682.80 505.90L683.30 505.90L683.80 505.90L684.30 505.90L684.80 505.90L685.30 505.90L685.80 505.90L686.30 505.90L686.80 505.90L687.30 505.90L687.80 505.90L688.30 505.90L688.80 505.90L689.30 505.90L689.80 505.90L690.30 505.90L690.80 505.90L691.30 505.90L691.80 505.90L692.30 505.90L692.80 505.90L693.30 505.90L693.80 505.90L694.30 505.90L694.80 505.90L695.30 505.90L695.80 505.90L696.30 505.90L696.80 505.90L697.30 505.90L697.80 505.90L698.30 505.90L698.80 505.90L699.30 505.90L699.80 505.90L700.30 505.90L700.80 505.90L701.30 505.90L701.80 505.90L702.30 505.90L702.80 505.90L703.30 505.90L703.80 505.90L704.30 505.90L704.80 505.90L705.30 505.90L705.80 505.90L706.30 505.90L706.80 505.90L707.30 505.90L707.80 505.90L708.30 505.90L708.80 505.90L709.30 505.90L709.80 505.90L710.30 505.90L710.80 505.90L711.30 505.90L711.80 505.90L712.30 505.90L712.80 505.90L713.30 505.90L713.80 505.90" fill="none" stroke="#008000" stroke-width="1.1" stroke-linejoin="round" />
<path d="M417.30 505.90L417.80 505.90L418.30 505.90L418.80 505.90L419.30 505.90L419.80 505.90L420.30 505.90L420.80 505.90L421.30 505.90L421.80 505.90L422.30 505.90L422.80 505.90L423.30 505.90L423.80 505.90L424.30 505.90L424.80 505.90L425.30 505.90L425.80 505.90L426.30 505.90L426.80 505.90L427.30 505.90L427.80 505.90L428.30 505.90L428.80 505.90L429.30 505.90L429.80 505.90L430.30 505.90L430.80 505.90L431.30 505.90L431.80 505.90L432.30 505.90L432.80 505.90L433.30 505.90L433.80 505.90L434.30 505.90L434.80 505.90L435.30 505.90L435.80 505.90L436.30 505.90L436.80 505.90L437.30 505.90L437.80 505.90L438.30 505.90L438.80 505.90L439.30 505.90L439.80 505.90L440.30 505.90L440.80 505.90L441.30 505.90L441.80 505.90L442.30 505.90L442.80 505.90L443.30 505.90L443.80 505.90L444.30 505.90L444.80 505.90L445.30 505.90L445.80 505.90L446.30 505.90L446.80 505.90L447.30 505.90L447.80 505.90L448.30 505.90L448.80 505.90L449.30 505.90L449.80 505.90L450.30 505.90L450.80 505.90L451.30 505.90L451.80 505.90L452.30 505.90L452.80 505.90L453.30 505.90L453.80 505.90L454.30 505.90L454.80 505.90L455.30 505.90L455.80 505.90L456.30 505.90L456.80 505.90L457.30 505.90L457.80 505.90L458.30 505.90L458.80 505.90L459.30 505.90L459.80 505.90L460.30 505.90L460.80 505.90L461.30 505.90L461.80 505.90L462.30 505.90L462.80 505.90L463.30 505.90L463.80 505.90L464.30 505.90L464.80 505.90L465.30 505.90L465.80 505.90L466.30 505.90L466.80 505.90L467.30 505.90L467.80 505.90L468.30 505.90L468.80 505.90L469.30 505.90L469.80 505.90L470.30 505.90L470.80 505.90L471.30 505.90L471.80 505.90L472.30 505.90L472.80 505.90L473.30 505.90L473.80 505.90L474.30 505.90L474.80 505.90L475.30 505.90L475.80 505.90L476.30 505.90L476.80 505.90L477.30 505.90L477.80 505.90L478.30 505.90L478.80 505.90L479.30 505.90L479.80 505.90L480.30 505.90L480.80 505.90L481.30 505.90L481.80 505.90L482.30 505.90L482.80 505.90L483.30 505.90L483.80 505.90L484.30 505.90L484.80 505.90L485.30 505.90L485.80 505.90L486.30 505.90L486.80 505.90L487.30 505.90L487.80 505.90L488.30 505.90L488.80 505.90L489.30 505.90L489.80 505.90L490.30 505.90L490.80 505.90L491.30 505.90L491.80 505.90L492.30 505.90L492.80 505.90L493.30 505.90L493.80 505.90L494.30 505.90L494.80 505.90L495.30 505.90L495.80 505.90L496.30 505.90L496.80 505.90L497.30 505.90L497.80 505.90L498.30 505.90L498.80 505.90L499.30 505.90L499.80 505.90L500.30 505.90L500.80 505.90L501.30 505.90L501.80 505.90L502.30 505.90L502.80 505.90L503.30 505.90L503.80 505.90L504.30 505.90L504.80 505.90L505.30 505.90L505.80 505.90L506.30 505.90L506.80 505.90L507.30 505.90L507.80 505.90L508.30 505.90L508.80 505.90L509.30 505.90L509.80 505.90L510.30 505.90L510.80 505.90L511.30 505.90L511.80 505.90L512.30 505.90L512.80 505.90L513.30 505.90L513.80 505.90L514.30 505.90L514.80 505.90L515.30 505.90L515.80 505.90L516.30 505.90L516.80 505.90L517.30 505.90L517.80 505.90L518.30 505.90L518.80 505.90L519.30 505.90L519.80 505.90L520.30 505.90L520.80 505.90L521.30 505.90L521.80 505.90L522.30 505.90L522.80 505.90L523.30 505.90L523.80 505.90L524.30 505.90L524.80 505.90L525.30 505.90L525.80 505.90L526.30 505.90L526.80 505.90L527.30 505.90L527.80 505.90L528.30 505.90L528.80 505.90L529.30 505.90L529.80 505.90L530.30 505.90L530.80 505.90L531.30 505.90L531.80 505.90L532.30 505.90L532.80 505.90L533.30 505.90L533.80 505.90L534.30 505.90L534.80 505.90L535.30 505.90L535.80 505.90L536.30 505.90L536.80 505.90L537.30 505.90L537.80 505.90L538.30 505.90L538.80 505.90L539.30 505.90L539.80 505.90L540.30 505.90L540.80 505.90L541.30 505.90L541.80 505.90L542.30 505.90L542.80 505.90L543.30 505.90L543.80 505.90L544.30 505.90L544.80 505.90L545.30 505.90L545.80 505.90L546.30 505.90L546.80 505.90L547.30 505.90L547.80 505.90L548.30 505.90L548.80 505.90L549.30 505.90L549.80 505.90L550.30 505.90L550.80 505.90L551.30 505.90L551.80 505.90L552.30 505.90L552.80 505.90L553.30 505.90L553.80 505.90L554.30 505.90L554.80 505.90L555.30 505.90L555.80 505.90L556.30 505.90L556.80 505.90L557.30 505.90L557.80 505.90L558.30 505.89L558.80 505.89L559.30 505.89L559.80 505.89L560.30 505.88L560.80 505.88L561.30 505.87L561.80 505.86L562.30 505.85L562.80 505.83L563.30 505.81L563.80 505.79L564.30 505.76L564.80 505.72L565.30 505.67L565.80 505.61L566.30 505.54L566.80 505.45L567.30 505.33L567.80 505.20L568.30 505.03L568.80 504.84L569.30 504.60L569.80 504.31L570.30 503.97L570.80 503.57L571.30 503.10L571.80 502.54L572.30 501.89L572.80 501.14L573.30 500.27L573.80 499.26L574.30 498.11L574.80 496.80L575.30 495.32L575.80 493.64L576.30 491.76L576.80 489.65L577.30 487.31L577.80 484.72L578.30 481.88L578.80 478.77L579.30 475.38L579.80 471.71L580.30 467.77L580.80 463.55L581.30 459.05L581.80 454.31L582.30 449.31L582.80 444.10L583.30 438.69L583.80 433.12L584.30 427.41L584.80 421.61L585.30 415.77L585.80 409.93L586.30 404.13L586.80 398.44L587.30 392.91L587.80 387.60L588.30 382.56L588.80 377.84L589.30 373.50L589.80 369.59L590.30 366.16L590.80 363.24L591.30 360.88L591.80 359.09L592.30 357.91L592.80 357.35L593.30 357.41L593.80 358.10L594.30 359.40L594.80 361.31L595.30 363.78L595.80 366.81L596.30 370.34L596.80 374.34L597.30 378.75L597.80 383.54L598.30 388.64L598.80 394.00L599.30 399.57L599.80 405.28L600.30 411.09L600.80 416.94L601.30 422.78L601.80 428.56L602.30 434.24L602.80 439.79L603.30 445.16L603.80 450.33L604.30 455.28L604.80 459.97L605.30 464.41L605.80 468.58L606.30 472.47L606.80 476.08L607.30 479.41L607.80 482.47L608.30 485.26L608.80 487.80L609.30 490.09L609.80 492.15L610.30 493.99L610.80 495.63L611.30 497.08L611.80 498.36L612.30 499.48L612.80 500.45L613.30 501.30L613.80 502.03L614.30 502.66L614.80 503.20L615.30 503.66L615.80 504.05L616.30 504.37L616.80 504.65L617.30 504.88L617.80 505.07L618.30 505.23L618.80 505.36L619.30 505.46L619.80 505.55L620.30 505.62L620.80 505.68L621.30 505.73L621.80 505.76L622.30 505.79L622.80 505.82L623.30 505.84L623.80 505.85L624.30 505.86L624.80 505.87L625.30 505.88L625.80 505.88L626.30 505.89L626.80 505.89L627.30 505.89L627.80 505.89L628.30 505.90L628.80 505.90L629.30 505.90L629.80 505.90L630.30 505.90L630.80 505.90L631.30 505.90L631.80 505.90L632.30 505.90L632.80 505.90L633.30 505.90L633.80 505.90L634.30 505.90L634.80 505.90L635.30 505.90L635.80 505.90L636.30 505.90L636.80 505.90L637.30 505.90L637.80 505.90L638.30 505.90L638.80 505.90L639.30 505.90L639.80 505.90L640.30 505.90L640.80 505.90L641.30 505.90L641.80 505.90L642.30 505.90L642.80 505.90L643.30 505.90L643.80 505.90L644.30 505.90L644.80 505.90L645.30 505.90L645.80 505.90L646.30 505.90L646.80 505.90L647.30 505.90L647.80 505.90L648.30 505.90L648.80 505.90L649.30 505.90L649.80 505.90L650.30 505.90L650.80 505.90L651.30 505.90L651.80 505.90L652.30 505.90L652.80 505.90L653.30 505.90L653.80 505.90L654.30 505.90L654.80 505.90L655.30 505.90L655.80 505.90L656.30 505.90L656.80 505.90L657.30 505.90L657.80 505.90L658.30 505.90L658.80 505.90L659.30 505.90L659.80 505.90L660.30 505.90L660.80 505.90L661.30 505.90L661.80 505.90L662.30 505.90L662.80 505.90L663.30 505.90L663.80 505.90L664.30 505.90L664.80 505.90L665.30 505.90L665.80 505.90L666.30 505.90L666.80 505.90L667.30 505.90L667.80 505.90L668.30 505.90L668.80 505.90L669.30 505.90L669.80 505.90L670.30 505.90L670.80 505.90L671.30 505.90L671.80 505.90L672.30 505.90L672.80 505.90L673.30 505.90L673.80 505.90L674.30 505.90L674.80 505.90L675.30 505.90L675.80 505.90L676.30 505.90L676.80 505.90L677.30 505.90L677.80 505.90L678.30 505.90L678.80 505.90L679.30 505.90L679.80 505.90L680.30 505.90L680.80 505.90L681.30 505.90L681.80 505.90L682.30 505.90L682.80 505.90L683.30 505.90L683.80 505.90L684.30 505.90L684.80 505.90L685.30 505.90L685.80 505.90L686.30 505.90L686.80 505.90L687.30 505.90L687.80 505.90L688.30 505.90L688.80 505.90L689.30 505.90L689.80 505.90L690.30 505.90L690.80 505.90L691.30 505.90L691.80 505.90L692.30 505.90L692.80 505.90L693.30 505.90L693.80 505.90L694.30 505.90L694.80 505.90L695.30 505.90L695.80 505.90L696.30 505.90L696.80 505.90L697.30 505.90L697.80 505.90L698.30 505.90L698.80 505.90L699.30 505.90L699.80 505.90L700.30 505.90L700.80 505.90L701.30 505.90L701.80 505.90L702.30 505.90L702.80 505.90L703.30 505.90L703.80 505.90L704.30 505.90L704.80 505.90L705.30 505.90L705.80 505.90L706.30 505.90L706.80 505.90L707.30 505.90L707.80 505.90L708.30 505.90L708.80 505.90L709.30 505.90L709.80 505.90L710.30 505.90L710.80 505.90L711.30 505.90L711.80 505.90L712.30 505.90L712.80 505.90L713.30 505.90L713.80 505.90" fill="none" stroke="#000080" stroke-width="1.1" stroke-linejoin="round" />
<path d="M417.30 505.89L417.80 505.89L418.30 505.89L418.80 505.88L419.30 505.88L419.80 505.88L420.30 505.88L420.80 505.88L421.30 505.88L421.80 505.88L422.30 505.87L422.80 505.87L423.30 505.87L423.80 505.87L424.30 505.87L424.80 505.86L425.30 505.86L425.80 505.86L426.30 505.86L426.80 505.85L427.30 505.85L427.80 505.85L428.30 505.84L428.80 505.84L429.30 505.83L429.80 505.83L430.30 505.82L430.80 505.82L431.30 505.81L431.80 505.81L432.30 505.80L432.80 505.79L433.30 505.79L433.80 505.78L434.30 505.77L434.80 505.76L435.30 505.75L435.80 505.74L436.30 505.73L436.80 505.72L437.30 505.71L437.80 505.70L438.30 505.68L438.80 505.67L439.30 505.66L439.80 505.64L440.30 505.62L440.80 505.61L441.30 505.59L441.80 505.57L442.30 505.55L442.80 505.53L443.30 505.51L443.80 505.48L444.30 505.46L444.80 505.43L445.30 505.40L445.80 505.37L446.30 505.34L446.80 505.31L447.30 505.27L447.80 505.24L448.30 505.20L448.80 505.16L449.30 505.12L449.80 505.07L450.30 505.03L450.80 504.98L451.30 504.92L451.80 504.87L452.30 504.81L452.80 504.75L453.30 504.69L453.80 504.62L454.30 504.55L454.80 504.48L455.30 504.40L455.80 504.32L456.30 504.23L456.80 504.14L457.30 504.04L457.80 503.94L458.30 503.84L458.80 503.73L459.30 503.61L459.80 503.49L460.30 503.36L460.80 503.22L461.30 503.08L461.80 502.92L462.30 502.76L462.80 502.60L463.30 502.42L463.80 502.23L464.30 502.03L464.80 501.83L465.30 501.61L465.80 501.37L466.30 501.13L466.80 500.87L467.30 500.60L467.80 500.31L468.30 500.01L468.80 499.69L469.30 499.35L469.80 498.99L470.30 498.62L470.80 498.22L471.30 497.80L471.80 497.35L472.30 496.89L472.80 496.39L473.30 495.87L473.80 495.32L474.30 494.74L474.80 494.13L475.30 493.48L475.80 492.80L476.30 492.08L476.80 491.32L477.30 490.53L477.80 489.69L478.30 488.81L478.80 487.88L479.30 486.91L479.80 485.89L480.30 484.81L480.80 483.69L481.30 482.51L481.80 481.27L482.30 479.98L482.80 478.62L483.30 477.21L483.80 475.73L484.30 474.18L484.80 472.58L485.30 470.90L485.80 469.15L486.30 467.34L486.80 465.45L487.30 463.50L487.80 461.47L488.30 459.36L488.80 457.19L489.30 454.94L489.80 452.61L490.30 450.22L490.80 447.75L491.30 445.21L491.80 442.60L492.30 439.91L492.80 437.16L493.30 434.35L493.80 431.47L494.30 428.52L494.80 425.52L495.30 422.46L495.80 419.35L496.30 416.19L496.80 412.98L497.30 409.73L497.80 406.44L498.30 403.12L498.80 399.77L499.30 396.40L499.80 393.02L500.30 389.62L500.80 386.22L501.30 382.82L501.80 379.42L502.30 376.04L502.80 372.68L503.30 369.35L503.80 366.05L504.30 362.79L504.80 359.59L505.30 356.43L505.80 353.34L506.30 350.32L506.80 347.38L507.30 344.51L507.80 341.74L508.30 339.07L508.80 336.50L509.30 334.03L509.80 331.69L510.30 329.46L510.80 327.36L511.30 325.39L511.80 323.55L512.30 321.86L512.80 320.31L513.30 318.91L513.80 317.66L514.30 316.56L514.80 315.62L515.30 314.84L515.80 314.21L516.30 313.75L516.80 313.44L517.30 313.30L517.80 313.31L518.30 313.49L518.80 313.82L519.30 314.31L519.80 314.95L520.30 315.74L520.80 316.67L521.30 317.75L521.80 318.97L522.30 320.32L522.80 321.81L523.30 323.42L523.80 325.15L524.30 327.00L524.80 328.95L525.30 331.01L525.80 333.16L526.30 335.41L526.80 337.73L527.30 340.14L527.80 342.62L528.30 345.16L528.80 347.77L529.30 350.42L529.80 353.12L530.30 355.86L530.80 358.63L531.30 361.43L531.80 364.25L532.30 367.08L532.80 369.92L533.30 372.77L533.80 375.61L534.30 378.45L534.80 381.27L535.30 384.08L535.80 386.87L536.30 389.63L536.80 392.36L537.30 395.05L537.80 397.71L538.30 400.34L538.80 402.91L539.30 405.44L539.80 407.92L540.30 410.36L540.80 412.73L541.30 415.05L541.80 417.32L542.30 419.52L542.80 421.66L543.30 423.74L543.80 425.76L544.30 427.71L544.80 429.60L545.30 431.41L545.80 433.16L546.30 434.84L546.80 436.45L547.30 437.99L547.80 439.46L548.30 440.85L548.80 442.17L549.30 443.41L549.80 444.58L550.30 445.67L550.80 446.68L551.30 447.61L551.80 448.47L552.30 449.24L552.80 449.94L553.30 450.55L553.80 451.08L554.30 451.52L554.80 451.88L555.30 452.15L555.80 452.34L556.30 452.45L556.80 452.46L557.30 452.39L557.80 452.23L558.30 451.99L558.80 451.66L559.30 451.24L559.80 450.74L560.30 450.16L560.80 449.49L561.30 448.74L561.80 447.92L562.30 447.01L562.80 446.04L563.30 444.99L563.80 443.87L564.30 442.69L564.80 441.45L565.30 440.15L565.80 438.80L566.30 437.39L566.80 435.93L567.30 434.44L567.80 432.89L568.30 431.32L568.80 429.70L569.30 428.05L569.80 426.37L570.30 424.65L570.80 422.91L571.30 421.13L571.80 419.31L572.30 417.45L572.80 415.55L573.30 413.61L573.80 411.61L574.30 409.54L574.80 407.41L575.30 405.20L575.80 402.91L576.30 400.52L576.80 398.02L577.30 395.40L577.80 392.66L578.30 389.79L578.80 386.78L579.30 383.62L579.80 380.32L580.30 376.86L580.80 373.26L581.30 369.52L581.80 365.65L582.30 361.66L582.80 357.57L583.30 353.40L583.80 349.17L584.30 344.92L584.80 340.69L585.30 336.50L585.80 332.39L586.30 328.43L586.80 324.64L587.30 321.07L587.80 317.79L588.30 314.82L588.80 312.23L589.30 310.05L589.80 308.32L590.30 307.10L590.80 306.40L591.30 306.26L591.80 306.70L592.30 307.73L592.80 309.36L593.30 311.60L593.80 314.43L594.30 317.85L594.80 321.83L595.30 326.34L595.80 331.35L596.30 336.81L596.80 342.69L597.30 348.93L597.80 355.48L598.30 362.28L598.80 369.27L599.30 376.41L599.80 383.63L600.30 390.87L600.80 398.09L601.30 405.24L601.80 412.26L602.30 419.12L602.80 425.77L603.30 432.20L603.80 438.35L604.30 444.23L604.80 449.80L605.30 455.05L605.80 459.98L606.30 464.58L606.80 468.85L607.30 472.80L607.80 476.43L608.30 479.75L608.80 482.77L609.30 485.52L609.80 487.99L610.30 490.21L610.80 492.20L611.30 493.97L611.80 495.54L612.30 496.93L612.80 498.15L613.30 499.22L613.80 500.15L614.30 500.97L614.80 501.67L615.30 502.28L615.80 502.81L616.30 503.26L616.80 503.64L617.30 503.97L617.80 504.25L618.30 504.49L618.80 504.70L619.30 504.87L619.80 505.02L620.30 505.14L620.80 505.25L621.30 505.33L621.80 505.41L622.30 505.47L622.80 505.53L623.30 505.57L623.80 505.61L624.30 505.65L624.80 505.67L625.30 505.70L625.80 505.72L626.30 505.74L626.80 505.76L627.30 505.77L627.80 505.78L628.30 505.79L628.80 505.80L629.30 505.81L629.80 505.82L630.30 505.83L630.80 505.83L631.30 505.84L631.80 505.84L632.30 505.85L632.80 505.85L633.30 505.86L633.80 505.86L634.30 505.86L634.80 505.86L635.30 505.87L635.80 505.87L636.30 505.87L636.80 505.87L637.30 505.88L637.80 505.88L638.30 505.88L638.80 505.88L639.30 505.88L639.80 505.88L640.30 505.88L640.80 505.89L641.30 505.89L641.80 505.89L642.30 505.89L642.80 505.89L643.30 505.89L643.80 505.89L644.30 505.89L644.80 505.89L645.30 505.89L645.80 505.89L646.30 505.89L646.80 505.89L647.30 505.89L647.80 505.90L648.30 505.90L648.80 505.90L649.30 505.90L649.80 505.90L650.30 505.90L650.80 505.90L651.30 505.90L651.80 505.90L652.30 505.90L652.80 505.90L653.30 505.90L653.80 505.90L654.30 505.90L654.80 505.90L655.30 505.90L655.80 505.90L656.30 505.90L656.80 505.90L657.30 505.90L657.80 505.90L658.30 505.90L658.80 505.90L659.30 505.90L659.80 505.90L660.30 505.90L660.80 505.90L661.30 505.90L661.80 505.90L662.30 505.90L662.80 505.90L663.30 505.90L663.80 505.90L664.30 505.90L664.80 505.90L665.30 505.90L665.80 505.90L666.30 505.90L666.80 505.90L667.30 505.90L667.80 505.90L668.30 505.90L668.80 505.90L669.30 505.90L669.80 505.90L670.30 505.90L670.80 505.90L671.30 505.90L671.80 505.90L672.30 505.90L672.80 505.90L673.30 505.90L673.80 505.90L674.30 505.90L674.80 505.90L675.30 505.90L675.80 505.90L676.30 505.90L676.80 505.90L677.30 505.90L677.80 505.90L678.30 505.90L678.80 505.90L679.30 505.90L679.80 505.90L680.30 505.90L680.80 505.90L681.30 505.90L681.80 505.90L682.30 505.90L682.80 505.90L683.30 505.90L683.80 505.90L684.30 505.90L684.80 505.90L685.30 505.90L685.80 505.90L686.30 505.90L686.80 505.90L687.30 505.90L687.80 505.90L688.30 505.90L688.80 505.90L689.30 505.90L689.80 505.90L690.30 505.90L690.80 505.90L691.30 505.90L691.80 505.90L692.30 505.90L692.80 505.90L693.30 505.90L693.80 505.90L694.30 505.90L694.80 505.90L695.30 505.90L695.80 505.90L696.30 505.90L696.80 505.90L697.30 505.90L697.80 505.90L698.30 505.90L698.80 505.90L699.30 505.90L699.80 505.90L700.30 505.90L700.80 505.90L701.30 505.90L701.80 505.90L702.30 505.90L702.80 505.90L703.30 505.90L703.80 505.90L704.30 505.90L704.80 505.90L705.30 505.90L705.80 505.90L706.30 505.90L706.80 505.90L707.30 505.90L707.80 505.90L708.30 505.90L708.80 505.90L709.30 505.90L709.80 505.90L710.30 505.90L710.80 505.90L711.30 505.90L711.80 505.90L712.30 505.90L712.80 505.90L713.30 505.90L713.80 505.90" fill="none" stroke="#8000ff" stroke-width="1.15" stroke-linejoin="round" />
<path d="M633.1 333.90H659.1" stroke="#000000" stroke-width="1.5"/>
<text x="662" y="337.80" font-size="11.4" fill="#111">Raw</text>
<path d="M633.1 347.97H659.1" stroke="#ff0000" stroke-width="1.5"/>
<text x="662" y="351.87" font-size="11.4" fill="#111">Baseline</text>
<path d="M633.1 362.04H659.1" stroke="#0000ff" stroke-width="1.5"/>
<text x="662" y="365.94" font-size="11.4" fill="#111">D2</text>
<path d="M633.1 376.11H659.1" stroke="#ff00ff" stroke-width="1.5"/>
<text x="662" y="380.01" font-size="11.4" fill="#111">D1</text>
<path d="M633.1 390.18H659.1" stroke="#008000" stroke-width="1.5"/>
<text x="662" y="394.08" font-size="11.4" fill="#111">G2</text>
<path d="M633.1 404.25H659.1" stroke="#000080" stroke-width="1.5"/>
<text x="662" y="408.15" font-size="11.4" fill="#111">G1</text>
<path d="M633.1 418.32H659.1" stroke="#8000ff" stroke-width="1.5"/>
<text x="662" y="422.22" font-size="11.4" fill="#111">Peak Total</text>
</svg>
</body></html>
